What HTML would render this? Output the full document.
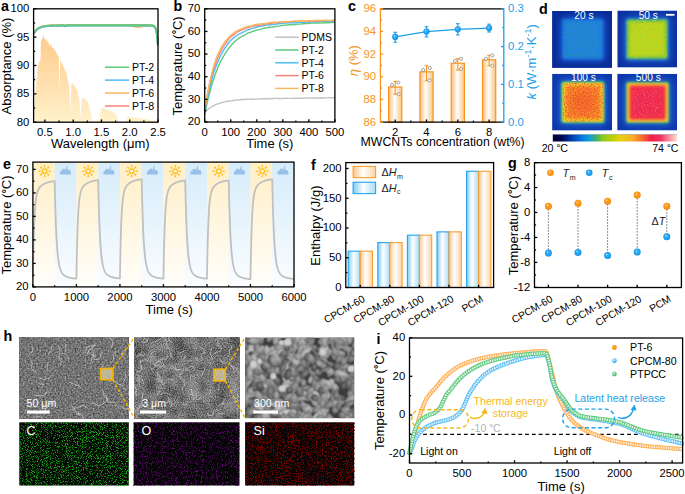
<!DOCTYPE html>
<html><head><meta charset="utf-8"><style>
html,body{margin:0;padding:0;background:#fff;overflow:hidden}
svg{display:block}
text{font-family:"Liberation Sans",sans-serif}
</style></head><body>
<svg width="685" height="494" viewBox="0 0 685 494">
<defs><linearGradient id="solar" x1="0" y1="0" x2="0" y2="1"><stop offset="0" stop-color="#FFCA8A"/><stop offset="0.55" stop-color="#FFDFAE"/><stop offset="1" stop-color="#FFF2CA"/></linearGradient>
<linearGradient id="barO" x1="0" y1="0" x2="1" y2="0"><stop offset="0" stop-color="#FDBB70"/><stop offset="0.45" stop-color="#FFFFFF"/><stop offset="1" stop-color="#FDC47F"/></linearGradient>
<radialGradient id="ballB" cx="0.5" cy="0.5" r="0.5" fx="0.36" fy="0.32"><stop offset="0" stop-color="#E4F6FF"/><stop offset="0.28" stop-color="#36B2F8"/><stop offset="0.8" stop-color="#1C9EEE"/><stop offset="1" stop-color="#128CDC"/></radialGradient>
<radialGradient id="ballO" cx="0.5" cy="0.5" r="0.5" fx="0.36" fy="0.32"><stop offset="0" stop-color="#FFF0DA"/><stop offset="0.28" stop-color="#FFA42C"/><stop offset="0.8" stop-color="#FA9214"/><stop offset="1" stop-color="#EC8200"/></radialGradient>
<linearGradient id="stY" x1="0" y1="0" x2="0" y2="1"><stop offset="0" stop-color="#FFEFC6"/><stop offset="0.5" stop-color="#FFF6E0"/><stop offset="1" stop-color="#FFFEFA"/></linearGradient>
<linearGradient id="stB" x1="0" y1="0" x2="0" y2="1"><stop offset="0" stop-color="#D6ECFA"/><stop offset="0.5" stop-color="#E8F4FC"/><stop offset="1" stop-color="#FAFDFF"/></linearGradient>
<g id="sun"><circle r="2.3" fill="#FFF6D8" stroke="#FFBD1E" stroke-width="1.35"/><line x1="4.5" y1="0" x2="5.4" y2="0" stroke="#FFBD1E" stroke-width="1.6" stroke-linecap="round"/><line x1="3.18" y1="3.18" x2="3.82" y2="3.82" stroke="#FFBD1E" stroke-width="1.6" stroke-linecap="round"/><line x1="0" y1="4.5" x2="0" y2="5.4" stroke="#FFBD1E" stroke-width="1.6" stroke-linecap="round"/><line x1="-3.18" y1="3.18" x2="-3.82" y2="3.82" stroke="#FFBD1E" stroke-width="1.6" stroke-linecap="round"/><line x1="-4.5" y1="0" x2="-5.4" y2="0" stroke="#FFBD1E" stroke-width="1.6" stroke-linecap="round"/><line x1="-3.18" y1="-3.18" x2="-3.82" y2="-3.82" stroke="#FFBD1E" stroke-width="1.6" stroke-linecap="round"/><line x1="-0" y1="-4.5" x2="-0" y2="-5.4" stroke="#FFBD1E" stroke-width="1.6" stroke-linecap="round"/><line x1="3.18" y1="-3.18" x2="3.82" y2="-3.82" stroke="#FFBD1E" stroke-width="1.6" stroke-linecap="round"/></g>
<g id="cloud" fill="#98BFE7"><path d="M-5.4,3.2 L5.0,3.2 C5.8,3.2 6.0,1.2 5.2,0.6 C5.5,-0.6 4.6,-1.4 3.6,-1.3 C3.0,-1.6 2.2,-1.5 1.8,-1.2 L0.4,-1.2 C0.2,-2.2 -0.6,-2.6 -1.6,-2.6 C-2.8,-2.6 -3.4,-1.9 -3.5,-1.0 C-4.6,-0.9 -5.4,0 -5.4,1.2 Z"/><path d="M0.6,-1.0 C0.3,-2.8 1.0,-5.0 2.5,-6.2 C2.0,-4.6 2.0,-3.0 2.5,-1.2 Z"/></g>
<linearGradient id="barB" x1="0" y1="0" x2="1" y2="0"><stop offset="0" stop-color="#7FCBF7"/><stop offset="0.45" stop-color="#FFFFFF"/><stop offset="1" stop-color="#A8DBF9"/></linearGradient>
<linearGradient id="barO2" x1="0" y1="0" x2="1" y2="0"><stop offset="0" stop-color="#FCC58A"/><stop offset="0.45" stop-color="#FFFFFF"/><stop offset="1" stop-color="#FDD2A3"/></linearGradient>
<radialGradient id="ballBL" cx="0.38" cy="0.35" r="0.65"><stop offset="0" stop-color="#E8F6FF"/><stop offset="0.4" stop-color="#7CCBF7"/><stop offset="1" stop-color="#3AA8EC"/></radialGradient>
<radialGradient id="ballG" cx="0.38" cy="0.35" r="0.65"><stop offset="0" stop-color="#E6F8EA"/><stop offset="0.4" stop-color="#7DD394"/><stop offset="1" stop-color="#44B463"/></radialGradient>
<filter id="blH" x="-50%" y="-50%" width="200%" height="200%"><feGaussianBlur stdDeviation="4.2"/></filter>
<filter id="blR" x="-20%" y="-20%" width="140%" height="140%"><feGaussianBlur stdDeviation="1.4"/></filter>
<filter id="blE" x="-10%" y="-10%" width="120%" height="120%"><feGaussianBlur stdDeviation="0.9"/></filter>
<filter id="blI" x="-20%" y="-20%" width="140%" height="140%"><feGaussianBlur stdDeviation="1.8"/></filter>
<filter id="blC" x="-40%" y="-40%" width="180%" height="180%"><feGaussianBlur stdDeviation="5"/></filter>
<filter id="spk20" color-interpolation-filters="sRGB" x="0" y="0" width="100%" height="100%"><feTurbulence type="fractalNoise" baseFrequency="0.9" numOctaves="2" seed="11"/><feColorMatrix type="matrix" values="0 0 0 0 0.12  0 0 0 0 0.62  0 0 0 0 0.62  2.6 0 0 0 -1.3"/><feGaussianBlur stdDeviation="0.45"/></filter>
<filter id="spk50" color-interpolation-filters="sRGB" x="0" y="0" width="100%" height="100%"><feTurbulence type="fractalNoise" baseFrequency="0.9" numOctaves="2" seed="12"/><feColorMatrix type="matrix" values="0 0 0 0 0.9  0 0 0 0 0.86  0 0 0 0 0.05  2.6 0 0 0 -1.35"/><feGaussianBlur stdDeviation="0.45"/></filter>
<filter id="spk100" color-interpolation-filters="sRGB" x="0" y="0" width="100%" height="100%"><feTurbulence type="fractalNoise" baseFrequency="0.9" numOctaves="2" seed="13"/><feColorMatrix type="matrix" values="0 0 0 0 0.93  0 0 0 0 0.25  0 0 0 0 0.14  3.0 0 0 0 -1.4"/><feGaussianBlur stdDeviation="0.45"/></filter>
<filter id="spk500" color-interpolation-filters="sRGB" x="0" y="0" width="100%" height="100%"><feTurbulence type="fractalNoise" baseFrequency="0.9" numOctaves="2" seed="14"/><feColorMatrix type="matrix" values="0 0 0 0 0.99  0 0 0 0 0.62  0 0 0 0 0.72  2.4 0 0 0 -1.4"/><feGaussianBlur stdDeviation="0.45"/></filter>
<filter id="spk100b" color-interpolation-filters="sRGB" x="0" y="0" width="100%" height="100%"><feTurbulence type="fractalNoise" baseFrequency="0.9" numOctaves="2" seed="15"/><feColorMatrix type="matrix" values="0 0 0 0 0.99  0 0 0 0 0.78  0 0 0 0 0.1  3 0 0 0 -1.5"/><feGaussianBlur stdDeviation="0.45"/></filter>
<clipPath id="clip5531"><rect x="552.1" y="10.9" width="59.9" height="57"/></clipPath>
<clipPath id="clip6183"><rect x="617.3" y="10.5" width="59.8" height="57.1"/></clipPath>
<clipPath id="clip5594"><rect x="552.1" y="73.8" width="59.9" height="56.8"/></clipPath>
<clipPath id="clip6245"><rect x="617.2" y="73.8" width="59.9" height="56.7"/></clipPath>
<linearGradient id="cbar" x1="0" y1="0" x2="1" y2="0"><stop offset="0" stop-color="#000038"/><stop offset="0.07" stop-color="#00084C"/><stop offset="0.11" stop-color="#001E82"/><stop offset="0.18" stop-color="#0050C0"/><stop offset="0.245" stop-color="#0480E2"/><stop offset="0.3" stop-color="#12A0D4"/><stop offset="0.35" stop-color="#40B068"/><stop offset="0.4" stop-color="#8CC824"/><stop offset="0.475" stop-color="#B8D004"/><stop offset="0.54" stop-color="#E6D012"/><stop offset="0.64" stop-color="#F8B022"/><stop offset="0.73" stop-color="#F86230"/><stop offset="0.79" stop-color="#F02048"/><stop offset="0.87" stop-color="#F03462"/><stop offset="0.93" stop-color="#F88494"/><stop offset="1.0" stop-color="#FFE2CC"/></linearGradient>
<filter id="sem1" color-interpolation-filters="sRGB" x="0" y="0" width="100%" height="100%"><feTurbulence type="fractalNoise" baseFrequency="0.6" numOctaves="2" seed="4"/><feColorMatrix type="matrix" values="0.6 0 0 0 0.15  0.6 0 0 0 0.15  0.6 0 0 0 0.15  0 0 0 0 1"/></filter>
<filter id="sem2" color-interpolation-filters="sRGB" x="0" y="0" width="100%" height="100%"><feTurbulence type="fractalNoise" baseFrequency="0.85" numOctaves="1" seed="9"/><feColorMatrix type="matrix" values="1 0 0 0 0  1 0 0 0 0  1 0 0 0 0  0 0 0 0 1" result="f"/><feTurbulence type="fractalNoise" baseFrequency="0.07" numOctaves="2" seed="3"/><feColorMatrix type="matrix" values="1 0 0 0 0  1 0 0 0 0  1 0 0 0 0  0 0 0 0 1" result="c"/><feComposite in="f" in2="c" operator="arithmetic" k1="0" k2="0.7" k3="0.42" k4="-0.11"/></filter>
<filter id="sem3" color-interpolation-filters="sRGB" x="0" y="0" width="100%" height="100%"><feTurbulence type="fractalNoise" baseFrequency="0.16" numOctaves="3" seed="21"/><feColorMatrix type="matrix" values="1.7 0 0 0 -0.43  1.7 0 0 0 -0.43  1.7 0 0 0 -0.43  0 0 0 0 1"/></filter>
<filter id="edsC" color-interpolation-filters="sRGB" x="0" y="0" width="100%" height="100%"><feTurbulence type="fractalNoise" baseFrequency="1.2" numOctaves="2" seed="31"/><feColorMatrix type="matrix" values="0 0 0 0 0.09  0 0 0 0 0.68  0 0 0 0 0.09  5.0 0 0 0 -2.5"/><feGaussianBlur stdDeviation="0.4"/></filter>
<filter id="edsO" color-interpolation-filters="sRGB" x="0" y="0" width="100%" height="100%"><feTurbulence type="fractalNoise" baseFrequency="1.2" numOctaves="2" seed="32"/><feColorMatrix type="matrix" values="0 0 0 0 0.4  0 0 0 0 0.04  0 0 0 0 0.47  5.0 0 0 0 -2.65"/><feGaussianBlur stdDeviation="0.4"/></filter>
<filter id="edsS" color-interpolation-filters="sRGB" x="0" y="0" width="100%" height="100%"><feTurbulence type="fractalNoise" baseFrequency="1.2" numOctaves="2" seed="33"/><feColorMatrix type="matrix" values="0 0 0 0 0.54  0 0 0 0 0.02  0 0 0 0 0.02  4.0 0 0 0 -1.9"/><feGaussianBlur stdDeviation="0.4"/></filter>
<radialGradient id="part" cx="0.42" cy="0.38" r="0.62"><stop offset="0" stop-color="#fff" stop-opacity="0.35"/><stop offset="0.6" stop-color="#fff" stop-opacity="0.06"/><stop offset="1" stop-color="#000" stop-opacity="0.35"/></radialGradient>
<filter id="pblur" x="-5%" y="-5%" width="110%" height="110%" filterRes="200"><feConvolveMatrix order="3" kernelMatrix="1 2 1 2 4 2 1 2 1" divisor="16" edgeMode="duplicate"/></filter>
<clipPath id="sc19"><rect x="19.3" y="337.4" width="109.5" height="80.8"/></clipPath>
<clipPath id="sc134"><rect x="134.2" y="337.4" width="105.6" height="80.8"/></clipPath>
<clipPath id="sc245"><rect x="245.1" y="337.4" width="109.2" height="80.8"/></clipPath></defs>
<path d="M33.6,122.2 L33.6,122.2 L33.83,117.66 L34.05,113.13 L34.28,109.35 L34.5,106.32 L34.73,103.3 L34.96,100.28 L35.18,97.25 L35.41,94.23 L35.64,91.2 L35.86,88.18 L36.09,85.62 L36.31,83.06 L36.54,80.5 L36.77,77.94 L36.99,75.38 L37.22,72.82 L37.45,70.26 L37.67,68.12 L37.9,67.26 L38.12,66.4 L38.35,65.54 L38.58,64.68 L38.8,63.82 L39.03,62.96 L39.25,62.1 L39.48,61.53 L39.71,60.96 L39.93,60.4 L40.16,59.83 L40.39,59.26 L40.61,58.7 L40.84,44.18 L41.06,40.3 L41.29,40.62 L41.52,40.91 L41.74,38.65 L41.97,40.04 L42.19,37.76 L42.42,39.66 L42.65,37.15 L42.87,36.15 L43.1,38.3 L43.33,34.72 L43.55,34.69 L43.78,36.35 L44,37.1 L44.23,37.71 L44.46,40.05 L44.68,38.66 L44.91,38.5 L45.14,39.32 L45.36,39.16 L45.59,39.22 L45.81,39.03 L46.04,39.07 L46.27,39.97 L46.49,39.41 L46.72,41.18 L46.94,42.75 L47.17,41.77 L47.4,41.27 L47.62,40.91 L47.85,41.34 L48.08,41.62 L48.3,42.12 L48.53,42.14 L48.75,45 L48.98,43.98 L49.21,46.67 L49.43,47.82 L49.66,45.27 L49.89,45.21 L50.11,43.99 L50.34,43.99 L50.56,44.98 L50.79,44.51 L51.02,44.98 L51.24,44.95 L51.47,46.53 L51.69,48.68 L51.92,46.1 L52.15,48.74 L52.37,46.47 L52.6,47.44 L52.83,47.79 L53.05,47.64 L53.28,47.67 L53.5,48.04 L53.73,48.63 L53.96,48.4 L54.18,49.3 L54.41,49.41 L54.63,50.69 L54.86,49.83 L55.09,50.5 L55.31,50.47 L55.54,50.92 L55.77,51.5 L55.99,52.84 L56.22,52.04 L56.44,52.93 L56.67,53.2 L56.9,53.04 L57.12,53.44 L57.35,55.82 L57.58,54.51 L57.8,54.72 L58.03,56.2 L58.25,56.78 L58.48,56.48 L58.71,56.34 L58.93,61.38 L59.16,73.17 L59.38,88.61 L59.61,86.8 L59.84,72.06 L60.06,65.42 L60.29,59.63 L60.52,60.36 L60.74,61.03 L60.97,60.97 L61.19,63.45 L61.42,63.11 L61.65,62.07 L61.87,63.17 L62.1,63.31 L62.33,65.54 L62.55,64.84 L62.78,65.04 L63,65.88 L63.23,66.24 L63.46,66.83 L63.68,67.39 L63.91,67.46 L64.13,67.39 L64.36,68.45 L64.59,68.68 L64.81,71.64 L65.04,70.15 L65.27,72.19 L65.49,70.06 L65.72,70.49 L65.94,71.35 L66.17,71.98 L66.4,73 L66.62,74.45 L66.85,74.66 L67.07,75.36 L67.3,77.69 L67.53,79.6 L67.75,79.01 L67.98,80.51 L68.21,81.16 L68.43,82.68 L68.66,83.48 L68.88,84.65 L69.11,86.34 L69.34,86.85 L69.56,91.21 L69.79,96.68 L70.02,106.9 L70.24,111.09 L70.47,111.39 L70.69,104.1 L70.92,99.13 L71.15,88.91 L71.37,83.05 L71.6,83.4 L71.82,83.72 L72.05,83.94 L72.28,83.08 L72.5,83.07 L72.73,85.09 L72.96,83.1 L73.18,83.41 L73.41,87.02 L73.63,84.63 L73.86,85.17 L74.09,85.12 L74.31,85.34 L74.54,85.08 L74.77,85.1 L74.99,85.67 L75.22,88.16 L75.44,89.83 L75.67,87.45 L75.9,87.39 L76.12,87.68 L76.35,88.06 L76.57,89.97 L76.8,88.81 L77.03,90.73 L77.25,91.56 L77.48,90.71 L77.71,92.14 L77.93,91.84 L78.16,93.49 L78.38,98.26 L78.61,97.34 L78.84,95.73 L79.06,97.45 L79.29,101.31 L79.51,103.01 L79.74,106.27 L79.97,109.14 L80.19,113.11 L80.42,117.79 L80.65,114.31 L80.87,114.24 L81.1,108.61 L81.32,105.63 L81.55,102.35 L81.78,99.31 L82,98.86 L82.23,98.73 L82.46,98.57 L82.68,98.01 L82.91,99.39 L83.13,99.06 L83.36,97.82 L83.59,97.82 L83.81,97.92 L84.04,98.07 L84.26,99.91 L84.49,98.7 L84.72,98.51 L84.94,98.6 L85.17,98.6 L85.4,98.89 L85.62,99.33 L85.85,100.01 L86.07,99.65 L86.3,101.67 L86.53,100.24 L86.75,99.94 L86.98,99.98 L87.21,100.15 L87.43,101.76 L87.66,101.95 L87.88,101.76 L88.11,104.14 L88.34,102.6 L88.56,104.06 L88.79,106.02 L89.01,107.51 L89.24,106.21 L89.47,108.56 L89.69,107.9 L89.92,109.06 L90.15,109.55 L90.37,110.86 L90.6,111.4 L90.82,113.03 L91.05,117.62 L91.28,115.45 L91.5,116.59 L91.73,118.06 L91.95,119.25 L92.18,120.16 L92.41,121.07 L92.63,121.97 L92.86,122.2 L93.09,122.2 L93.31,122.2 L93.54,122.2 L93.76,122.2 L93.99,122.2 L94.22,122.2 L94.44,122.2 L94.67,122.2 L94.9,122.2 L95.12,122.2 L95.35,122.2 L95.57,122.2 L95.8,122.2 L96.03,122.2 L96.25,122.2 L96.48,122.03 L96.7,121.69 L96.93,121.35 L97.16,121.01 L97.38,120.67 L97.61,120.39 L97.84,120.16 L98.06,119.93 L98.29,119.71 L98.51,119.48 L98.74,119.59 L98.97,120.05 L99.19,120.5 L99.42,120.95 L99.65,119.48 L99.87,117.36 L100.1,115.24 L100.32,113.13 L100.55,111.99 L100.78,110.86 L101,109.73 L101.23,108.59 L101.45,107.46 L101.68,107.55 L101.91,107.64 L102.13,107.73 L102.36,107.82 L102.59,107.91 L102.81,108 L103.04,108.09 L103.26,108.18 L103.49,108.27 L103.72,108.37 L103.94,108.46 L104.17,108.55 L104.39,108.64 L104.62,108.73 L104.85,108.82 L105.07,108.91 L105.3,109 L105.53,109.09 L105.75,109.18 L105.98,109.27 L106.2,109.36 L106.43,109.45 L106.66,109.54 L106.88,109.64 L107.11,109.73 L107.34,109.82 L107.56,109.91 L107.79,110 L108.01,110.09 L108.24,110.18 L108.47,110.27 L108.69,110.36 L108.92,110.45 L109.14,110.54 L109.37,110.63 L109.6,110.72 L109.82,110.81 L110.05,110.91 L110.28,111 L110.5,111.09 L110.73,111.18 L110.95,111.27 L111.18,111.36 L111.41,111.45 L111.63,111.54 L111.86,111.63 L112.09,111.72 L112.31,111.81 L112.54,111.9 L112.76,111.99 L112.99,112.15 L113.22,112.3 L113.44,112.45 L113.67,112.6 L113.89,112.75 L114.12,112.9 L114.35,113.05 L114.57,113.2 L114.8,113.35 L115.03,113.51 L115.25,113.66 L115.48,113.81 L115.7,113.96 L115.93,114.11 L116.16,114.26 L116.38,114.99 L116.61,115.71 L116.83,116.44 L117.06,117.17 L117.29,117.89 L117.51,118.62 L117.74,119.48 L117.97,120.39 L118.19,121.29 L118.42,122.2 L118.64,122.2 L118.87,122.2 L119.1,122.2 L119.32,122.2 L119.55,122.2 L119.78,122.2 L120,122.2 L120.23,122.2 L120.45,122.2 L120.68,122.2 L120.91,122.2 L121.13,122.2 L121.36,122.2 L121.58,122.2 L121.81,122.2 L122.04,122.2 L122.26,122.2 L122.49,122.2 L122.72,122.2 L122.94,122.2 L123.17,122.2 L123.39,122.2 L123.62,122.2 L123.85,122.2 L124.07,122.2 L124.3,122.2 L124.53,122.2 L124.75,122.2 L124.98,122.2 L125.2,122.2 L125.43,122.2 L125.66,122.2 L125.88,121.86 L126.11,121.18 L126.33,120.5 L126.56,119.82 L126.79,119.14 L127.01,118.6 L127.24,118.2 L127.47,117.81 L127.69,117.41 L127.92,117.01 L128.14,116.82 L128.37,116.83 L128.6,116.85 L128.82,116.86 L129.05,116.88 L129.27,116.89 L129.5,116.91 L129.73,116.92 L129.95,116.93 L130.18,116.95 L130.41,116.96 L130.63,116.98 L130.86,116.99 L131.08,117 L131.31,117.02 L131.54,117.03 L131.76,117.05 L131.99,117.06 L132.22,117.08 L132.44,117.09 L132.67,117.11 L132.89,117.15 L133.12,117.18 L133.35,117.22 L133.57,117.25 L133.8,117.28 L134.02,117.32 L134.25,117.35 L134.48,117.39 L134.7,117.42 L134.93,117.45 L135.16,117.49 L135.38,117.52 L135.61,117.56 L135.83,117.59 L136.06,117.62 L136.29,117.66 L136.51,117.69 L136.74,117.73 L136.97,117.76 L137.19,117.79 L137.42,117.83 L137.64,117.86 L137.87,117.9 L138.1,117.93 L138.32,117.96 L138.55,118 L138.77,118.03 L139,118.07 L139.23,118.1 L139.45,118.13 L139.68,118.17 L139.91,118.2 L140.13,118.24 L140.36,118.27 L140.58,118.3 L140.81,118.34 L141.04,118.37 L141.26,118.41 L141.49,118.44 L141.71,118.47 L141.94,118.51 L142.17,118.54 L142.39,118.58 L142.62,118.61 L142.85,118.64 L143.07,118.68 L143.3,118.71 L143.52,118.75 L143.75,118.78 L143.98,118.82 L144.2,118.85 L144.43,118.88 L144.66,118.92 L144.88,118.95 L145.11,118.99 L145.33,119.02 L145.56,119.05 L145.79,119.09 L146.01,119.12 L146.24,119.16 L146.46,119.19 L146.69,119.22 L146.92,119.26 L147.14,119.29 L147.37,119.33 L147.6,119.36 L147.82,119.39 L148.05,119.43 L148.27,119.46 L148.5,119.5 L148.73,119.53 L148.95,119.56 L149.18,119.6 L149.41,119.63 L149.63,119.67 L149.86,119.72 L150.08,119.77 L150.31,119.82 L150.54,119.87 L150.76,119.92 L150.99,119.96 L151.21,120.01 L151.44,120.06 L151.67,120.11 L151.89,120.16 L152.12,120.21 L152.35,120.26 L152.57,120.3 L152.8,120.35 L153.02,120.4 L153.25,120.45 L153.48,120.5 L153.7,120.61 L153.93,120.73 L154.15,120.84 L154.38,120.95 L154.61,121.07 L154.83,121.18 L155.06,121.29 L155.29,121.41 L155.51,121.52 L155.74,121.63 L155.96,121.69 L156.19,121.75 L156.42,121.8 L156.64,121.86 L156.87,121.92 L157.1,121.97 L157.32,122.03 L157.55,122.09 L157.77,122.14 L158,122.2 L158,122.2 Z" fill="url(#solar)"/>
<polyline points="33.6,34.31 34.17,33.25 34.73,32.32 35.3,31.51 35.86,30.79 36.43,30.16 36.99,29.6 37.56,29.11 38.12,28.68 38.69,28.29 39.25,27.95 39.82,27.65 40.39,27.39 40.95,27.15 41.52,26.94 42.08,26.76 42.65,26.59 43.21,26.45 43.78,26.32 44.34,26.2 44.91,26.1 45.47,26.01 46.04,25.92 46.61,25.85 47.17,25.79 47.74,25.73 48.3,25.68 48.87,25.63 49.43,25.59 50,25.55 50.56,25.52 51.13,25.49 51.69,25.46 52.26,25.44 52.83,25.42 53.39,25.4 53.96,25.38 54.52,25.37 55.09,25.36 55.65,25.34 56.22,25.33 56.78,25.32 57.35,25.32 57.91,25.31 58.48,25.3 59.05,25.29 59.61,25.29 60.18,25.28 60.74,25.28 61.31,25.28 61.87,25.27 62.44,25.27 63,25.27 63.57,25.26 64.13,25.27 64.7,25.42 65.27,25.91 65.83,25.62 66.4,25.28 66.96,25.25 67.53,25.25 68.09,25.25 68.66,25.25 69.22,25.25 69.79,25.25 70.35,25.25 70.92,25.25 71.49,25.25 72.05,25.25 72.62,25.25 73.18,25.25 73.75,25.25 74.31,25.25 74.88,25.25 75.44,25.25 76.01,25.24 76.57,25.24 77.14,25.24 77.71,25.24 78.27,25.24 78.84,25.24 79.4,25.24 79.97,25.24 80.53,25.24 81.1,25.24 81.66,25.24 82.23,25.24 82.79,25.24 83.36,25.24 83.93,25.24 84.49,25.24 85.06,25.24 85.62,25.24 86.19,25.24 86.75,25.24 87.32,25.24 87.88,25.24 88.45,25.24 89.01,25.24 89.58,25.24 90.15,25.24 90.71,25.24 91.28,25.24 91.84,25.24 92.41,25.24 92.97,25.24 93.54,25.24 94.1,25.24 94.67,25.24 95.23,25.24 95.8,25.24 96.37,25.24 96.93,25.24 97.5,25.24 98.06,25.24 98.63,25.24 99.19,25.24 99.76,25.24 100.32,25.24 100.89,25.24 101.45,25.24 102.02,25.24 102.59,25.24 103.15,25.24 103.72,25.24 104.28,25.24 104.85,25.24 105.41,25.24 105.98,25.24 106.54,25.24 107.11,25.24 107.67,25.24 108.24,25.24 108.81,25.24 109.37,25.24 109.94,25.24 110.5,25.24 111.07,25.24 111.63,25.24 112.2,25.24 112.76,25.24 113.33,25.24 113.89,25.24 114.46,25.24 115.03,25.24 115.59,25.24 116.16,25.24 116.72,25.24 117.29,25.24 117.85,25.24 118.42,25.24 118.98,25.24 119.55,25.24 120.11,25.24 120.68,25.24 121.25,25.24 121.81,25.24 122.38,25.24 122.94,25.24 123.51,25.24 124.07,25.24 124.64,25.24 125.2,25.24 125.77,25.24 126.33,25.24 126.9,25.24 127.47,25.24 128.03,25.24 128.6,25.24 129.16,25.24 129.73,25.24 130.29,25.24 130.86,25.24 131.42,25.24 131.99,25.24 132.55,25.24 133.12,25.24 133.69,25.24 134.25,25.24 134.82,25.24 135.38,25.24 135.95,25.24 136.51,25.24 137.08,25.24 137.64,25.24 138.21,25.24 138.77,25.24 139.34,25.24 139.91,25.24 140.47,25.24 141.04,25.24 141.6,25.24 142.17,25.24 142.73,25.24 143.3,25.24 143.86,25.24 144.43,25.24 144.99,25.24 145.56,25.24 146.13,25.24 146.69,25.25 147.26,25.25 147.82,25.25 148.39,25.25 148.95,25.26 149.52,25.27 150.08,25.28 150.65,25.3 151.21,25.34 151.78,25.39 152.35,25.48 152.91,25.61 153.14,25.69 153.36,25.78 153.59,25.88 153.82,26.01 154.04,26.16 154.27,26.34 154.49,26.56 154.72,26.83 154.95,27.14 155.17,27.52 155.4,27.98 155.63,28.52 155.85,29.17 156.08,29.96 156.3,30.9 156.53,32.03 156.76,33.38 156.98,35 157.21,36.95 157.43,39.28 157.66,42.08 157.89,45.43" fill="none" stroke="#F7867A" stroke-width="1.8" stroke-linejoin="round"/>
<polyline points="33.6,32.9 34.17,32.09 34.73,31.37 35.3,30.73 35.86,30.15 36.43,29.63 36.99,29.17 37.56,28.76 38.12,28.39 38.69,28.06 39.25,27.76 39.82,27.5 40.39,27.26 40.95,27.05 41.52,26.86 42.08,26.69 42.65,26.54 43.21,26.4 43.78,26.28 44.34,26.17 44.91,26.07 45.47,25.99 46.04,25.91 46.61,25.84 47.17,25.77 47.74,25.72 48.3,25.67 48.87,25.62 49.43,25.58 50,25.55 50.56,25.52 51.13,25.49 51.69,25.46 52.26,25.44 52.83,25.42 53.39,25.4 53.96,25.38 54.52,25.37 55.09,25.36 55.65,25.34 56.22,25.33 56.78,25.32 57.35,25.31 57.91,25.31 58.48,25.3 59.05,25.29 59.61,25.29 60.18,25.28 60.74,25.28 61.31,25.28 61.87,25.27 62.44,25.27 63,25.27 63.57,25.26 64.13,25.27 64.7,25.42 65.27,25.91 65.83,25.62 66.4,25.28 66.96,25.25 67.53,25.25 68.09,25.25 68.66,25.25 69.22,25.25 69.79,25.25 70.35,25.25 70.92,25.25 71.49,25.25 72.05,25.25 72.62,25.25 73.18,25.25 73.75,25.25 74.31,25.25 74.88,25.25 75.44,25.25 76.01,25.24 76.57,25.24 77.14,25.24 77.71,25.24 78.27,25.24 78.84,25.24 79.4,25.24 79.97,25.24 80.53,25.24 81.1,25.24 81.66,25.24 82.23,25.24 82.79,25.24 83.36,25.24 83.93,25.24 84.49,25.24 85.06,25.24 85.62,25.24 86.19,25.24 86.75,25.24 87.32,25.24 87.88,25.24 88.45,25.24 89.01,25.24 89.58,25.24 90.15,25.24 90.71,25.24 91.28,25.24 91.84,25.24 92.41,25.24 92.97,25.24 93.54,25.24 94.1,25.24 94.67,25.24 95.23,25.24 95.8,25.24 96.37,25.24 96.93,25.24 97.5,25.24 98.06,25.24 98.63,25.24 99.19,25.24 99.76,25.24 100.32,25.24 100.89,25.24 101.45,25.24 102.02,25.24 102.59,25.24 103.15,25.24 103.72,25.24 104.28,25.24 104.85,25.24 105.41,25.24 105.98,25.24 106.54,25.24 107.11,25.24 107.67,25.24 108.24,25.24 108.81,25.24 109.37,25.24 109.94,25.24 110.5,25.24 111.07,25.24 111.63,25.24 112.2,25.24 112.76,25.24 113.33,25.24 113.89,25.24 114.46,25.24 115.03,25.24 115.59,25.24 116.16,25.24 116.72,25.24 117.29,25.24 117.85,25.24 118.42,25.24 118.98,25.24 119.55,25.24 120.11,25.24 120.68,25.25 121.25,25.25 121.81,25.25 122.38,25.25 122.94,25.25 123.51,25.26 124.07,25.27 124.64,25.27 125.2,25.29 125.77,25.3 126.33,25.32 126.9,25.35 127.47,25.38 128.03,25.42 128.6,25.47 129.16,25.53 129.73,25.6 130.29,25.68 130.86,25.77 131.42,25.87 131.99,25.98 132.55,26.09 133.12,26.21 133.69,26.33 134.25,26.45 134.82,26.57 135.38,26.67 135.95,26.77 136.51,26.84 137.08,26.9 137.64,26.93 138.21,26.94 138.77,26.93 139.34,26.9 139.91,26.84 140.47,26.77 141.04,26.67 141.6,26.57 142.17,26.45 142.73,26.33 143.3,26.21 143.86,26.09 144.43,25.98 144.99,25.87 145.56,25.77 146.13,25.68 146.69,25.6 147.26,25.53 147.82,25.48 148.39,25.43 148.95,25.4 149.52,25.37 150.08,25.36 150.65,25.36 151.21,25.38 151.78,25.42 152.35,25.5 152.91,25.63 153.14,25.7 153.36,25.79 153.59,25.89 153.82,26.02 154.04,26.17 154.27,26.35 154.49,26.57 154.72,26.83 154.95,27.15 155.17,27.52 155.4,27.98 155.63,28.52 155.85,29.18 156.08,29.96 156.3,30.9 156.53,32.03 156.76,33.38 156.98,35 157.21,36.95 157.43,39.28 157.66,42.08 157.89,45.43" fill="none" stroke="#F6B95C" stroke-width="1.8" stroke-linejoin="round"/>
<polyline points="33.6,33.35 34.17,32.55 34.73,31.83 35.3,31.18 35.86,30.6 36.43,30.09 36.99,29.63 37.56,29.21 38.12,28.84 38.69,28.51 39.25,28.22 39.82,27.95 40.39,27.71 40.95,27.5 41.52,27.31 42.08,27.14 42.65,26.99 43.21,26.85 43.78,26.73 44.34,26.62 44.91,26.53 45.47,26.44 46.04,26.36 46.61,26.29 47.17,26.23 47.74,26.17 48.3,26.12 48.87,26.08 49.43,26.04 50,26 50.56,25.97 51.13,25.94 51.69,25.92 52.26,25.89 52.83,25.87 53.39,25.85 53.96,25.84 54.52,25.82 55.09,25.81 55.65,25.8 56.22,25.79 56.78,25.78 57.35,25.77 57.91,25.76 58.48,25.75 59.05,25.75 59.61,25.74 60.18,25.74 60.74,25.73 61.31,25.73 61.87,25.73 62.44,25.72 63,25.72 63.57,25.72 64.13,25.72 64.7,25.87 65.27,26.37 65.83,26.07 66.4,25.74 66.96,25.71 67.53,25.71 68.09,25.71 68.66,25.7 69.22,25.7 69.79,25.7 70.35,25.7 70.92,25.7 71.49,25.7 72.05,25.7 72.62,25.7 73.18,25.7 73.75,25.7 74.31,25.7 74.88,25.7 75.44,25.7 76.01,25.7 76.57,25.7 77.14,25.7 77.71,25.7 78.27,25.7 78.84,25.7 79.4,25.7 79.97,25.7 80.53,25.7 81.1,25.7 81.66,25.7 82.23,25.7 82.79,25.7 83.36,25.7 83.93,25.7 84.49,25.7 85.06,25.7 85.62,25.7 86.19,25.7 86.75,25.7 87.32,25.7 87.88,25.7 88.45,25.7 89.01,25.7 89.58,25.7 90.15,25.7 90.71,25.7 91.28,25.7 91.84,25.7 92.41,25.7 92.97,25.7 93.54,25.7 94.1,25.7 94.67,25.7 95.23,25.7 95.8,25.7 96.37,25.7 96.93,25.7 97.5,25.7 98.06,25.7 98.63,25.7 99.19,25.7 99.76,25.7 100.32,25.7 100.89,25.7 101.45,25.7 102.02,25.7 102.59,25.7 103.15,25.7 103.72,25.7 104.28,25.7 104.85,25.7 105.41,25.7 105.98,25.7 106.54,25.7 107.11,25.7 107.67,25.7 108.24,25.7 108.81,25.7 109.37,25.7 109.94,25.7 110.5,25.7 111.07,25.7 111.63,25.7 112.2,25.7 112.76,25.7 113.33,25.7 113.89,25.7 114.46,25.7 115.03,25.7 115.59,25.7 116.16,25.7 116.72,25.7 117.29,25.7 117.85,25.7 118.42,25.7 118.98,25.7 119.55,25.7 120.11,25.7 120.68,25.7 121.25,25.7 121.81,25.7 122.38,25.7 122.94,25.7 123.51,25.7 124.07,25.7 124.64,25.7 125.2,25.7 125.77,25.7 126.33,25.7 126.9,25.7 127.47,25.7 128.03,25.7 128.6,25.7 129.16,25.7 129.73,25.7 130.29,25.7 130.86,25.7 131.42,25.7 131.99,25.7 132.55,25.7 133.12,25.7 133.69,25.7 134.25,25.7 134.82,25.7 135.38,25.7 135.95,25.7 136.51,25.7 137.08,25.7 137.64,25.7 138.21,25.7 138.77,25.7 139.34,25.7 139.91,25.7 140.47,25.7 141.04,25.7 141.6,25.7 142.17,25.7 142.73,25.7 143.3,25.7 143.86,25.7 144.43,25.7 144.99,25.7 145.56,25.7 146.13,25.7 146.69,25.7 147.26,25.7 147.82,25.7 148.39,25.71 148.95,25.71 149.52,25.72 150.08,25.73 150.65,25.76 151.21,25.79 151.78,25.85 152.35,25.93 152.91,26.07 153.14,26.14 153.36,26.23 153.59,26.33 153.82,26.46 154.04,26.61 154.27,26.8 154.49,27.02 154.72,27.28 154.95,27.6 155.17,27.97 155.4,28.43 155.63,28.97 155.85,29.63 156.08,30.41 156.3,31.35 156.53,32.48 156.76,33.83 156.98,35.45 157.21,37.4 157.43,39.73 157.66,42.53 157.89,45.89" fill="none" stroke="#4FBCF5" stroke-width="1.8" stroke-linejoin="round"/>
<polyline points="33.6,32.9 34.17,32.09 34.73,31.37 35.3,30.73 35.86,30.15 36.43,29.63 36.99,29.17 37.56,28.76 38.12,28.39 38.69,28.06 39.25,27.76 39.82,27.5 40.39,27.26 40.95,27.05 41.52,26.86 42.08,26.69 42.65,26.54 43.21,26.4 43.78,26.28 44.34,26.17 44.91,26.07 45.47,25.99 46.04,25.91 46.61,25.84 47.17,25.77 47.74,25.72 48.3,25.67 48.87,25.62 49.43,25.58 50,25.55 50.56,25.52 51.13,25.49 51.69,25.46 52.26,25.44 52.83,25.42 53.39,25.4 53.96,25.38 54.52,25.37 55.09,25.36 55.65,25.34 56.22,25.33 56.78,25.32 57.35,25.31 57.91,25.31 58.48,25.3 59.05,25.29 59.61,25.29 60.18,25.28 60.74,25.28 61.31,25.28 61.87,25.27 62.44,25.27 63,25.27 63.57,25.26 64.13,25.27 64.7,25.42 65.27,25.91 65.83,25.62 66.4,25.28 66.96,25.25 67.53,25.25 68.09,25.25 68.66,25.25 69.22,25.25 69.79,25.25 70.35,25.25 70.92,25.25 71.49,25.25 72.05,25.25 72.62,25.25 73.18,25.25 73.75,25.25 74.31,25.25 74.88,25.25 75.44,25.25 76.01,25.24 76.57,25.24 77.14,25.24 77.71,25.24 78.27,25.24 78.84,25.24 79.4,25.24 79.97,25.24 80.53,25.24 81.1,25.24 81.66,25.24 82.23,25.24 82.79,25.24 83.36,25.24 83.93,25.24 84.49,25.24 85.06,25.24 85.62,25.24 86.19,25.24 86.75,25.24 87.32,25.24 87.88,25.24 88.45,25.24 89.01,25.24 89.58,25.24 90.15,25.24 90.71,25.24 91.28,25.24 91.84,25.24 92.41,25.24 92.97,25.24 93.54,25.24 94.1,25.24 94.67,25.24 95.23,25.24 95.8,25.24 96.37,25.24 96.93,25.24 97.5,25.24 98.06,25.24 98.63,25.24 99.19,25.24 99.76,25.24 100.32,25.24 100.89,25.24 101.45,25.24 102.02,25.24 102.59,25.24 103.15,25.24 103.72,25.24 104.28,25.24 104.85,25.24 105.41,25.24 105.98,25.24 106.54,25.24 107.11,25.24 107.67,25.24 108.24,25.24 108.81,25.24 109.37,25.24 109.94,25.24 110.5,25.24 111.07,25.24 111.63,25.24 112.2,25.24 112.76,25.24 113.33,25.24 113.89,25.24 114.46,25.24 115.03,25.24 115.59,25.24 116.16,25.24 116.72,25.24 117.29,25.24 117.85,25.24 118.42,25.24 118.98,25.24 119.55,25.24 120.11,25.24 120.68,25.24 121.25,25.24 121.81,25.24 122.38,25.24 122.94,25.24 123.51,25.24 124.07,25.24 124.64,25.24 125.2,25.24 125.77,25.24 126.33,25.24 126.9,25.24 127.47,25.24 128.03,25.24 128.6,25.24 129.16,25.24 129.73,25.24 130.29,25.24 130.86,25.24 131.42,25.24 131.99,25.24 132.55,25.24 133.12,25.24 133.69,25.24 134.25,25.24 134.82,25.24 135.38,25.24 135.95,25.24 136.51,25.24 137.08,25.24 137.64,25.24 138.21,25.24 138.77,25.24 139.34,25.24 139.91,25.24 140.47,25.24 141.04,25.24 141.6,25.24 142.17,25.24 142.73,25.24 143.3,25.24 143.86,25.24 144.43,25.24 144.99,25.24 145.56,25.24 146.13,25.24 146.69,25.25 147.26,25.25 147.82,25.25 148.39,25.25 148.95,25.26 149.52,25.27 150.08,25.28 150.65,25.3 151.21,25.34 151.78,25.39 152.35,25.48 152.91,25.61 153.14,25.69 153.36,25.78 153.59,25.88 153.82,26.01 154.04,26.16 154.27,26.34 154.49,26.56 154.72,26.83 154.95,27.14 155.17,27.52 155.4,27.98 155.63,28.52 155.85,29.17 156.08,29.96 156.3,30.9 156.53,32.03 156.76,33.38 156.98,35 157.21,36.95 157.43,39.28 157.66,42.08 157.89,45.43" fill="none" stroke="#5DC97C" stroke-width="1.8" stroke-linejoin="round"/>
<rect x="33.6" y="8.8" width="124.4" height="113.4" fill="none" stroke="#000" stroke-width="1.3"/>
<line x1="33.6" y1="122.2" x2="36.4" y2="122.2" stroke="#000" stroke-width="1.3"/>
<line x1="33.6" y1="93.85" x2="36.4" y2="93.85" stroke="#000" stroke-width="1.3"/>
<line x1="33.6" y1="65.5" x2="36.4" y2="65.5" stroke="#000" stroke-width="1.3"/>
<line x1="33.6" y1="37.15" x2="36.4" y2="37.15" stroke="#000" stroke-width="1.3"/>
<line x1="33.6" y1="8.8" x2="36.4" y2="8.8" stroke="#000" stroke-width="1.3"/>
<line x1="33.6" y1="108.03" x2="35.2" y2="108.03" stroke="#000" stroke-width="1.3"/>
<line x1="33.6" y1="79.68" x2="35.2" y2="79.68" stroke="#000" stroke-width="1.3"/>
<line x1="33.6" y1="51.33" x2="35.2" y2="51.33" stroke="#000" stroke-width="1.3"/>
<line x1="33.6" y1="22.98" x2="35.2" y2="22.98" stroke="#000" stroke-width="1.3"/>
<text x="29.3" y="125.6" font-size="11.3" text-anchor="end">80</text>
<text x="29.3" y="97.25" font-size="11.3" text-anchor="end">85</text>
<text x="29.3" y="68.9" font-size="11.3" text-anchor="end">90</text>
<text x="29.3" y="40.55" font-size="11.3" text-anchor="end">95</text>
<text x="29.3" y="12.2" font-size="11.3" text-anchor="end">100</text>
<line x1="44.91" y1="122.2" x2="44.91" y2="119.4" stroke="#000" stroke-width="1.3"/>
<line x1="73.18" y1="122.2" x2="73.18" y2="119.4" stroke="#000" stroke-width="1.3"/>
<line x1="101.45" y1="122.2" x2="101.45" y2="119.4" stroke="#000" stroke-width="1.3"/>
<line x1="129.73" y1="122.2" x2="129.73" y2="119.4" stroke="#000" stroke-width="1.3"/>
<line x1="158" y1="122.2" x2="158" y2="119.4" stroke="#000" stroke-width="1.3"/>
<line x1="59.05" y1="122.2" x2="59.05" y2="120.6" stroke="#000" stroke-width="1.3"/>
<line x1="87.32" y1="122.2" x2="87.32" y2="120.6" stroke="#000" stroke-width="1.3"/>
<line x1="115.59" y1="122.2" x2="115.59" y2="120.6" stroke="#000" stroke-width="1.3"/>
<line x1="143.86" y1="122.2" x2="143.86" y2="120.6" stroke="#000" stroke-width="1.3"/>
<text x="44.91" y="135.9" font-size="11.3" text-anchor="middle">0.5</text>
<text x="73.18" y="135.9" font-size="11.3" text-anchor="middle">1.0</text>
<text x="101.45" y="135.9" font-size="11.3" text-anchor="middle">1.5</text>
<text x="129.73" y="135.9" font-size="11.3" text-anchor="middle">2.0</text>
<text x="158" y="135.9" font-size="11.3" text-anchor="middle">2.5</text>
<text x="100.3" y="147.8" font-size="13" text-anchor="middle">Wavelength (μm)</text>
<text x="11.3" y="66" font-size="13" text-anchor="middle" transform="rotate(-90 11.3 66)">Absorptance (%)</text>
<text x="1" y="11.1" font-size="14.3" font-weight="bold">a</text>
<line x1="104.9" y1="67.2" x2="129.2" y2="67.2" stroke="#5DC97C" stroke-width="1.5"/>
<text x="132" y="70.9" font-size="10.5">PT-2</text>
<line x1="104.9" y1="80.13" x2="129.2" y2="80.13" stroke="#4FBCF5" stroke-width="1.5"/>
<text x="132" y="83.83" font-size="10.5">PT-4</text>
<line x1="104.9" y1="93.06" x2="129.2" y2="93.06" stroke="#F6B95C" stroke-width="1.5"/>
<text x="132" y="96.76" font-size="10.5">PT-6</text>
<line x1="104.9" y1="105.99" x2="129.2" y2="105.99" stroke="#F7867A" stroke-width="1.5"/>
<text x="132" y="109.69" font-size="10.5">PT-8</text>
<polyline points="204.7,112.04 205.74,111.07 206.78,110.16 207.82,109.17 208.87,108.72 209.91,107.92 210.95,107.26 211.99,106.49 213.03,106 214.07,105.55 215.12,104.95 216.16,104.38 217.2,104.24 218.24,103.61 219.28,103.45 220.32,102.85 221.37,102.79 222.41,102.43 223.45,102.21 224.49,101.83 225.53,101.65 226.57,101.49 227.62,101.22 228.66,101.01 229.7,101.04 230.74,100.87 231.78,100.73 232.82,100.54 233.86,100.47 234.91,100.04 235.95,100.13 236.99,100.03 238.03,100.07 239.07,100.01 240.11,99.8 241.16,99.52 242.2,99.54 243.24,99.55 244.28,99.44 245.32,99.44 246.36,99.19 247.41,99.27 248.45,99.09 249.49,99.09 250.53,99.2 251.57,99.23 252.61,99.01 253.66,99.14 254.7,99.2 255.74,99.11 256.78,99.07 257.82,98.87 258.86,98.87 259.9,98.88 260.95,98.66 261.99,98.87 263.03,98.66 264.07,98.73 265.11,98.74 266.15,98.74 267.2,98.54 268.24,98.74 269.28,98.82 270.32,98.68 271.36,98.49 272.4,98.73 273.45,98.56 274.49,98.39 275.53,98.39 276.57,98.44 277.61,98.22 278.65,98.48 279.7,98.5 280.74,98.67 281.78,98.4 282.82,98.32 283.86,98.45 284.9,98.42 285.94,98.32 286.99,98.31 288.03,98.39 289.07,98.41 290.11,98.37 291.15,98.6 292.19,98.35 293.24,98.16 294.28,98.13 295.32,98.5 296.36,98.27 297.4,98.27 298.44,98.31 299.49,98.11 300.53,98.28 301.57,98.18 302.61,98.17 303.65,98.29 304.69,98.14 305.74,98.16 306.78,98.06 307.82,98.16 308.86,98.01 309.9,98.08 310.94,98.08 311.98,98.06 313.03,98.26 314.07,97.84 315.11,97.84 316.15,98.06 317.19,98.23 318.23,98.01 319.28,97.86 320.32,98.28 321.36,97.68 322.4,98.02 323.44,97.97 324.48,97.98 325.53,97.85 326.57,97.83 327.61,97.85 328.65,97.81 329.69,97.92 330.73,97.75 331.78,97.85 332.82,97.81 333.86,97.65 334.9,97.74" fill="none" stroke="#C2C2C2" stroke-width="1.4" stroke-linejoin="round"/>
<polyline points="204.7,114.76 205.48,110.84 206.26,107.09 207.04,103.52 207.82,100.11 208.61,96.85 209.39,93.74 210.17,90.87 210.95,88.07 211.73,85.16 212.51,82.53 213.29,80.25 214.07,77.82 214.86,75.62 215.64,73.52 216.42,71.2 217.2,69.17 217.98,67.23 218.76,65.38 219.54,63.75 220.32,62.06 221.11,60.55 221.89,59.39 222.67,57.94 223.45,56.38 224.23,55.12 225.01,53.73 225.79,52.6 226.57,51.41 227.35,50.29 228.14,49.18 228.92,48.09 229.7,47.24 230.48,46.29 231.26,45.19 232.04,44.27 232.82,43.53 233.6,42.76 234.39,42.02 235.17,41.27 235.95,40.59 236.73,39.92 237.51,39.31 238.29,38.78 239.07,38.1 239.85,37.46 240.64,37.13 241.42,36.77 242.2,36.24 242.98,35.91 243.76,35.48 244.54,35.07 245.32,34.62 246.1,34.28 246.88,33.6 247.67,33.18 248.45,32.78 249.23,32.64 250.01,32.5 250.79,32.17 251.57,31.77 252.35,31.49 253.13,31.11 253.92,31.13 254.7,30.75 255.48,30.37 256.26,30.33 257.04,30.06 257.82,29.82 258.6,29.66 259.38,29.67 260.17,29.57 260.95,29.29 261.73,28.94 262.51,28.73 263.29,28.35 264.07,28.28 264.85,27.93 265.63,28.03 266.41,27.86 267.2,27.64 267.98,27.42 268.76,27.17 269.54,27.18 270.32,27.3 271.1,27.16 271.88,27.17 272.66,26.99 273.45,26.95 274.23,26.82 275.01,26.67 275.79,26.5 276.57,26.44 277.35,26.16 278.13,26.12 278.91,26.03 279.7,25.85 280.48,25.76 281.26,25.5 282.04,25.45 282.82,25.43 283.6,25.22 284.38,25.11 285.16,25.15 285.94,25.14 286.73,25.04 287.51,24.82 288.29,24.68 289.07,24.64 289.85,24.89 290.63,24.74 291.41,24.82 292.19,24.92 292.98,24.89 293.76,24.77 294.54,24.66 295.32,24.28 296.1,24.27 296.88,24.32 297.66,24.13 298.44,24.07 299.23,24.09 300.01,24.15 300.79,24.09 301.57,23.87 302.35,23.76 303.13,23.78 303.91,23.65 304.69,23.61 305.47,23.75 306.26,23.63 307.04,23.53 307.82,23.32 308.6,23.34 309.38,23.47 310.16,23.36 310.94,23.06 311.72,23.17 312.51,22.98 313.29,23 314.07,22.94 314.85,22.96 315.63,23.07 316.41,22.94 317.19,22.99 317.97,22.96 318.76,22.89 319.54,23.04 320.32,22.94 321.1,22.87 321.88,22.89 322.66,22.94 323.44,22.88 324.22,22.8 325,22.8 325.79,22.76 326.57,22.74 327.35,22.92 328.13,22.73 328.91,22.58 329.69,22.71 330.47,22.43 331.25,22.46 332.04,22.51 332.82,22.45 333.6,22.29 334.38,22.39" fill="none" stroke="#5DC97C" stroke-width="1.4" stroke-linejoin="round"/>
<polyline points="204.7,113.4 205.48,108.87 206.26,104.59 207.04,100.53 207.82,96.68 208.61,93.03 209.39,89.58 210.17,86.13 210.95,83.22 211.73,80.04 212.51,77.07 213.29,74.28 214.07,71.82 214.86,69.41 215.64,67.13 216.42,65.26 217.2,63.3 217.98,61.38 218.76,59.68 219.54,57.93 220.32,56.23 221.11,54.71 221.89,53.39 222.67,51.78 223.45,50.34 224.23,49.07 225.01,47.82 225.79,46.88 226.57,45.76 227.35,44.72 228.14,43.5 228.92,42.5 229.7,41.66 230.48,40.67 231.26,39.84 232.04,39.19 232.82,38.54 233.6,37.6 234.39,37.07 235.17,36.54 235.95,35.99 236.73,35.54 237.51,35 238.29,34.47 239.07,33.97 239.85,33.75 240.64,33.44 241.42,33.16 242.2,32.58 242.98,32.12 243.76,31.98 244.54,31.5 245.32,30.98 246.1,30.65 246.88,30.3 247.67,29.84 248.45,29.8 249.23,29.47 250.01,29.08 250.79,28.62 251.57,28.4 252.35,28.39 253.13,28.11 253.92,28.03 254.7,27.83 255.48,27.5 256.26,27.42 257.04,27.05 257.82,26.79 258.6,26.59 259.38,26.43 260.17,26.36 260.95,26.18 261.73,26.02 262.51,25.97 263.29,25.85 264.07,25.47 264.85,25.39 265.63,25.19 266.41,25.1 267.2,24.96 267.98,24.85 268.76,24.94 269.54,24.83 270.32,24.8 271.1,24.66 271.88,24.69 272.66,24.49 273.45,24.48 274.23,24.53 275.01,24.31 275.79,24.34 276.57,24.06 277.35,23.82 278.13,23.8 278.91,23.59 279.7,23.68 280.48,23.48 281.26,23.4 282.04,23.28 282.82,23.25 283.6,23.15 284.38,23.01 285.16,23.09 285.94,23.11 286.73,22.96 287.51,22.8 288.29,22.79 289.07,22.75 289.85,22.53 290.63,22.74 291.41,22.99 292.19,22.82 292.98,22.69 293.76,22.56 294.54,22.73 295.32,22.64 296.1,22.61 296.88,22.58 297.66,22.47 298.44,22.32 299.23,22.01 300.01,22.26 300.79,22.36 301.57,22.48 302.35,22.25 303.13,22.3 303.91,22.22 304.69,22.13 305.47,22.37 306.26,22.18 307.04,22.04 307.82,22.06 308.6,22.08 309.38,22.08 310.16,21.98 310.94,21.92 311.72,21.8 312.51,21.92 313.29,21.97 314.07,21.92 314.85,21.85 315.63,21.89 316.41,21.69 317.19,21.63 317.97,21.52 318.76,21.46 319.54,21.27 320.32,21.33 321.1,21.36 321.88,21.27 322.66,21.22 323.44,21.4 324.22,21.44 325,21.37 325.79,21.32 326.57,21.36 327.35,21.45 328.13,21.44 328.91,21.32 329.69,21.21 330.47,21.24 331.25,21.33 332.04,21.34 332.82,21.51 333.6,21.34 334.38,21.2" fill="none" stroke="#4FBCF5" stroke-width="1.4" stroke-linejoin="round"/>
<polyline points="204.7,110.68 205.48,105.81 206.26,101.23 207.04,96.91 207.82,92.84 208.61,89 209.39,85.39 210.17,81.82 210.95,78.74 211.73,75.62 212.51,72.87 213.29,70.18 214.07,67.63 214.86,65.4 215.64,63.17 216.42,60.98 217.2,58.99 217.98,57.15 218.76,55.42 219.54,53.76 220.32,52.13 221.11,50.62 221.89,49.03 222.67,47.63 223.45,46.39 224.23,45.39 225.01,44.21 225.79,43.04 226.57,42.03 227.35,40.86 228.14,39.78 228.92,38.84 229.7,38.1 230.48,37.13 231.26,36.39 232.04,35.96 232.82,35.18 233.6,34.77 234.39,34.35 235.17,33.68 235.95,32.99 236.73,32.51 237.51,31.95 238.29,31.42 239.07,31.22 239.85,30.8 240.64,30.36 241.42,30.13 242.2,29.7 242.98,29.43 243.76,29.08 244.54,28.78 245.32,28.32 246.1,28.05 246.88,27.84 247.67,27.79 248.45,27.62 249.23,27.16 250.01,26.91 250.79,26.61 251.57,26.34 252.35,26.35 253.13,26.23 253.92,26.1 254.7,25.81 255.48,25.77 256.26,25.67 257.04,25.57 257.82,25.51 258.6,25.36 259.38,25.19 260.17,25.13 260.95,25.06 261.73,24.88 262.51,24.54 263.29,24.4 264.07,24.42 264.85,24.24 265.63,24.02 266.41,23.89 267.2,23.78 267.98,23.75 268.76,23.65 269.54,23.71 270.32,23.57 271.1,23.33 271.88,23.24 272.66,23.03 273.45,22.91 274.23,22.87 275.01,22.98 275.79,22.81 276.57,22.74 277.35,22.91 278.13,22.66 278.91,22.48 279.7,22.3 280.48,22.13 281.26,22.16 282.04,22.15 282.82,22.23 283.6,22.09 284.38,22.11 285.16,21.87 285.94,21.97 286.73,21.87 287.51,21.72 288.29,21.71 289.07,21.76 289.85,21.89 290.63,21.73 291.41,21.61 292.19,21.43 292.98,21.51 293.76,21.33 294.54,21.3 295.32,21.24 296.1,21.23 296.88,21.32 297.66,21.36 298.44,21.25 299.23,21.3 300.01,21.29 300.79,21.29 301.57,21.24 302.35,21.1 303.13,21.21 303.91,21.17 304.69,21.23 305.47,21.23 306.26,21.28 307.04,21.43 307.82,21.43 308.6,21.54 309.38,21.3 310.16,21.42 310.94,21.42 311.72,21.34 312.51,21.33 313.29,21.13 314.07,21.12 314.85,21.27 315.63,21.1 316.41,21.11 317.19,20.75 317.97,20.87 318.76,20.93 319.54,20.91 320.32,21.03 321.1,20.92 321.88,20.74 322.66,20.56 323.44,20.53 324.22,20.58 325,20.45 325.79,20.35 326.57,20.42 327.35,20.52 328.13,20.64 328.91,20.62 329.69,20.63 330.47,20.55 331.25,20.44 332.04,20.6 332.82,20.55 333.6,20.51 334.38,20.57" fill="none" stroke="#F7867A" stroke-width="1.4" stroke-linejoin="round"/>
<polyline points="204.7,111.59 205.48,106.18 206.26,101.12 207.04,96.38 207.82,91.94 208.61,87.78 209.39,83.89 210.17,80.13 210.95,76.86 211.73,73.72 212.51,70.66 213.29,67.68 214.07,65.12 214.86,62.64 215.64,60.24 216.42,58.11 217.2,56.04 217.98,54.1 218.76,52.46 219.54,50.93 220.32,49.29 221.11,47.88 221.89,46.44 222.67,45.08 223.45,43.9 224.23,42.82 225.01,41.77 225.79,40.55 226.57,39.8 227.35,38.74 228.14,37.85 228.92,37.09 229.7,36.25 230.48,35.52 231.26,34.92 232.04,34.26 232.82,33.61 233.6,32.97 234.39,32.4 235.17,31.89 235.95,31.65 236.73,31.22 237.51,30.68 238.29,30.17 239.07,29.86 239.85,29.54 240.64,29.27 241.42,29.04 242.2,28.61 242.98,28.17 243.76,27.86 244.54,27.52 245.32,27.09 246.1,26.98 246.88,26.73 247.67,26.51 248.45,26.18 249.23,26.14 250.01,26.1 250.79,25.83 251.57,25.7 252.35,25.47 253.13,25.22 253.92,25 254.7,24.74 255.48,24.59 256.26,24.46 257.04,24.52 257.82,24.27 258.6,24.3 259.38,24.18 260.17,23.9 260.95,23.98 261.73,23.77 262.51,23.75 263.29,23.65 264.07,23.72 264.85,23.81 265.63,23.6 266.41,23.24 267.2,23.06 267.98,22.97 268.76,22.88 269.54,22.63 270.32,22.41 271.1,22.46 271.88,22.54 272.66,22.28 273.45,22.3 274.23,22.2 275.01,22.04 275.79,22.12 276.57,22.15 277.35,22.27 278.13,22.08 278.91,22.06 279.7,21.92 280.48,22.04 281.26,21.91 282.04,21.97 282.82,21.94 283.6,22.03 284.38,21.98 285.16,21.83 285.94,21.81 286.73,21.78 287.51,21.67 288.29,21.66 289.07,21.55 289.85,21.5 290.63,21.37 291.41,21.4 292.19,21.35 292.98,21.3 293.76,21.11 294.54,21.06 295.32,21.18 296.1,21.29 296.88,21.26 297.66,21.26 298.44,21.31 299.23,21.31 300.01,21.17 300.79,21.32 301.57,21.22 302.35,21.19 303.13,20.97 303.91,21.13 304.69,21.03 305.47,21.01 306.26,20.96 307.04,20.87 307.82,20.63 308.6,20.59 309.38,20.54 310.16,20.71 310.94,20.62 311.72,20.76 312.51,20.75 313.29,20.68 314.07,20.5 314.85,20.4 315.63,20.39 316.41,20.31 317.19,20.36 317.97,20.37 318.76,20.39 319.54,20.31 320.32,20.35 321.1,20.47 321.88,20.58 322.66,20.29 323.44,20.53 324.22,20.51 325,20.5 325.79,20.5 326.57,20.58 327.35,20.48 328.13,20.43 328.91,20.52 329.69,20.52 330.47,20.62 331.25,20.52 332.04,20.26 332.82,20.08 333.6,19.99 334.38,20.02" fill="none" stroke="#F6B95C" stroke-width="1.4" stroke-linejoin="round"/>
<rect x="204.7" y="8.8" width="130.2" height="113.2" fill="none" stroke="#000" stroke-width="1.3"/>
<line x1="204.7" y1="122" x2="207.5" y2="122" stroke="#000" stroke-width="1.3"/>
<line x1="204.7" y1="99.36" x2="207.5" y2="99.36" stroke="#000" stroke-width="1.3"/>
<line x1="204.7" y1="76.72" x2="207.5" y2="76.72" stroke="#000" stroke-width="1.3"/>
<line x1="204.7" y1="54.08" x2="207.5" y2="54.08" stroke="#000" stroke-width="1.3"/>
<line x1="204.7" y1="31.44" x2="207.5" y2="31.44" stroke="#000" stroke-width="1.3"/>
<line x1="204.7" y1="8.8" x2="207.5" y2="8.8" stroke="#000" stroke-width="1.3"/>
<line x1="204.7" y1="110.68" x2="206.3" y2="110.68" stroke="#000" stroke-width="1.3"/>
<line x1="204.7" y1="88.04" x2="206.3" y2="88.04" stroke="#000" stroke-width="1.3"/>
<line x1="204.7" y1="65.4" x2="206.3" y2="65.4" stroke="#000" stroke-width="1.3"/>
<line x1="204.7" y1="42.76" x2="206.3" y2="42.76" stroke="#000" stroke-width="1.3"/>
<line x1="204.7" y1="20.12" x2="206.3" y2="20.12" stroke="#000" stroke-width="1.3"/>
<text x="200.4" y="125.4" font-size="11.3" text-anchor="end">20</text>
<text x="200.4" y="102.76" font-size="11.3" text-anchor="end">30</text>
<text x="200.4" y="80.12" font-size="11.3" text-anchor="end">40</text>
<text x="200.4" y="57.48" font-size="11.3" text-anchor="end">50</text>
<text x="200.4" y="34.84" font-size="11.3" text-anchor="end">60</text>
<text x="200.4" y="12.2" font-size="11.3" text-anchor="end">70</text>
<line x1="204.7" y1="122" x2="204.7" y2="119.2" stroke="#000" stroke-width="1.3"/>
<line x1="230.74" y1="122" x2="230.74" y2="119.2" stroke="#000" stroke-width="1.3"/>
<line x1="256.78" y1="122" x2="256.78" y2="119.2" stroke="#000" stroke-width="1.3"/>
<line x1="282.82" y1="122" x2="282.82" y2="119.2" stroke="#000" stroke-width="1.3"/>
<line x1="308.86" y1="122" x2="308.86" y2="119.2" stroke="#000" stroke-width="1.3"/>
<line x1="334.9" y1="122" x2="334.9" y2="119.2" stroke="#000" stroke-width="1.3"/>
<line x1="217.72" y1="122" x2="217.72" y2="120.4" stroke="#000" stroke-width="1.3"/>
<line x1="243.76" y1="122" x2="243.76" y2="120.4" stroke="#000" stroke-width="1.3"/>
<line x1="269.8" y1="122" x2="269.8" y2="120.4" stroke="#000" stroke-width="1.3"/>
<line x1="295.84" y1="122" x2="295.84" y2="120.4" stroke="#000" stroke-width="1.3"/>
<line x1="321.88" y1="122" x2="321.88" y2="120.4" stroke="#000" stroke-width="1.3"/>
<text x="204.7" y="135.9" font-size="11.3" text-anchor="middle">0</text>
<text x="230.74" y="135.9" font-size="11.3" text-anchor="middle">100</text>
<text x="256.78" y="135.9" font-size="11.3" text-anchor="middle">200</text>
<text x="282.82" y="135.9" font-size="11.3" text-anchor="middle">300</text>
<text x="308.86" y="135.9" font-size="11.3" text-anchor="middle">400</text>
<text x="334.9" y="135.9" font-size="11.3" text-anchor="middle">500</text>
<text x="269.8" y="147.9" font-size="13" text-anchor="middle">Time (s)</text>
<text x="181.8" y="65.9" font-size="13" text-anchor="middle" transform="rotate(-90 181.8 65.9)">Temperature (<tspan font-size="12.0" dy="-0.71" stroke="#000" stroke-width="0.16">°</tspan><tspan dx="-0.26" dy="0.71">C</tspan>)</text>
<text x="173.5" y="10.9" font-size="14.3" font-weight="bold">b</text>
<line x1="275.2" y1="37.2" x2="298.6" y2="37.2" stroke="#C2C2C2" stroke-width="1.5"/>
<text x="301.6" y="41" font-size="10.5">PDMS</text>
<line x1="275.2" y1="50" x2="298.6" y2="50" stroke="#5DC97C" stroke-width="1.5"/>
<text x="301.6" y="53.8" font-size="10.5">PT-2</text>
<line x1="275.2" y1="62.8" x2="298.6" y2="62.8" stroke="#4FBCF5" stroke-width="1.5"/>
<text x="301.6" y="66.6" font-size="10.5">PT-4</text>
<line x1="275.2" y1="75.6" x2="298.6" y2="75.6" stroke="#F7867A" stroke-width="1.5"/>
<text x="301.6" y="79.4" font-size="10.5">PT-6</text>
<line x1="275.2" y1="88.4" x2="298.6" y2="88.4" stroke="#F6B95C" stroke-width="1.5"/>
<text x="301.6" y="92.2" font-size="10.5">PT-8</text>
<rect x="388.6" y="87.05" width="13.2" height="35.15" fill="url(#barO)" stroke="#F7941D" stroke-width="1.2"/>
<line x1="395.2" y1="94.08" x2="395.2" y2="81.38" stroke="#F7941D" stroke-width="1.1"/>
<line x1="393.4" y1="94.08" x2="397" y2="94.08" stroke="#F7941D" stroke-width="1.1"/>
<line x1="393.4" y1="81.38" x2="397" y2="81.38" stroke="#F7941D" stroke-width="1.1"/>
<circle cx="392" cy="84.9" r="1.55" fill="#fff" stroke="#8A8A8A" stroke-width="0.8"/>
<circle cx="398.4" cy="82.6" r="1.55" fill="#fff" stroke="#8A8A8A" stroke-width="0.8"/>
<circle cx="398.7" cy="94.3" r="1.55" fill="#fff" stroke="#8A8A8A" stroke-width="0.8"/>
<rect x="419.9" y="71.85" width="13.2" height="50.35" fill="url(#barO)" stroke="#F7941D" stroke-width="1.2"/>
<line x1="426.5" y1="80.81" x2="426.5" y2="65.73" stroke="#F7941D" stroke-width="1.1"/>
<line x1="424.7" y1="80.81" x2="428.3" y2="80.81" stroke="#F7941D" stroke-width="1.1"/>
<line x1="424.7" y1="65.73" x2="428.3" y2="65.73" stroke="#F7941D" stroke-width="1.1"/>
<circle cx="423.2" cy="70" r="1.55" fill="#fff" stroke="#8A8A8A" stroke-width="0.8"/>
<circle cx="429.8" cy="68" r="1.55" fill="#fff" stroke="#8A8A8A" stroke-width="0.8"/>
<circle cx="429.5" cy="80.3" r="1.55" fill="#fff" stroke="#8A8A8A" stroke-width="0.8"/>
<rect x="451.2" y="63.23" width="13.2" height="58.97" fill="url(#barO)" stroke="#F7941D" stroke-width="1.2"/>
<line x1="457.8" y1="70.04" x2="457.8" y2="58.7" stroke="#F7941D" stroke-width="1.1"/>
<line x1="456" y1="70.04" x2="459.6" y2="70.04" stroke="#F7941D" stroke-width="1.1"/>
<line x1="456" y1="58.7" x2="459.6" y2="58.7" stroke="#F7941D" stroke-width="1.1"/>
<circle cx="454.9" cy="60.9" r="1.55" fill="#fff" stroke="#8A8A8A" stroke-width="0.8"/>
<circle cx="461" cy="58.8" r="1.55" fill="#fff" stroke="#8A8A8A" stroke-width="0.8"/>
<circle cx="461" cy="69" r="1.55" fill="#fff" stroke="#8A8A8A" stroke-width="0.8"/>
<rect x="482.5" y="59.83" width="13.2" height="62.37" fill="url(#barO)" stroke="#F7941D" stroke-width="1.2"/>
<line x1="489.1" y1="65.73" x2="489.1" y2="55.29" stroke="#F7941D" stroke-width="1.1"/>
<line x1="487.3" y1="65.73" x2="490.9" y2="65.73" stroke="#F7941D" stroke-width="1.1"/>
<line x1="487.3" y1="55.29" x2="490.9" y2="55.29" stroke="#F7941D" stroke-width="1.1"/>
<circle cx="486" cy="58.8" r="1.55" fill="#fff" stroke="#8A8A8A" stroke-width="0.8"/>
<circle cx="492.4" cy="55.3" r="1.55" fill="#fff" stroke="#8A8A8A" stroke-width="0.8"/>
<circle cx="492.4" cy="65.7" r="1.55" fill="#fff" stroke="#8A8A8A" stroke-width="0.8"/>
<polyline points="395.2,36.9 426.5,31.6 457.8,29.3 489.1,28.1" fill="none" stroke="#1C9FE8" stroke-width="1.2" stroke-linejoin="round"/>
<line x1="395.2" y1="32.3" x2="395.2" y2="42.2" stroke="#1C9FE8" stroke-width="1.1"/>
<line x1="393.4" y1="32.3" x2="397" y2="32.3" stroke="#1C9FE8" stroke-width="1.1"/>
<line x1="393.4" y1="42.2" x2="397" y2="42.2" stroke="#1C9FE8" stroke-width="1.1"/>
<circle cx="395.2" cy="36.9" r="3.1" fill="url(#ballB)"/>
<line x1="426.5" y1="26.7" x2="426.5" y2="36.9" stroke="#1C9FE8" stroke-width="1.1"/>
<line x1="424.7" y1="26.7" x2="428.3" y2="26.7" stroke="#1C9FE8" stroke-width="1.1"/>
<line x1="424.7" y1="36.9" x2="428.3" y2="36.9" stroke="#1C9FE8" stroke-width="1.1"/>
<circle cx="426.5" cy="31.6" r="3.1" fill="url(#ballB)"/>
<line x1="457.8" y1="23.7" x2="457.8" y2="35" stroke="#1C9FE8" stroke-width="1.1"/>
<line x1="456" y1="23.7" x2="459.6" y2="23.7" stroke="#1C9FE8" stroke-width="1.1"/>
<line x1="456" y1="35" x2="459.6" y2="35" stroke="#1C9FE8" stroke-width="1.1"/>
<circle cx="457.8" cy="29.3" r="3.1" fill="url(#ballB)"/>
<line x1="489.1" y1="24.2" x2="489.1" y2="32" stroke="#1C9FE8" stroke-width="1.1"/>
<line x1="487.3" y1="24.2" x2="490.9" y2="24.2" stroke="#1C9FE8" stroke-width="1.1"/>
<line x1="487.3" y1="32" x2="490.9" y2="32" stroke="#1C9FE8" stroke-width="1.1"/>
<circle cx="489.1" cy="28.1" r="3.1" fill="url(#ballB)"/>
<line x1="380.4" y1="8.8" x2="503.8" y2="8.8" stroke="#000" stroke-width="1.3"/>
<line x1="380.4" y1="122.2" x2="503.8" y2="122.2" stroke="#000" stroke-width="1.3"/>
<line x1="380.4" y1="8.15" x2="380.4" y2="122.85" stroke="#F7941D" stroke-width="1.3"/>
<line x1="503.8" y1="8.15" x2="503.8" y2="122.85" stroke="#1C9FE8" stroke-width="1.3"/>
<line x1="380.4" y1="122.2" x2="383.2" y2="122.2" stroke="#F7941D" stroke-width="1.3"/>
<line x1="380.4" y1="99.52" x2="383.2" y2="99.52" stroke="#F7941D" stroke-width="1.3"/>
<line x1="380.4" y1="76.84" x2="383.2" y2="76.84" stroke="#F7941D" stroke-width="1.3"/>
<line x1="380.4" y1="54.16" x2="383.2" y2="54.16" stroke="#F7941D" stroke-width="1.3"/>
<line x1="380.4" y1="31.48" x2="383.2" y2="31.48" stroke="#F7941D" stroke-width="1.3"/>
<line x1="380.4" y1="8.8" x2="383.2" y2="8.8" stroke="#F7941D" stroke-width="1.3"/>
<line x1="380.4" y1="110.86" x2="382" y2="110.86" stroke="#F7941D" stroke-width="1.3"/>
<line x1="380.4" y1="88.18" x2="382" y2="88.18" stroke="#F7941D" stroke-width="1.3"/>
<line x1="380.4" y1="65.5" x2="382" y2="65.5" stroke="#F7941D" stroke-width="1.3"/>
<line x1="380.4" y1="42.82" x2="382" y2="42.82" stroke="#F7941D" stroke-width="1.3"/>
<line x1="380.4" y1="20.14" x2="382" y2="20.14" stroke="#F7941D" stroke-width="1.3"/>
<text x="376.1" y="125.6" font-size="11.3" text-anchor="end" fill="#F7941D">86</text>
<text x="376.1" y="102.92" font-size="11.3" text-anchor="end" fill="#F7941D">88</text>
<text x="376.1" y="80.24" font-size="11.3" text-anchor="end" fill="#F7941D">90</text>
<text x="376.1" y="57.56" font-size="11.3" text-anchor="end" fill="#F7941D">92</text>
<text x="376.1" y="34.88" font-size="11.3" text-anchor="end" fill="#F7941D">94</text>
<text x="376.1" y="12.2" font-size="11.3" text-anchor="end" fill="#F7941D">96</text>
<line x1="501" y1="122.2" x2="503.8" y2="122.2" stroke="#1C9FE8" stroke-width="1.3"/>
<line x1="501" y1="84.4" x2="503.8" y2="84.4" stroke="#1C9FE8" stroke-width="1.3"/>
<line x1="501" y1="46.6" x2="503.8" y2="46.6" stroke="#1C9FE8" stroke-width="1.3"/>
<line x1="501" y1="8.8" x2="503.8" y2="8.8" stroke="#1C9FE8" stroke-width="1.3"/>
<line x1="502.2" y1="103.3" x2="503.8" y2="103.3" stroke="#1C9FE8" stroke-width="1.3"/>
<line x1="502.2" y1="65.5" x2="503.8" y2="65.5" stroke="#1C9FE8" stroke-width="1.3"/>
<line x1="502.2" y1="27.7" x2="503.8" y2="27.7" stroke="#1C9FE8" stroke-width="1.3"/>
<text x="508.1" y="125.6" font-size="11.3" fill="#1C9FE8">0.0</text>
<text x="508.1" y="87.8" font-size="11.3" fill="#1C9FE8">0.1</text>
<text x="508.1" y="50" font-size="11.3" fill="#1C9FE8">0.2</text>
<text x="508.1" y="12.2" font-size="11.3" fill="#1C9FE8">0.3</text>
<line x1="395.2" y1="122.2" x2="395.2" y2="119.4" stroke="#000" stroke-width="1.3"/>
<line x1="426.5" y1="122.2" x2="426.5" y2="119.4" stroke="#000" stroke-width="1.3"/>
<line x1="457.8" y1="122.2" x2="457.8" y2="119.4" stroke="#000" stroke-width="1.3"/>
<line x1="489.1" y1="122.2" x2="489.1" y2="119.4" stroke="#000" stroke-width="1.3"/>
<line x1="410.85" y1="122.2" x2="410.85" y2="120.6" stroke="#000" stroke-width="1.3"/>
<line x1="442.15" y1="122.2" x2="442.15" y2="120.6" stroke="#000" stroke-width="1.3"/>
<line x1="473.45" y1="122.2" x2="473.45" y2="120.6" stroke="#000" stroke-width="1.3"/>
<text x="395.2" y="135.9" font-size="11.3" text-anchor="middle">2</text>
<text x="426.5" y="135.9" font-size="11.3" text-anchor="middle">4</text>
<text x="457.8" y="135.9" font-size="11.3" text-anchor="middle">6</text>
<text x="489.1" y="135.9" font-size="11.3" text-anchor="middle">8</text>
<text x="442.6" y="146.3" font-size="12.3" text-anchor="middle">MWCNTs concentration (wt%)</text>
<text x="357.8" y="60.6" font-size="13" text-anchor="middle" fill="#F7941D" transform="rotate(-90 357.8 60.6)"><tspan font-style="italic">η</tspan> (%)</text>
<text x="535.6" y="61.8" font-size="13" text-anchor="middle" fill="#1C9FE8" transform="rotate(-90 535.6 61.8)"><tspan font-style="italic">k</tspan> (W·m<tspan font-size="9" dy="-4.6">-1</tspan><tspan dy="4.6">·K</tspan><tspan font-size="9" dy="-4.6">-1</tspan><tspan dy="4.6">)</tspan></text>
<text x="347.9" y="11.1" font-size="14.3" font-weight="bold">c</text>
<rect x="32.9" y="162.1" width="22.06" height="124.8" fill="url(#stY)"/>
<rect x="54.66" y="162.1" width="22.06" height="124.8" fill="url(#stB)"/>
<rect x="76.42" y="162.1" width="22.06" height="124.8" fill="url(#stY)"/>
<rect x="98.18" y="162.1" width="22.06" height="124.8" fill="url(#stB)"/>
<rect x="119.93" y="162.1" width="22.06" height="124.8" fill="url(#stY)"/>
<rect x="141.69" y="162.1" width="22.06" height="124.8" fill="url(#stB)"/>
<rect x="163.45" y="162.1" width="22.06" height="124.8" fill="url(#stY)"/>
<rect x="185.21" y="162.1" width="22.06" height="124.8" fill="url(#stB)"/>
<rect x="206.97" y="162.1" width="22.06" height="124.8" fill="url(#stY)"/>
<rect x="228.72" y="162.1" width="22.06" height="124.8" fill="url(#stB)"/>
<rect x="250.48" y="162.1" width="22.06" height="124.8" fill="url(#stY)"/>
<rect x="272.24" y="162.1" width="22.06" height="124.8" fill="url(#stB)"/>
<use href="#sun" x="44.65" y="171.2"/>
<use href="#cloud" x="65.32" y="171.4"/>
<use href="#sun" x="88.17" y="171.2"/>
<use href="#cloud" x="108.84" y="171.4"/>
<use href="#sun" x="131.68" y="171.2"/>
<use href="#cloud" x="152.35" y="171.4"/>
<use href="#sun" x="175.2" y="171.2"/>
<use href="#cloud" x="195.87" y="171.4"/>
<use href="#sun" x="218.72" y="171.2"/>
<use href="#cloud" x="239.39" y="171.4"/>
<use href="#sun" x="262.23" y="171.2"/>
<use href="#cloud" x="282.9" y="171.4"/>
<polyline points="32.9,277.5 32.94,274.78 32.99,272.15 33.03,269.6 33.07,267.13 33.12,264.74 33.16,262.42 33.2,260.18 33.25,258.01 33.29,255.9 33.34,253.87 33.38,251.89 33.42,249.98 33.47,248.13 33.51,246.34 33.55,244.6 33.6,242.92 33.64,241.29 33.68,239.71 33.73,238.18 33.77,236.7 33.99,229.94 34.21,224.17 34.42,219.23 34.64,214.99 34.86,211.35 35.08,208.21 35.29,205.51 35.51,203.17 35.73,201.15 35.95,199.39 36.16,197.86 36.38,196.52 36.6,195.34 36.82,194.31 37.03,193.39 37.25,192.58 37.47,191.86 37.69,191.21 37.9,190.62 38.12,190.1 38.34,189.62 38.56,189.18 38.77,188.79 38.99,188.42 39.21,188.08 39.43,187.76 39.65,187.47 39.86,187.2 40.08,186.94 40.3,186.7 40.52,186.47 40.73,186.25 40.95,186.05 41.17,185.85 41.39,185.67 41.6,185.49 41.82,185.32 42.04,185.16 42.26,185 42.47,184.85 42.69,184.71 42.91,184.57 43.13,184.44 43.34,184.31 43.56,184.19 43.78,184.07 44,183.95 44.21,183.84 44.43,183.73 44.65,183.63 44.87,183.52 45.08,183.43 45.3,183.33 45.52,183.24 45.74,183.15 45.95,183.07 46.17,182.98 46.39,182.9 46.61,182.83 46.83,182.75 47.04,182.68 47.26,182.61 47.48,182.54 47.7,182.47 47.91,182.41 48.13,182.34 48.35,182.28 48.57,182.22 48.78,182.17 49,182.11 49.22,182.06 49.44,182.01 49.65,181.96 49.87,181.91 50.09,181.86 50.31,181.82 50.52,181.77 50.74,181.73 50.96,181.69 51.18,181.65 51.39,181.61 51.61,181.57 51.83,181.53 52.05,181.5 52.26,181.47 52.48,181.43 52.7,181.4 52.92,181.37 53.14,181.34 53.35,181.31 53.57,181.28 53.79,181.25 54.01,181.23 54.22,181.2 54.44,181.17 54.66,181.15 54.7,183.21 54.75,185.22 54.79,187.19 54.83,189.11 54.88,190.99 54.92,192.82 54.96,194.62 55.01,196.37 55.05,198.08 55.09,199.76 55.14,201.39 55.18,202.99 55.22,204.56 55.27,206.09 55.31,207.58 55.35,209.04 55.4,210.47 55.44,211.86 55.49,213.23 55.53,214.56 55.75,220.79 55.96,226.36 56.18,231.33 56.4,235.78 56.62,239.76 56.83,243.32 57.05,246.51 57.27,249.37 57.49,251.93 57.7,254.24 57.92,256.3 58.14,258.17 58.36,259.84 58.57,261.35 58.79,262.71 59.01,263.94 59.23,265.06 59.45,266.06 59.66,266.98 59.88,267.81 60.1,268.56 60.32,269.25 60.53,269.87 60.75,270.44 60.97,270.97 61.19,271.45 61.4,271.89 61.62,272.29 61.84,272.67 62.06,273.01 62.27,273.33 62.49,273.62 62.71,273.9 62.93,274.15 63.14,274.39 63.36,274.61 63.58,274.82 63.8,275.01 64.01,275.19 64.23,275.36 64.45,275.53 64.67,275.68 64.88,275.82 65.1,275.96 65.32,276.08 65.54,276.21 65.76,276.32 65.97,276.43 66.19,276.54 66.41,276.63 66.63,276.73 66.84,276.82 67.06,276.91 67.28,276.99 67.5,277.07 67.71,277.14 67.93,277.22 68.15,277.29 68.37,277.35 68.58,277.42 68.8,277.48 69.02,277.54 69.24,277.6 69.45,277.65 69.67,277.7 69.89,277.75 70.11,277.8 70.32,277.85 70.54,277.9 70.76,277.94 70.98,277.98 71.19,278.02 71.41,278.06 71.63,278.1 71.85,278.14 72.06,278.17 72.28,278.21 72.5,278.24 72.72,278.27 72.94,278.3 73.15,278.33 73.37,278.36 73.59,278.39 73.81,278.42 74.02,278.44 74.24,278.47 74.46,278.49 74.68,278.51 74.89,278.54 75.11,278.56 75.33,278.58 75.55,278.6 75.76,278.62 75.98,278.64 76.2,278.66 76.42,278.67 76.42,278.67 76.46,275.9 76.5,273.2 76.55,270.6 76.59,268.07 76.63,265.63 76.68,263.26 76.72,260.97 76.76,258.75 76.81,256.6 76.85,254.52 76.9,252.51 76.94,250.55 76.98,248.66 77.03,246.83 77.07,245.05 77.11,243.33 77.16,241.67 77.2,240.05 77.24,238.49 77.29,236.98 77.5,230.08 77.72,224.18 77.94,219.12 78.16,214.79 78.37,211.07 78.59,207.87 78.81,205.11 79.03,202.72 79.25,200.65 79.46,198.85 79.68,197.29 79.9,195.92 80.12,194.71 80.33,193.66 80.55,192.72 80.77,191.89 80.99,191.15 81.2,190.49 81.42,189.89 81.64,189.35 81.86,188.87 82.07,188.42 82.29,188.01 82.51,187.64 82.73,187.29 82.94,186.97 83.16,186.67 83.38,186.39 83.6,186.13 83.81,185.88 84.03,185.65 84.25,185.43 84.47,185.22 84.68,185.02 84.9,184.83 85.12,184.65 85.34,184.47 85.56,184.31 85.77,184.15 85.99,184 86.21,183.85 86.43,183.71 86.64,183.57 86.86,183.44 87.08,183.31 87.3,183.19 87.51,183.07 87.73,182.96 87.95,182.85 88.17,182.74 88.38,182.64 88.6,182.54 88.82,182.44 89.04,182.35 89.25,182.26 89.47,182.17 89.69,182.08 89.91,182 90.12,181.92 90.34,181.84 90.56,181.77 90.78,181.7 90.99,181.63 91.21,181.56 91.43,181.49 91.65,181.43 91.87,181.37 92.08,181.31 92.3,181.25 92.52,181.19 92.74,181.14 92.95,181.09 93.17,181.04 93.39,180.99 93.61,180.94 93.82,180.89 94.04,180.85 94.26,180.8 94.48,180.76 94.69,180.72 94.91,180.68 95.13,180.64 95.35,180.6 95.56,180.57 95.78,180.53 96,180.5 96.22,180.46 96.43,180.43 96.65,180.4 96.87,180.37 97.09,180.34 97.3,180.31 97.52,180.29 97.74,180.26 97.96,180.23 98.18,180.21 98.22,182.28 98.26,184.31 98.31,186.29 98.35,188.23 98.39,190.12 98.44,191.97 98.48,193.77 98.52,195.54 98.57,197.26 98.61,198.95 98.65,200.6 98.7,202.21 98.74,203.79 98.78,205.33 98.83,206.83 98.87,208.3 98.91,209.74 98.96,211.15 99,212.52 99.05,213.86 99.26,220.14 99.48,225.75 99.7,230.76 99.92,235.23 100.13,239.24 100.35,242.83 100.57,246.04 100.79,248.92 101,251.5 101.22,253.82 101.44,255.91 101.66,257.78 101.87,259.47 102.09,260.99 102.31,262.36 102.53,263.6 102.74,264.72 102.96,265.74 103.18,266.66 103.4,267.49 103.61,268.25 103.83,268.94 104.05,269.57 104.27,270.15 104.48,270.68 104.7,271.16 104.92,271.6 105.14,272.01 105.36,272.39 105.57,272.73 105.79,273.05 106.01,273.35 106.23,273.63 106.44,273.88 106.66,274.12 106.88,274.35 107.1,274.56 107.31,274.75 107.53,274.93 107.75,275.11 107.97,275.27 108.18,275.42 108.4,275.56 108.62,275.7 108.84,275.83 109.05,275.95 109.27,276.07 109.49,276.18 109.71,276.28 109.92,276.38 110.14,276.48 110.36,276.57 110.58,276.66 110.79,276.74 111.01,276.82 111.23,276.9 111.45,276.97 111.67,277.04 111.88,277.11 112.1,277.17 112.32,277.24 112.54,277.3 112.75,277.35 112.97,277.41 113.19,277.46 113.41,277.51 113.62,277.56 113.84,277.61 114.06,277.66 114.28,277.7 114.49,277.74 114.71,277.78 114.93,277.82 115.15,277.86 115.36,277.9 115.58,277.93 115.8,277.97 116.02,278 116.23,278.03 116.45,278.06 116.67,278.09 116.89,278.12 117.1,278.15 117.32,278.18 117.54,278.2 117.76,278.23 117.98,278.25 118.19,278.28 118.41,278.3 118.63,278.32 118.85,278.34 119.06,278.36 119.28,278.38 119.5,278.4 119.72,278.42 119.93,278.44 119.93,278.44 119.98,275.64 120.02,272.93 120.06,270.31 120.11,267.76 120.15,265.3 120.19,262.92 120.24,260.61 120.28,258.38 120.32,256.21 120.37,254.11 120.41,252.08 120.46,250.12 120.5,248.21 120.54,246.37 120.59,244.58 120.63,242.85 120.67,241.17 120.72,239.54 120.76,237.97 120.8,236.44 121.02,229.49 121.24,223.55 121.46,218.46 121.67,214.1 121.89,210.35 122.11,207.13 122.33,204.34 122.54,201.94 122.76,199.86 122.98,198.05 123.2,196.47 123.41,195.09 123.63,193.88 123.85,192.81 124.07,191.87 124.28,191.03 124.5,190.29 124.72,189.62 124.94,189.02 125.16,188.48 125.37,187.99 125.59,187.54 125.81,187.13 126.03,186.75 126.24,186.4 126.46,186.08 126.68,185.78 126.9,185.49 127.11,185.23 127.33,184.98 127.55,184.75 127.77,184.52 127.98,184.31 128.2,184.11 128.42,183.92 128.64,183.74 128.85,183.56 129.07,183.4 129.29,183.24 129.51,183.08 129.72,182.93 129.94,182.79 130.16,182.65 130.38,182.52 130.59,182.39 130.81,182.27 131.03,182.15 131.25,182.04 131.47,181.93 131.68,181.82 131.9,181.71 132.12,181.61 132.34,181.52 132.55,181.42 132.77,181.33 132.99,181.24 133.21,181.16 133.42,181.07 133.64,180.99 133.86,180.92 134.08,180.84 134.29,180.77 134.51,180.7 134.73,180.63 134.95,180.56 135.16,180.5 135.38,180.44 135.6,180.38 135.82,180.32 136.03,180.26 136.25,180.21 136.47,180.15 136.69,180.1 136.9,180.05 137.12,180 137.34,179.96 137.56,179.91 137.78,179.87 137.99,179.82 138.21,179.78 138.43,179.74 138.65,179.7 138.86,179.67 139.08,179.63 139.3,179.59 139.52,179.56 139.73,179.53 139.95,179.49 140.17,179.46 140.39,179.43 140.6,179.4 140.82,179.38 141.04,179.35 141.26,179.32 141.47,179.3 141.69,179.27 141.74,181.37 141.78,183.42 141.82,185.42 141.87,187.38 141.91,189.3 141.95,191.17 142,192.99 142.04,194.78 142.08,196.53 142.13,198.24 142.17,199.9 142.21,201.53 142.26,203.13 142.3,204.69 142.34,206.21 142.39,207.7 142.43,209.15 142.47,210.58 142.52,211.97 142.56,213.32 142.78,219.68 143,225.35 143.21,230.42 143.43,234.95 143.65,239.01 143.87,242.64 144.09,245.89 144.3,248.8 144.52,251.42 144.74,253.76 144.96,255.87 145.17,257.77 145.39,259.48 145.61,261.02 145.83,262.41 146.04,263.66 146.26,264.79 146.48,265.82 146.7,266.75 146.91,267.6 147.13,268.36 147.35,269.06 147.57,269.7 147.78,270.28 148,270.82 148.22,271.31 148.44,271.76 148.65,272.17 148.87,272.55 149.09,272.9 149.31,273.23 149.52,273.53 149.74,273.81 149.96,274.06 150.18,274.31 150.4,274.53 150.61,274.74 150.83,274.94 151.05,275.13 151.27,275.3 151.48,275.46 151.7,275.62 151.92,275.77 152.14,275.9 152.35,276.03 152.57,276.16 152.79,276.28 153.01,276.39 153.22,276.49 153.44,276.6 153.66,276.69 153.88,276.78 154.09,276.87 154.31,276.96 154.53,277.04 154.75,277.11 154.96,277.19 155.18,277.26 155.4,277.33 155.62,277.39 155.83,277.46 156.05,277.52 156.27,277.57 156.49,277.63 156.7,277.68 156.92,277.74 157.14,277.79 157.36,277.83 157.58,277.88 157.79,277.93 158.01,277.97 158.23,278.01 158.45,278.05 158.66,278.09 158.88,278.13 159.1,278.16 159.32,278.2 159.53,278.23 159.75,278.26 159.97,278.29 160.19,278.33 160.4,278.35 160.62,278.38 160.84,278.41 161.06,278.44 161.27,278.46 161.49,278.49 161.71,278.51 161.93,278.53 162.14,278.56 162.36,278.58 162.58,278.6 162.8,278.62 163.01,278.64 163.23,278.66 163.45,278.67 163.45,278.67 163.49,275.9 163.54,273.22 163.58,270.62 163.62,268.1 163.67,265.66 163.71,263.3 163.75,261.02 163.8,258.8 163.84,256.66 163.89,254.58 163.93,252.57 163.97,250.62 164.02,248.73 164.06,246.9 164.1,245.13 164.15,243.42 164.19,241.76 164.23,240.15 164.28,238.59 164.32,237.07 164.54,230.19 164.76,224.31 164.97,219.27 165.19,214.94 165.41,211.23 165.63,208.04 165.84,205.28 166.06,202.9 166.28,200.84 166.5,199.04 166.71,197.48 166.93,196.11 167.15,194.91 167.37,193.86 167.58,192.93 167.8,192.1 168.02,191.36 168.24,190.7 168.45,190.1 168.67,189.57 168.89,189.08 169.11,188.64 169.32,188.23 169.54,187.85 169.76,187.51 169.98,187.19 170.2,186.89 170.41,186.61 170.63,186.35 170.85,186.1 171.07,185.87 171.28,185.65 171.5,185.44 171.72,185.24 171.94,185.05 172.15,184.87 172.37,184.7 172.59,184.53 172.81,184.37 173.02,184.22 173.24,184.07 173.46,183.93 173.68,183.8 173.89,183.67 174.11,183.54 174.33,183.42 174.55,183.3 174.76,183.19 174.98,183.08 175.2,182.97 175.42,182.87 175.63,182.77 175.85,182.67 176.07,182.58 176.29,182.49 176.51,182.4 176.72,182.31 176.94,182.23 177.16,182.15 177.38,182.08 177.59,182 177.81,181.93 178.03,181.86 178.25,181.79 178.46,181.73 178.68,181.66 178.9,181.6 179.12,181.54 179.33,181.48 179.55,181.43 179.77,181.37 179.99,181.32 180.2,181.27 180.42,181.22 180.64,181.17 180.86,181.13 181.07,181.08 181.29,181.04 181.51,180.99 181.73,180.95 181.94,180.91 182.16,180.87 182.38,180.84 182.6,180.8 182.81,180.77 183.03,180.73 183.25,180.7 183.47,180.67 183.69,180.64 183.9,180.61 184.12,180.58 184.34,180.55 184.56,180.52 184.77,180.5 184.99,180.47 185.21,180.44 185.25,182.52 185.3,184.54 185.34,186.53 185.38,188.46 185.43,190.35 185.47,192.2 185.51,194.01 185.56,195.77 185.6,197.5 185.64,199.19 185.69,200.83 185.73,202.45 185.77,204.02 185.82,205.56 185.86,207.07 185.9,208.54 185.95,209.97 185.99,211.38 186.04,212.75 186.08,214.1 186.3,220.37 186.51,225.98 186.73,230.99 186.95,235.47 187.17,239.48 187.38,243.06 187.6,246.28 187.82,249.16 188.04,251.74 188.25,254.06 188.47,256.14 188.69,258.02 188.91,259.71 189.12,261.23 189.34,262.6 189.56,263.84 189.78,264.96 190,265.97 190.21,266.89 190.43,267.73 190.65,268.49 190.87,269.18 191.08,269.81 191.3,270.38 191.52,270.91 191.74,271.39 191.95,271.84 192.17,272.25 192.39,272.62 192.61,272.97 192.82,273.29 193.04,273.59 193.26,273.86 193.48,274.12 193.69,274.36 193.91,274.58 194.13,274.79 194.35,274.99 194.56,275.17 194.78,275.34 195,275.5 195.22,275.66 195.43,275.8 195.65,275.94 195.87,276.07 196.09,276.19 196.31,276.3 196.52,276.41 196.74,276.52 196.96,276.62 197.18,276.72 197.39,276.81 197.61,276.89 197.83,276.98 198.05,277.06 198.26,277.13 198.48,277.21 198.7,277.28 198.92,277.34 199.13,277.41 199.35,277.47 199.57,277.53 199.79,277.59 200,277.64 200.22,277.7 200.44,277.75 200.66,277.8 200.87,277.84 201.09,277.89 201.31,277.93 201.53,277.98 201.74,278.02 201.96,278.06 202.18,278.1 202.4,278.13 202.62,278.17 202.83,278.2 203.05,278.24 203.27,278.27 203.49,278.3 203.7,278.33 203.92,278.36 204.14,278.39 204.36,278.41 204.57,278.44 204.79,278.46 205.01,278.49 205.23,278.51 205.44,278.54 205.66,278.56 205.88,278.58 206.1,278.6 206.31,278.62 206.53,278.64 206.75,278.66 206.97,278.67 206.97,278.67 207.01,275.9 207.05,273.22 207.1,270.62 207.14,268.1 207.18,265.66 207.23,263.3 207.27,261.02 207.31,258.8 207.36,256.66 207.4,254.58 207.45,252.57 207.49,250.62 207.53,248.73 207.58,246.9 207.62,245.13 207.66,243.42 207.71,241.76 207.75,240.15 207.79,238.59 207.84,237.07 208.05,230.19 208.27,224.31 208.49,219.27 208.71,214.94 208.92,211.23 209.14,208.04 209.36,205.28 209.58,202.9 209.8,200.84 210.01,199.04 210.23,197.48 210.45,196.11 210.67,194.91 210.88,193.86 211.1,192.93 211.32,192.1 211.54,191.36 211.75,190.7 211.97,190.1 212.19,189.57 212.41,189.08 212.62,188.64 212.84,188.23 213.06,187.85 213.28,187.51 213.49,187.19 213.71,186.89 213.93,186.61 214.15,186.35 214.36,186.1 214.58,185.87 214.8,185.65 215.02,185.44 215.23,185.24 215.45,185.05 215.67,184.87 215.89,184.7 216.11,184.53 216.32,184.37 216.54,184.22 216.76,184.07 216.98,183.93 217.19,183.8 217.41,183.67 217.63,183.54 217.85,183.42 218.06,183.3 218.28,183.19 218.5,183.08 218.72,182.97 218.93,182.87 219.15,182.77 219.37,182.67 219.59,182.58 219.8,182.49 220.02,182.4 220.24,182.31 220.46,182.23 220.67,182.15 220.89,182.08 221.11,182 221.33,181.93 221.54,181.86 221.76,181.79 221.98,181.73 222.2,181.66 222.42,181.6 222.63,181.54 222.85,181.48 223.07,181.43 223.29,181.37 223.5,181.32 223.72,181.27 223.94,181.22 224.16,181.17 224.37,181.13 224.59,181.08 224.81,181.04 225.03,180.99 225.24,180.95 225.46,180.91 225.68,180.87 225.9,180.84 226.11,180.8 226.33,180.77 226.55,180.73 226.77,180.7 226.98,180.67 227.2,180.64 227.42,180.61 227.64,180.58 227.85,180.55 228.07,180.52 228.29,180.5 228.51,180.47 228.72,180.44 228.77,182.53 228.81,184.56 228.86,186.55 228.9,188.5 228.94,190.4 228.99,192.26 229.03,194.07 229.07,195.85 229.12,197.58 229.16,199.28 229.2,200.93 229.25,202.55 229.29,204.13 229.33,205.68 229.38,207.19 229.42,208.67 229.46,210.12 229.51,211.53 229.55,212.91 229.6,214.26 229.81,220.57 230.03,226.2 230.25,231.23 230.47,235.73 230.68,239.76 230.9,243.36 231.12,246.59 231.34,249.49 231.55,252.08 231.77,254.41 231.99,256.51 232.21,258.39 232.42,260.08 232.64,261.61 232.86,262.99 233.08,264.24 233.29,265.36 233.51,266.38 233.73,267.31 233.95,268.14 234.16,268.91 234.38,269.6 234.6,270.24 234.82,270.81 235.03,271.34 235.25,271.83 235.47,272.27 235.69,272.68 235.91,273.06 236.12,273.41 236.34,273.73 236.56,274.03 236.78,274.31 236.99,274.57 237.21,274.81 237.43,275.03 237.65,275.24 237.86,275.44 238.08,275.62 238.3,275.79 238.52,275.96 238.73,276.11 238.95,276.26 239.17,276.39 239.39,276.52 239.6,276.65 239.82,276.76 240.04,276.87 240.26,276.98 240.47,277.08 240.69,277.18 240.91,277.27 241.13,277.35 241.34,277.44 241.56,277.52 241.78,277.6 242,277.67 242.22,277.74 242.43,277.81 242.65,277.87 242.87,277.93 243.09,277.99 243.3,278.05 243.52,278.11 243.74,278.16 243.96,278.21 244.17,278.26 244.39,278.31 244.61,278.36 244.83,278.4 245.04,278.44 245.26,278.48 245.48,278.52 245.7,278.56 245.91,278.6 246.13,278.64 246.35,278.67 246.57,278.7 246.78,278.74 247,278.77 247.22,278.8 247.44,278.83 247.65,278.85 247.87,278.88 248.09,278.91 248.31,278.93 248.53,278.96 248.74,278.98 248.96,279 249.18,279.03 249.4,279.05 249.61,279.07 249.83,279.09 250.05,279.11 250.27,279.13 250.48,279.14 250.48,279.14 250.53,276.33 250.57,273.6 250.61,270.95 250.66,268.39 250.7,265.91 250.74,263.51 250.79,261.19 250.83,258.94 250.87,256.76 250.92,254.65 250.96,252.6 251.01,250.62 251.05,248.7 251.09,246.84 251.14,245.04 251.18,243.3 251.22,241.61 251.27,239.97 251.31,238.38 251.35,236.85 251.57,229.85 251.79,223.87 252.01,218.74 252.22,214.35 252.44,210.57 252.66,207.32 252.88,204.52 253.09,202.1 253.31,200 253.53,198.18 253.75,196.59 253.96,195.2 254.18,193.98 254.4,192.91 254.62,191.96 254.84,191.12 255.05,190.37 255.27,189.7 255.49,189.09 255.71,188.55 255.92,188.05 256.14,187.6 256.36,187.18 256.58,186.8 256.79,186.45 257.01,186.13 257.23,185.82 257.45,185.54 257.66,185.27 257.88,185.02 258.1,184.79 258.32,184.56 258.53,184.35 258.75,184.15 258.97,183.95 259.19,183.77 259.4,183.59 259.62,183.43 259.84,183.26 260.06,183.11 260.27,182.96 260.49,182.82 260.71,182.68 260.93,182.54 261.14,182.42 261.36,182.29 261.58,182.17 261.8,182.06 262.02,181.94 262.23,181.84 262.45,181.73 262.67,181.63 262.89,181.53 263.1,181.44 263.32,181.35 263.54,181.26 263.76,181.17 263.97,181.09 264.19,181.01 264.41,180.93 264.63,180.85 264.84,180.78 265.06,180.71 265.28,180.64 265.5,180.57 265.71,180.51 265.93,180.44 266.15,180.38 266.37,180.33 266.58,180.27 266.8,180.21 267.02,180.16 267.24,180.11 267.45,180.06 267.67,180.01 267.89,179.96 268.11,179.92 268.33,179.87 268.54,179.83 268.76,179.79 268.98,179.75 269.2,179.71 269.41,179.67 269.63,179.63 269.85,179.6 270.07,179.56 270.28,179.53 270.5,179.5 270.72,179.46 270.94,179.43 271.15,179.4 271.37,179.38 271.59,179.35 271.81,179.32 272.02,179.3 272.24,179.27 272.29,181.37 272.33,183.43 272.37,185.44 272.42,187.4 272.46,189.32 272.5,191.19 272.55,193.03 272.59,194.82 272.63,196.57 272.68,198.28 272.72,199.95 272.76,201.59 272.81,203.18 272.85,204.75 272.89,206.27 272.94,207.76 272.98,209.22 273.02,210.65 273.07,212.04 273.11,213.41 273.33,219.77 273.55,225.46 273.76,230.54 273.98,235.08 274.2,239.15 274.42,242.79 274.64,246.05 274.85,248.97 275.07,251.59 275.29,253.94 275.51,256.05 275.72,257.96 275.94,259.67 276.16,261.21 276.38,262.6 276.59,263.86 276.81,265 277.03,266.02 277.25,266.96 277.46,267.8 277.68,268.57 277.9,269.28 278.12,269.92 278.33,270.5 278.55,271.03 278.77,271.52 278.99,271.97 279.2,272.39 279.42,272.77 279.64,273.12 279.86,273.45 280.07,273.75 280.29,274.03 280.51,274.29 280.73,274.53 280.95,274.76 281.16,274.97 281.38,275.17 281.6,275.35 281.82,275.53 282.03,275.69 282.25,275.85 282.47,275.99 282.69,276.13 282.9,276.26 283.12,276.39 283.34,276.51 283.56,276.62 283.77,276.72 283.99,276.83 284.21,276.92 284.43,277.01 284.64,277.1 284.86,277.19 285.08,277.27 285.3,277.35 285.51,277.42 285.73,277.49 285.95,277.56 286.17,277.63 286.38,277.69 286.6,277.75 286.82,277.81 287.04,277.86 287.25,277.92 287.47,277.97 287.69,278.02 287.91,278.07 288.13,278.11 288.34,278.16 288.56,278.2 288.78,278.24 289,278.28 289.21,278.32 289.43,278.36 289.65,278.4 289.87,278.43 290.08,278.46 290.3,278.5 290.52,278.53 290.74,278.56 290.95,278.59 291.17,278.62 291.39,278.64 291.61,278.67 291.82,278.7 292.04,278.72 292.26,278.75 292.48,278.77 292.69,278.79 292.91,278.81 293.13,278.83 293.35,278.85 293.56,278.87 293.78,278.89 294,278.91" fill="none" stroke="#C0C0C0" stroke-width="1.8" stroke-linejoin="round"/>
<rect x="32.9" y="162.1" width="261.1" height="124.8" fill="none" stroke="#000" stroke-width="1.3"/>
<line x1="32.9" y1="286.9" x2="35.7" y2="286.9" stroke="#000" stroke-width="1.3"/>
<line x1="32.9" y1="263.4" x2="35.7" y2="263.4" stroke="#000" stroke-width="1.3"/>
<line x1="32.9" y1="239.9" x2="35.7" y2="239.9" stroke="#000" stroke-width="1.3"/>
<line x1="32.9" y1="216.4" x2="35.7" y2="216.4" stroke="#000" stroke-width="1.3"/>
<line x1="32.9" y1="192.9" x2="35.7" y2="192.9" stroke="#000" stroke-width="1.3"/>
<line x1="32.9" y1="169.4" x2="35.7" y2="169.4" stroke="#000" stroke-width="1.3"/>
<line x1="32.9" y1="275.15" x2="34.5" y2="275.15" stroke="#000" stroke-width="1.3"/>
<line x1="32.9" y1="251.65" x2="34.5" y2="251.65" stroke="#000" stroke-width="1.3"/>
<line x1="32.9" y1="228.15" x2="34.5" y2="228.15" stroke="#000" stroke-width="1.3"/>
<line x1="32.9" y1="204.65" x2="34.5" y2="204.65" stroke="#000" stroke-width="1.3"/>
<line x1="32.9" y1="181.15" x2="34.5" y2="181.15" stroke="#000" stroke-width="1.3"/>
<text x="28.6" y="290.3" font-size="11.3" text-anchor="end">20</text>
<text x="28.6" y="266.8" font-size="11.3" text-anchor="end">30</text>
<text x="28.6" y="243.3" font-size="11.3" text-anchor="end">40</text>
<text x="28.6" y="219.8" font-size="11.3" text-anchor="end">50</text>
<text x="28.6" y="196.3" font-size="11.3" text-anchor="end">60</text>
<text x="28.6" y="172.8" font-size="11.3" text-anchor="end">70</text>
<line x1="32.9" y1="286.9" x2="32.9" y2="284.1" stroke="#000" stroke-width="1.3"/>
<line x1="76.42" y1="286.9" x2="76.42" y2="284.1" stroke="#000" stroke-width="1.3"/>
<line x1="119.93" y1="286.9" x2="119.93" y2="284.1" stroke="#000" stroke-width="1.3"/>
<line x1="163.45" y1="286.9" x2="163.45" y2="284.1" stroke="#000" stroke-width="1.3"/>
<line x1="206.97" y1="286.9" x2="206.97" y2="284.1" stroke="#000" stroke-width="1.3"/>
<line x1="250.48" y1="286.9" x2="250.48" y2="284.1" stroke="#000" stroke-width="1.3"/>
<line x1="294" y1="286.9" x2="294" y2="284.1" stroke="#000" stroke-width="1.3"/>
<line x1="54.66" y1="286.9" x2="54.66" y2="285.3" stroke="#000" stroke-width="1.3"/>
<line x1="98.18" y1="286.9" x2="98.18" y2="285.3" stroke="#000" stroke-width="1.3"/>
<line x1="141.69" y1="286.9" x2="141.69" y2="285.3" stroke="#000" stroke-width="1.3"/>
<line x1="185.21" y1="286.9" x2="185.21" y2="285.3" stroke="#000" stroke-width="1.3"/>
<line x1="228.72" y1="286.9" x2="228.72" y2="285.3" stroke="#000" stroke-width="1.3"/>
<line x1="272.24" y1="286.9" x2="272.24" y2="285.3" stroke="#000" stroke-width="1.3"/>
<text x="32.9" y="300.9" font-size="11.3" text-anchor="middle">0</text>
<text x="76.42" y="300.9" font-size="11.3" text-anchor="middle">1000</text>
<text x="119.93" y="300.9" font-size="11.3" text-anchor="middle">2000</text>
<text x="163.45" y="300.9" font-size="11.3" text-anchor="middle">3000</text>
<text x="206.97" y="300.9" font-size="11.3" text-anchor="middle">4000</text>
<text x="250.48" y="300.9" font-size="11.3" text-anchor="middle">5000</text>
<text x="294" y="300.9" font-size="11.3" text-anchor="middle">6000</text>
<text x="169.2" y="314.3" font-size="13" text-anchor="middle">Time (s)</text>
<text x="11.3" y="225" font-size="13" text-anchor="middle" transform="rotate(-90 11.3 225)">Temperature (<tspan font-size="12.0" dy="-0.71" stroke="#000" stroke-width="0.16">°</tspan><tspan dx="-0.26" dy="0.71">C</tspan>)</text>
<text x="2.9" y="168.7" font-size="14.3" font-weight="bold">e</text>
<rect x="348.2" y="251.2" width="12.0" height="36.3" fill="url(#barB)" stroke="#22A5F0" stroke-width="1.1"/>
<rect x="360.2" y="251.2" width="12.3" height="36.3" fill="url(#barO2)" stroke="#F7A030" stroke-width="1.1"/>
<rect x="377.8" y="242.58" width="12.0" height="44.92" fill="url(#barB)" stroke="#22A5F0" stroke-width="1.1"/>
<rect x="389.8" y="242.58" width="12.3" height="44.92" fill="url(#barO2)" stroke="#F7A030" stroke-width="1.1"/>
<rect x="407.4" y="235.14" width="12.0" height="52.36" fill="url(#barB)" stroke="#22A5F0" stroke-width="1.1"/>
<rect x="419.4" y="235.14" width="12.3" height="52.36" fill="url(#barO2)" stroke="#F7A030" stroke-width="1.1"/>
<rect x="437" y="231.87" width="12.0" height="55.63" fill="url(#barB)" stroke="#22A5F0" stroke-width="1.1"/>
<rect x="449" y="231.87" width="12.3" height="55.63" fill="url(#barO2)" stroke="#F7A030" stroke-width="1.1"/>
<rect x="466.6" y="171.3" width="12.0" height="116.2" fill="url(#barB)" stroke="#22A5F0" stroke-width="1.1"/>
<rect x="478.6" y="171.3" width="12.3" height="116.2" fill="url(#barO2)" stroke="#F7A030" stroke-width="1.1"/>
<rect x="345.8" y="162.6" width="147.8" height="124.9" fill="none" stroke="#000" stroke-width="1.3"/>
<line x1="345.8" y1="287.5" x2="348.6" y2="287.5" stroke="#000" stroke-width="1.3"/>
<line x1="345.8" y1="257.75" x2="348.6" y2="257.75" stroke="#000" stroke-width="1.3"/>
<line x1="345.8" y1="228" x2="348.6" y2="228" stroke="#000" stroke-width="1.3"/>
<line x1="345.8" y1="198.25" x2="348.6" y2="198.25" stroke="#000" stroke-width="1.3"/>
<line x1="345.8" y1="168.5" x2="348.6" y2="168.5" stroke="#000" stroke-width="1.3"/>
<line x1="345.8" y1="272.62" x2="347.4" y2="272.62" stroke="#000" stroke-width="1.3"/>
<line x1="345.8" y1="242.88" x2="347.4" y2="242.88" stroke="#000" stroke-width="1.3"/>
<line x1="345.8" y1="213.12" x2="347.4" y2="213.12" stroke="#000" stroke-width="1.3"/>
<line x1="345.8" y1="183.38" x2="347.4" y2="183.38" stroke="#000" stroke-width="1.3"/>
<text x="341.5" y="290.9" font-size="11.3" text-anchor="end">0</text>
<text x="341.5" y="261.15" font-size="11.3" text-anchor="end">50</text>
<text x="341.5" y="231.4" font-size="11.3" text-anchor="end">100</text>
<text x="341.5" y="201.65" font-size="11.3" text-anchor="end">150</text>
<text x="341.5" y="171.9" font-size="11.3" text-anchor="end">200</text>
<line x1="360.2" y1="287.5" x2="360.2" y2="284.7" stroke="#000" stroke-width="1.3"/>
<line x1="389.8" y1="287.5" x2="389.8" y2="284.7" stroke="#000" stroke-width="1.3"/>
<line x1="419.4" y1="287.5" x2="419.4" y2="284.7" stroke="#000" stroke-width="1.3"/>
<line x1="449" y1="287.5" x2="449" y2="284.7" stroke="#000" stroke-width="1.3"/>
<line x1="478.6" y1="287.5" x2="478.6" y2="284.7" stroke="#000" stroke-width="1.3"/>
<text x="365.6" y="301" font-size="10.3" text-anchor="end" transform="rotate(-30 365.6 301)">CPCM-60</text>
<text x="395.2" y="301" font-size="10.3" text-anchor="end" transform="rotate(-30 395.2 301)">CPCM-80</text>
<text x="424.8" y="301" font-size="10.3" text-anchor="end" transform="rotate(-30 424.8 301)">CPCM-100</text>
<text x="454.4" y="301" font-size="10.3" text-anchor="end" transform="rotate(-30 454.4 301)">CPCM-120</text>
<text x="484" y="301" font-size="10.3" text-anchor="end" transform="rotate(-30 484 301)">PCM</text>
<rect x="353.1" y="166.4" width="22.5" height="11.2" fill="url(#barO2)" stroke="#F7A030" stroke-width="1.1"/>
<rect x="353.1" y="182.2" width="22.5" height="11.4" fill="url(#barB)" stroke="#22A5F0" stroke-width="1.1"/>
<text x="381.6" y="176" font-size="10.8" fill="#222">Δ<tspan font-style="italic">H</tspan><tspan font-size="7" dy="2.6" dx="0.3">m</tspan></text>
<text x="381.6" y="191.8" font-size="10.8" fill="#222">Δ<tspan font-style="italic">H</tspan><tspan font-size="7" dy="2.6" dx="0.3">c</tspan></text>
<text x="319.8" y="225.55" font-size="13" text-anchor="middle" transform="rotate(-90 319.8 225.55)">Enthalpy (J/g)</text>
<text x="310.9" y="169.6" font-size="14.3" font-weight="bold">f</text>
<line x1="548.4" y1="206.14" x2="548.4" y2="253.06" stroke="#6E6E6E" stroke-width="0.9" stroke-dasharray="1.7 1.3"/>
<line x1="578" y1="203.14" x2="578" y2="252.44" stroke="#6E6E6E" stroke-width="0.9" stroke-dasharray="1.7 1.3"/>
<line x1="607.6" y1="201.14" x2="607.6" y2="255.56" stroke="#6E6E6E" stroke-width="0.9" stroke-dasharray="1.7 1.3"/>
<line x1="637.2" y1="195.03" x2="637.2" y2="252.12" stroke="#6E6E6E" stroke-width="0.9" stroke-dasharray="1.7 1.3"/>
<line x1="666.8" y1="206.14" x2="666.8" y2="236.84" stroke="#6E6E6E" stroke-width="0.9" stroke-dasharray="1.7 1.3"/>
<circle cx="548.4" cy="206.14" r="3.5" fill="url(#ballO)"/>
<circle cx="548.4" cy="253.06" r="3.5" fill="url(#ballB)"/>
<circle cx="578" cy="203.14" r="3.5" fill="url(#ballO)"/>
<circle cx="578" cy="252.44" r="3.5" fill="url(#ballB)"/>
<circle cx="607.6" cy="201.14" r="3.5" fill="url(#ballO)"/>
<circle cx="607.6" cy="255.56" r="3.5" fill="url(#ballB)"/>
<circle cx="637.2" cy="195.03" r="3.5" fill="url(#ballO)"/>
<circle cx="637.2" cy="252.12" r="3.5" fill="url(#ballB)"/>
<circle cx="666.8" cy="206.14" r="3.5" fill="url(#ballO)"/>
<circle cx="666.8" cy="236.84" r="3.5" fill="url(#ballB)"/>
<rect x="534.5" y="162.7" width="146.9" height="124.8" fill="none" stroke="#000" stroke-width="1.3"/>
<line x1="534.5" y1="287.38" x2="537.3" y2="287.38" stroke="#000" stroke-width="1.3"/>
<line x1="534.5" y1="262.42" x2="537.3" y2="262.42" stroke="#000" stroke-width="1.3"/>
<line x1="534.5" y1="237.46" x2="537.3" y2="237.46" stroke="#000" stroke-width="1.3"/>
<line x1="534.5" y1="212.5" x2="537.3" y2="212.5" stroke="#000" stroke-width="1.3"/>
<line x1="534.5" y1="187.54" x2="537.3" y2="187.54" stroke="#000" stroke-width="1.3"/>
<line x1="534.5" y1="162.58" x2="537.3" y2="162.58" stroke="#000" stroke-width="1.3"/>
<line x1="534.5" y1="274.9" x2="536.1" y2="274.9" stroke="#000" stroke-width="1.3"/>
<line x1="534.5" y1="249.94" x2="536.1" y2="249.94" stroke="#000" stroke-width="1.3"/>
<line x1="534.5" y1="224.98" x2="536.1" y2="224.98" stroke="#000" stroke-width="1.3"/>
<line x1="534.5" y1="200.02" x2="536.1" y2="200.02" stroke="#000" stroke-width="1.3"/>
<line x1="534.5" y1="175.06" x2="536.1" y2="175.06" stroke="#000" stroke-width="1.3"/>
<text x="530.2" y="290.78" font-size="11.3" text-anchor="end">-12</text>
<text x="530.2" y="265.82" font-size="11.3" text-anchor="end">-8</text>
<text x="530.2" y="240.86" font-size="11.3" text-anchor="end">-4</text>
<text x="530.2" y="215.9" font-size="11.3" text-anchor="end">0</text>
<text x="530.2" y="190.94" font-size="11.3" text-anchor="end">4</text>
<text x="530.2" y="165.98" font-size="11.3" text-anchor="end">8</text>
<line x1="548.4" y1="287.5" x2="548.4" y2="284.7" stroke="#000" stroke-width="1.3"/>
<line x1="578" y1="287.5" x2="578" y2="284.7" stroke="#000" stroke-width="1.3"/>
<line x1="607.6" y1="287.5" x2="607.6" y2="284.7" stroke="#000" stroke-width="1.3"/>
<line x1="637.2" y1="287.5" x2="637.2" y2="284.7" stroke="#000" stroke-width="1.3"/>
<line x1="666.8" y1="287.5" x2="666.8" y2="284.7" stroke="#000" stroke-width="1.3"/>
<text x="553.4" y="301" font-size="10.3" text-anchor="end" transform="rotate(-30 553.4 301)">CPCM-60</text>
<text x="583" y="301" font-size="10.3" text-anchor="end" transform="rotate(-30 583 301)">CPCM-80</text>
<text x="612.6" y="301" font-size="10.3" text-anchor="end" transform="rotate(-30 612.6 301)">CPCM-100</text>
<text x="642.2" y="301" font-size="10.3" text-anchor="end" transform="rotate(-30 642.2 301)">CPCM-120</text>
<text x="671.8" y="301" font-size="10.3" text-anchor="end" transform="rotate(-30 671.8 301)">PCM</text>
<circle cx="550.5" cy="172.8" r="3.3" fill="url(#ballO)"/>
<circle cx="589.2" cy="172.8" r="3.3" fill="url(#ballB)"/>
<text x="562.6" y="176.6" font-size="10.8" fill="#222"><tspan font-style="italic">T</tspan><tspan font-size="7" dy="3.2" dx="0.6">m</tspan></text>
<text x="601.8" y="176.6" font-size="10.8" fill="#222"><tspan font-style="italic">T</tspan><tspan font-size="7" dy="3.2" dx="0.6">c</tspan></text>
<text x="651.6" y="224.9" font-size="10.8" fill="#222">Δ<tspan font-style="italic">T</tspan></text>
<text x="517.6" y="225.6" font-size="13" text-anchor="middle" transform="rotate(-90 517.6 225.6)">Temperature (<tspan font-size="12.0" dy="-0.71" stroke="#000" stroke-width="0.16">°</tspan><tspan dx="-0.26" dy="0.71">C</tspan>)</text>
<text x="507.9" y="168" font-size="14.3" font-weight="bold">g</text>
<line x1="409.5" y1="434.35" x2="682.6" y2="434.35" stroke="#000" stroke-width="1.1" stroke-dasharray="3.8 3"/>
<g fill="#FFF4E8" stroke="#FFB057" stroke-width="1.05"><circle cx="409.5" cy="452.93" r="1.75"/><circle cx="410.18" cy="450.59" r="1.75"/><circle cx="410.87" cy="448.27" r="1.75"/><circle cx="411.55" cy="445.94" r="1.75"/><circle cx="412.23" cy="443.57" r="1.75"/><circle cx="412.91" cy="441.15" r="1.75"/><circle cx="413.54" cy="438.86" r="1.75"/><circle cx="414.17" cy="436.54" r="1.75"/><circle cx="414.8" cy="434.2" r="1.75"/><circle cx="415.43" cy="431.85" r="1.75"/><circle cx="416.06" cy="429.5" r="1.75"/><circle cx="416.7" cy="427.07" r="1.75"/><circle cx="417.33" cy="424.62" r="1.75"/><circle cx="417.96" cy="422.2" r="1.75"/><circle cx="418.59" cy="419.89" r="1.75"/><circle cx="419.27" cy="417.56" r="1.75"/><circle cx="420" cy="415.21" r="1.75"/><circle cx="420.74" cy="412.97" r="1.75"/><circle cx="421.53" cy="410.68" r="1.75"/><circle cx="422.37" cy="408.36" r="1.75"/><circle cx="423.21" cy="406.16" r="1.75"/><circle cx="424.1" cy="403.91" r="1.75"/><circle cx="425.05" cy="401.68" r="1.75"/><circle cx="426.1" cy="399.52" r="1.75"/><circle cx="427.3" cy="397.48" r="1.75"/><circle cx="428.67" cy="395.5" r="1.75"/><circle cx="430.14" cy="393.65" r="1.75"/><circle cx="431.77" cy="391.86" r="1.75"/><circle cx="433.4" cy="390.16" r="1.75"/><circle cx="434.97" cy="388.41" r="1.75"/><circle cx="436.49" cy="386.61" r="1.75"/><circle cx="438.02" cy="384.74" r="1.75"/><circle cx="439.54" cy="382.87" r="1.75"/><circle cx="441.06" cy="381.05" r="1.75"/><circle cx="442.64" cy="379.26" r="1.75"/><circle cx="444.32" cy="377.52" r="1.75"/><circle cx="446.05" cy="375.92" r="1.75"/><circle cx="447.84" cy="374.33" r="1.75"/><circle cx="449.62" cy="372.79" r="1.75"/><circle cx="451.46" cy="371.29" r="1.75"/><circle cx="453.35" cy="369.84" r="1.75"/><circle cx="455.3" cy="368.47" r="1.75"/><circle cx="457.29" cy="367.2" r="1.75"/><circle cx="459.39" cy="366.04" r="1.75"/><circle cx="461.55" cy="365" r="1.75"/><circle cx="463.7" cy="364.05" r="1.75"/><circle cx="465.91" cy="363.15" r="1.75"/><circle cx="468.11" cy="362.31" r="1.75"/><circle cx="470.37" cy="361.52" r="1.75"/><circle cx="472.63" cy="360.78" r="1.75"/><circle cx="474.89" cy="360.09" r="1.75"/><circle cx="477.14" cy="359.42" r="1.75"/><circle cx="479.46" cy="358.78" r="1.75"/><circle cx="481.77" cy="358.2" r="1.75"/><circle cx="484.08" cy="357.68" r="1.75"/><circle cx="486.39" cy="357.22" r="1.75"/><circle cx="488.7" cy="356.78" r="1.75"/><circle cx="491.06" cy="356.36" r="1.75"/><circle cx="493.43" cy="355.97" r="1.75"/><circle cx="495.79" cy="355.6" r="1.75"/><circle cx="498.15" cy="355.25" r="1.75"/><circle cx="500.52" cy="354.92" r="1.75"/><circle cx="502.88" cy="354.6" r="1.75"/><circle cx="505.24" cy="354.29" r="1.75"/><circle cx="507.61" cy="353.98" r="1.75"/><circle cx="509.97" cy="353.69" r="1.75"/><circle cx="512.33" cy="353.42" r="1.75"/><circle cx="514.7" cy="353.17" r="1.75"/><circle cx="517.06" cy="352.94" r="1.75"/><circle cx="519.42" cy="352.73" r="1.75"/><circle cx="521.79" cy="352.54" r="1.75"/><circle cx="524.15" cy="352.35" r="1.75"/><circle cx="526.51" cy="352.15" r="1.75"/><circle cx="528.88" cy="351.96" r="1.75"/><circle cx="531.24" cy="351.78" r="1.75"/><circle cx="533.6" cy="351.61" r="1.75"/><circle cx="535.97" cy="351.46" r="1.75"/><circle cx="538.33" cy="351.34" r="1.75"/><circle cx="540.69" cy="351.24" r="1.75"/><circle cx="543.06" cy="351.18" r="1.75"/><circle cx="545.42" cy="351.15" r="1.75"/><circle cx="546.94" cy="352.77" r="1.75"/><circle cx="547.63" cy="355.21" r="1.75"/><circle cx="548.2" cy="357.67" r="1.75"/><circle cx="548.78" cy="360.15" r="1.75"/><circle cx="549.41" cy="362.56" r="1.75"/><circle cx="550.04" cy="364.97" r="1.75"/><circle cx="550.62" cy="367.28" r="1.75"/><circle cx="551.2" cy="369.67" r="1.75"/><circle cx="551.77" cy="372.08" r="1.75"/><circle cx="552.35" cy="374.47" r="1.75"/><circle cx="552.93" cy="376.87" r="1.75"/><circle cx="553.51" cy="379.38" r="1.75"/><circle cx="554.03" cy="381.71" r="1.75"/><circle cx="554.56" cy="384.01" r="1.75"/><circle cx="555.14" cy="386.41" r="1.75"/><circle cx="555.77" cy="388.77" r="1.75"/><circle cx="556.5" cy="391.13" r="1.75"/><circle cx="557.29" cy="393.43" r="1.75"/><circle cx="558.13" cy="395.69" r="1.75"/><circle cx="559.02" cy="397.91" r="1.75"/><circle cx="559.97" cy="400.1" r="1.75"/><circle cx="560.97" cy="402.3" r="1.75"/><circle cx="562.02" cy="404.5" r="1.75"/><circle cx="563.12" cy="406.69" r="1.75"/><circle cx="564.27" cy="408.86" r="1.75"/><circle cx="565.48" cy="410.99" r="1.75"/><circle cx="566.74" cy="413.06" r="1.75"/><circle cx="568.06" cy="415.05" r="1.75"/><circle cx="569.42" cy="417.02" r="1.75"/><circle cx="570.84" cy="418.9" r="1.75"/><circle cx="572.36" cy="420.72" r="1.75"/><circle cx="574.04" cy="422.43" r="1.75"/><circle cx="575.83" cy="424.02" r="1.75"/><circle cx="577.72" cy="425.52" r="1.75"/><circle cx="579.66" cy="426.89" r="1.75"/><circle cx="581.66" cy="428.19" r="1.75"/><circle cx="583.71" cy="429.4" r="1.75"/><circle cx="585.81" cy="430.53" r="1.75"/><circle cx="587.96" cy="431.59" r="1.75"/><circle cx="590.11" cy="432.57" r="1.75"/><circle cx="592.32" cy="433.49" r="1.75"/><circle cx="594.53" cy="434.35" r="1.75"/><circle cx="596.73" cy="435.18" r="1.75"/><circle cx="598.94" cy="436.01" r="1.75"/><circle cx="601.14" cy="436.83" r="1.75"/><circle cx="603.4" cy="437.65" r="1.75"/><circle cx="605.66" cy="438.44" r="1.75"/><circle cx="607.92" cy="439.18" r="1.75"/><circle cx="610.18" cy="439.86" r="1.75"/><circle cx="612.49" cy="440.48" r="1.75"/><circle cx="614.8" cy="441.02" r="1.75"/><circle cx="617.11" cy="441.52" r="1.75"/><circle cx="619.42" cy="441.99" r="1.75"/><circle cx="621.73" cy="442.42" r="1.75"/><circle cx="624.09" cy="442.84" r="1.75"/><circle cx="626.46" cy="443.24" r="1.75"/><circle cx="628.82" cy="443.63" r="1.75"/><circle cx="631.18" cy="444.01" r="1.75"/><circle cx="633.55" cy="444.38" r="1.75"/><circle cx="635.91" cy="444.73" r="1.75"/><circle cx="638.27" cy="445.06" r="1.75"/><circle cx="640.64" cy="445.37" r="1.75"/><circle cx="643" cy="445.66" r="1.75"/><circle cx="645.36" cy="445.93" r="1.75"/><circle cx="647.73" cy="446.19" r="1.75"/><circle cx="650.09" cy="446.44" r="1.75"/><circle cx="652.45" cy="446.68" r="1.75"/><circle cx="654.82" cy="446.9" r="1.75"/><circle cx="657.18" cy="447.12" r="1.75"/><circle cx="659.54" cy="447.33" r="1.75"/><circle cx="661.91" cy="447.53" r="1.75"/><circle cx="664.27" cy="447.73" r="1.75"/><circle cx="666.63" cy="447.91" r="1.75"/><circle cx="669" cy="448.09" r="1.75"/><circle cx="671.36" cy="448.26" r="1.75"/><circle cx="673.72" cy="448.43" r="1.75"/><circle cx="676.09" cy="448.59" r="1.75"/><circle cx="678.45" cy="448.76" r="1.75"/><circle cx="680.81" cy="448.93" r="1.75"/></g>
<g fill="#EEF8FF" stroke="#62C0F5" stroke-width="1.05"><circle cx="409.5" cy="452.93" r="1.75"/><circle cx="410.71" cy="450.91" r="1.75"/><circle cx="411.71" cy="448.65" r="1.75"/><circle cx="412.55" cy="446.32" r="1.75"/><circle cx="413.33" cy="444.05" r="1.75"/><circle cx="414.17" cy="441.82" r="1.75"/><circle cx="415.22" cy="439.63" r="1.75"/><circle cx="416.38" cy="437.54" r="1.75"/><circle cx="417.64" cy="435.49" r="1.75"/><circle cx="419.06" cy="433.52" r="1.75"/><circle cx="420.63" cy="431.76" r="1.75"/><circle cx="422.37" cy="430.12" r="1.75"/><circle cx="424.21" cy="428.63" r="1.75"/><circle cx="426.15" cy="427.28" r="1.75"/><circle cx="428.2" cy="426.06" r="1.75"/><circle cx="430.3" cy="424.97" r="1.75"/><circle cx="432.45" cy="424" r="1.75"/><circle cx="434.66" cy="423.13" r="1.75"/><circle cx="436.92" cy="422.37" r="1.75"/><circle cx="439.23" cy="421.75" r="1.75"/><circle cx="441.54" cy="421.22" r="1.75"/><circle cx="443.85" cy="420.72" r="1.75"/><circle cx="446.16" cy="420.18" r="1.75"/><circle cx="448.47" cy="419.53" r="1.75"/><circle cx="450.73" cy="418.72" r="1.75"/><circle cx="452.88" cy="417.75" r="1.75"/><circle cx="454.98" cy="416.57" r="1.75"/><circle cx="456.92" cy="415.24" r="1.75"/><circle cx="458.76" cy="413.71" r="1.75"/><circle cx="460.44" cy="412.06" r="1.75"/><circle cx="461.81" cy="410.08" r="1.75"/><circle cx="462.91" cy="408" r="1.75"/><circle cx="463.96" cy="405.78" r="1.75"/><circle cx="464.96" cy="403.58" r="1.75"/><circle cx="465.96" cy="401.31" r="1.75"/><circle cx="466.8" cy="399.11" r="1.75"/><circle cx="467.69" cy="396.88" r="1.75"/><circle cx="468.74" cy="394.77" r="1.75"/><circle cx="469.95" cy="392.64" r="1.75"/><circle cx="471.21" cy="390.61" r="1.75"/><circle cx="472.52" cy="388.58" r="1.75"/><circle cx="473.84" cy="386.62" r="1.75"/><circle cx="475.2" cy="384.68" r="1.75"/><circle cx="476.67" cy="382.74" r="1.75"/><circle cx="478.2" cy="380.91" r="1.75"/><circle cx="479.77" cy="379.16" r="1.75"/><circle cx="481.45" cy="377.41" r="1.75"/><circle cx="483.18" cy="375.76" r="1.75"/><circle cx="485.02" cy="374.2" r="1.75"/><circle cx="486.91" cy="372.77" r="1.75"/><circle cx="488.91" cy="371.45" r="1.75"/><circle cx="490.96" cy="370.26" r="1.75"/><circle cx="493.06" cy="369.14" r="1.75"/><circle cx="495.21" cy="368.09" r="1.75"/><circle cx="497.36" cy="367.1" r="1.75"/><circle cx="499.57" cy="366.15" r="1.75"/><circle cx="501.78" cy="365.25" r="1.75"/><circle cx="503.98" cy="364.39" r="1.75"/><circle cx="506.24" cy="363.57" r="1.75"/><circle cx="508.5" cy="362.79" r="1.75"/><circle cx="510.76" cy="362.07" r="1.75"/><circle cx="513.02" cy="361.35" r="1.75"/><circle cx="515.27" cy="360.64" r="1.75"/><circle cx="517.53" cy="359.95" r="1.75"/><circle cx="519.79" cy="359.29" r="1.75"/><circle cx="522.1" cy="358.65" r="1.75"/><circle cx="524.41" cy="358.07" r="1.75"/><circle cx="526.72" cy="357.54" r="1.75"/><circle cx="529.03" cy="357.09" r="1.75"/><circle cx="531.4" cy="356.7" r="1.75"/><circle cx="533.76" cy="356.3" r="1.75"/><circle cx="536.12" cy="355.92" r="1.75"/><circle cx="538.49" cy="355.57" r="1.75"/><circle cx="540.85" cy="355.29" r="1.75"/><circle cx="543.21" cy="355.1" r="1.75"/><circle cx="545.58" cy="355.02" r="1.75"/><circle cx="547.1" cy="356.69" r="1.75"/><circle cx="547.84" cy="359" r="1.75"/><circle cx="548.47" cy="361.34" r="1.75"/><circle cx="549.1" cy="363.73" r="1.75"/><circle cx="549.67" cy="366.09" r="1.75"/><circle cx="550.15" cy="368.51" r="1.75"/><circle cx="550.57" cy="370.88" r="1.75"/><circle cx="550.99" cy="373.34" r="1.75"/><circle cx="551.41" cy="375.75" r="1.75"/><circle cx="551.88" cy="378.26" r="1.75"/><circle cx="552.4" cy="380.57" r="1.75"/><circle cx="553.09" cy="382.83" r="1.75"/><circle cx="553.88" cy="385.12" r="1.75"/><circle cx="554.77" cy="387.38" r="1.75"/><circle cx="555.77" cy="389.54" r="1.75"/><circle cx="556.92" cy="391.63" r="1.75"/><circle cx="558.23" cy="393.61" r="1.75"/><circle cx="559.71" cy="395.49" r="1.75"/><circle cx="561.28" cy="397.29" r="1.75"/><circle cx="562.86" cy="399.09" r="1.75"/><circle cx="564.33" cy="400.97" r="1.75"/><circle cx="565.69" cy="402.99" r="1.75"/><circle cx="566.95" cy="405.01" r="1.75"/><circle cx="568.21" cy="407.05" r="1.75"/><circle cx="569.53" cy="409.06" r="1.75"/><circle cx="570.94" cy="410.93" r="1.75"/><circle cx="572.68" cy="412.58" r="1.75"/><circle cx="574.62" cy="414" r="1.75"/><circle cx="576.62" cy="415.27" r="1.75"/><circle cx="578.72" cy="416.37" r="1.75"/><circle cx="580.92" cy="417.22" r="1.75"/><circle cx="583.23" cy="417.8" r="1.75"/><circle cx="585.6" cy="418.23" r="1.75"/><circle cx="587.96" cy="418.57" r="1.75"/><circle cx="590.32" cy="418.86" r="1.75"/><circle cx="592.69" cy="419.13" r="1.75"/><circle cx="595.05" cy="419.42" r="1.75"/><circle cx="597.41" cy="419.77" r="1.75"/><circle cx="599.78" cy="420.14" r="1.75"/><circle cx="602.14" cy="420.52" r="1.75"/><circle cx="604.5" cy="420.9" r="1.75"/><circle cx="606.87" cy="421.3" r="1.75"/><circle cx="609.23" cy="421.71" r="1.75"/><circle cx="611.59" cy="422.14" r="1.75"/><circle cx="613.9" cy="422.57" r="1.75"/><circle cx="616.22" cy="423.02" r="1.75"/><circle cx="618.53" cy="423.53" r="1.75"/><circle cx="620.84" cy="424.14" r="1.75"/><circle cx="623.1" cy="424.88" r="1.75"/><circle cx="625.3" cy="425.73" r="1.75"/><circle cx="627.51" cy="426.68" r="1.75"/><circle cx="629.66" cy="427.67" r="1.75"/><circle cx="631.81" cy="428.69" r="1.75"/><circle cx="633.97" cy="429.71" r="1.75"/><circle cx="636.12" cy="430.71" r="1.75"/><circle cx="638.27" cy="431.66" r="1.75"/><circle cx="640.48" cy="432.55" r="1.75"/><circle cx="642.74" cy="433.35" r="1.75"/><circle cx="645" cy="434.07" r="1.75"/><circle cx="647.25" cy="434.76" r="1.75"/><circle cx="649.51" cy="435.41" r="1.75"/><circle cx="651.82" cy="436.05" r="1.75"/><circle cx="654.13" cy="436.67" r="1.75"/><circle cx="656.45" cy="437.28" r="1.75"/><circle cx="658.76" cy="437.88" r="1.75"/><circle cx="661.07" cy="438.47" r="1.75"/><circle cx="663.38" cy="439.06" r="1.75"/><circle cx="665.69" cy="439.64" r="1.75"/><circle cx="668" cy="440.2" r="1.75"/><circle cx="670.31" cy="440.75" r="1.75"/><circle cx="672.62" cy="441.3" r="1.75"/><circle cx="674.93" cy="441.84" r="1.75"/><circle cx="677.24" cy="442.37" r="1.75"/><circle cx="679.55" cy="442.92" r="1.75"/><circle cx="681.86" cy="443.46" r="1.75"/></g>
<g fill="#F0FAF2" stroke="#62CA7F" stroke-width="1.05"><circle cx="409.5" cy="452.93" r="1.75"/><circle cx="410.03" cy="450.42" r="1.75"/><circle cx="410.5" cy="448.09" r="1.75"/><circle cx="410.97" cy="445.76" r="1.75"/><circle cx="411.5" cy="443.23" r="1.75"/><circle cx="412.02" cy="440.83" r="1.75"/><circle cx="412.6" cy="438.42" r="1.75"/><circle cx="413.23" cy="436.01" r="1.75"/><circle cx="413.86" cy="433.66" r="1.75"/><circle cx="414.54" cy="431.28" r="1.75"/><circle cx="415.28" cy="428.98" r="1.75"/><circle cx="416.17" cy="426.72" r="1.75"/><circle cx="417.27" cy="424.58" r="1.75"/><circle cx="418.53" cy="422.58" r="1.75"/><circle cx="420.06" cy="420.75" r="1.75"/><circle cx="421.84" cy="419.17" r="1.75"/><circle cx="423.79" cy="417.82" r="1.75"/><circle cx="425.83" cy="416.61" r="1.75"/><circle cx="427.99" cy="415.54" r="1.75"/><circle cx="430.14" cy="414.58" r="1.75"/><circle cx="432.35" cy="413.72" r="1.75"/><circle cx="434.55" cy="412.85" r="1.75"/><circle cx="436.55" cy="411.54" r="1.75"/><circle cx="438.23" cy="409.88" r="1.75"/><circle cx="439.75" cy="408.03" r="1.75"/><circle cx="441.01" cy="406" r="1.75"/><circle cx="442.06" cy="403.85" r="1.75"/><circle cx="443.06" cy="401.61" r="1.75"/><circle cx="444.06" cy="399.35" r="1.75"/><circle cx="445.11" cy="397.13" r="1.75"/><circle cx="446.32" cy="395.02" r="1.75"/><circle cx="447.73" cy="393.06" r="1.75"/><circle cx="449.26" cy="391.19" r="1.75"/><circle cx="450.78" cy="389.32" r="1.75"/><circle cx="452.25" cy="387.45" r="1.75"/><circle cx="453.72" cy="385.56" r="1.75"/><circle cx="455.19" cy="383.72" r="1.75"/><circle cx="456.71" cy="381.88" r="1.75"/><circle cx="458.29" cy="380.13" r="1.75"/><circle cx="459.97" cy="378.46" r="1.75"/><circle cx="461.7" cy="376.85" r="1.75"/><circle cx="463.49" cy="375.27" r="1.75"/><circle cx="465.33" cy="373.74" r="1.75"/><circle cx="467.22" cy="372.28" r="1.75"/><circle cx="469.16" cy="370.89" r="1.75"/><circle cx="471.16" cy="369.59" r="1.75"/><circle cx="473.21" cy="368.38" r="1.75"/><circle cx="475.31" cy="367.21" r="1.75"/><circle cx="477.41" cy="366.13" r="1.75"/><circle cx="479.56" cy="365.1" r="1.75"/><circle cx="481.71" cy="364.15" r="1.75"/><circle cx="483.92" cy="363.28" r="1.75"/><circle cx="486.18" cy="362.47" r="1.75"/><circle cx="488.44" cy="361.72" r="1.75"/><circle cx="490.69" cy="361.03" r="1.75"/><circle cx="493.01" cy="360.38" r="1.75"/><circle cx="495.32" cy="359.77" r="1.75"/><circle cx="497.63" cy="359.2" r="1.75"/><circle cx="499.94" cy="358.67" r="1.75"/><circle cx="502.25" cy="358.15" r="1.75"/><circle cx="504.56" cy="357.64" r="1.75"/><circle cx="506.87" cy="357.14" r="1.75"/><circle cx="509.18" cy="356.67" r="1.75"/><circle cx="511.49" cy="356.23" r="1.75"/><circle cx="513.86" cy="355.82" r="1.75"/><circle cx="516.22" cy="355.46" r="1.75"/><circle cx="518.58" cy="355.16" r="1.75"/><circle cx="520.95" cy="354.91" r="1.75"/><circle cx="523.31" cy="354.68" r="1.75"/><circle cx="525.67" cy="354.45" r="1.75"/><circle cx="528.04" cy="354.23" r="1.75"/><circle cx="530.4" cy="354.02" r="1.75"/><circle cx="532.76" cy="353.83" r="1.75"/><circle cx="535.13" cy="353.66" r="1.75"/><circle cx="537.49" cy="353.52" r="1.75"/><circle cx="539.85" cy="353.41" r="1.75"/><circle cx="542.22" cy="353.32" r="1.75"/><circle cx="544.58" cy="353.28" r="1.75"/><circle cx="546.63" cy="353.93" r="1.75"/><circle cx="547.47" cy="356.16" r="1.75"/><circle cx="548.1" cy="358.45" r="1.75"/><circle cx="548.68" cy="360.74" r="1.75"/><circle cx="549.31" cy="363.16" r="1.75"/><circle cx="549.83" cy="365.52" r="1.75"/><circle cx="550.3" cy="368.02" r="1.75"/><circle cx="550.72" cy="370.41" r="1.75"/><circle cx="551.14" cy="372.82" r="1.75"/><circle cx="551.56" cy="375.14" r="1.75"/><circle cx="552.04" cy="377.49" r="1.75"/><circle cx="552.67" cy="379.94" r="1.75"/><circle cx="553.4" cy="382.22" r="1.75"/><circle cx="554.24" cy="384.52" r="1.75"/><circle cx="555.19" cy="386.76" r="1.75"/><circle cx="556.24" cy="388.88" r="1.75"/><circle cx="557.45" cy="390.96" r="1.75"/><circle cx="558.81" cy="392.96" r="1.75"/><circle cx="560.28" cy="394.84" r="1.75"/><circle cx="561.81" cy="396.65" r="1.75"/><circle cx="563.33" cy="398.49" r="1.75"/><circle cx="564.75" cy="400.4" r="1.75"/><circle cx="566.06" cy="402.35" r="1.75"/><circle cx="567.37" cy="404.38" r="1.75"/><circle cx="568.69" cy="406.38" r="1.75"/><circle cx="570.1" cy="408.35" r="1.75"/><circle cx="571.68" cy="410.17" r="1.75"/><circle cx="573.52" cy="411.71" r="1.75"/><circle cx="575.41" cy="413.12" r="1.75"/><circle cx="577.4" cy="414.41" r="1.75"/><circle cx="579.5" cy="415.5" r="1.75"/><circle cx="581.76" cy="416.3" r="1.75"/><circle cx="584.07" cy="416.81" r="1.75"/><circle cx="586.44" cy="417.22" r="1.75"/><circle cx="588.8" cy="417.55" r="1.75"/><circle cx="591.16" cy="417.83" r="1.75"/><circle cx="593.53" cy="418.1" r="1.75"/><circle cx="595.89" cy="418.39" r="1.75"/><circle cx="598.25" cy="418.71" r="1.75"/><circle cx="600.62" cy="419" r="1.75"/><circle cx="602.98" cy="419.27" r="1.75"/><circle cx="605.34" cy="419.55" r="1.75"/><circle cx="607.71" cy="419.85" r="1.75"/><circle cx="610.07" cy="420.18" r="1.75"/><circle cx="612.43" cy="420.56" r="1.75"/><circle cx="614.75" cy="421.01" r="1.75"/><circle cx="617.06" cy="421.56" r="1.75"/><circle cx="619.37" cy="422.18" r="1.75"/><circle cx="621.63" cy="422.84" r="1.75"/><circle cx="623.88" cy="423.61" r="1.75"/><circle cx="626.09" cy="424.43" r="1.75"/><circle cx="628.3" cy="425.31" r="1.75"/><circle cx="630.5" cy="426.22" r="1.75"/><circle cx="632.71" cy="427.13" r="1.75"/><circle cx="634.91" cy="428.02" r="1.75"/><circle cx="637.12" cy="428.85" r="1.75"/><circle cx="639.38" cy="429.63" r="1.75"/><circle cx="641.63" cy="430.31" r="1.75"/><circle cx="643.95" cy="430.9" r="1.75"/><circle cx="646.26" cy="431.44" r="1.75"/><circle cx="648.57" cy="431.94" r="1.75"/><circle cx="650.88" cy="432.41" r="1.75"/><circle cx="653.19" cy="432.85" r="1.75"/><circle cx="655.55" cy="433.28" r="1.75"/><circle cx="657.92" cy="433.7" r="1.75"/><circle cx="660.28" cy="434.12" r="1.75"/><circle cx="662.64" cy="434.53" r="1.75"/><circle cx="665.01" cy="434.93" r="1.75"/><circle cx="667.37" cy="435.31" r="1.75"/><circle cx="669.73" cy="435.68" r="1.75"/><circle cx="672.1" cy="436.05" r="1.75"/><circle cx="674.46" cy="436.4" r="1.75"/><circle cx="676.82" cy="436.76" r="1.75"/><circle cx="679.19" cy="437.11" r="1.75"/><circle cx="681.55" cy="437.48" r="1.75"/></g>
<rect x="411.8" y="409.7" width="56.7" height="18.3" rx="9" ry="9" fill="none" stroke="#F6B81C" stroke-width="1.4" stroke-dasharray="4 2.6"/>
<rect x="562.7" y="409.1" width="51.8" height="18.7" rx="9" ry="9" fill="none" stroke="#1EA2E8" stroke-width="1.4" stroke-dasharray="4 2.6"/>
<path d="M469.8,417.2 C474,419.6 481.5,418.5 484.2,412.8" fill="none" stroke="#F6B81C" stroke-width="1.4"/>
<path d="M481.2,413.2 L485.3,407.8 L487.6,414.0 Z" fill="#F6B81C"/>
<path d="M618.2,417.3 C622.5,419.4 631,418.5 633.3,409.0" fill="none" stroke="#1EA2E8" stroke-width="1.4"/>
<path d="M630.6,410.0 L634.4,404.4 L636.6,410.6 Z" fill="#1EA2E8"/>
<text x="510.7" y="405" font-size="10.6" text-anchor="middle" fill="#F6B81C">Thermal energy</text>
<text x="510.5" y="416.6" font-size="10.6" text-anchor="middle" fill="#F6B81C">storage</text>
<text x="471" y="431.6" font-size="10.6" fill="#B4B4B4">-10 <tspan font-size="9.8" dy="-0.58" stroke="#B4B4B4" stroke-width="0.13">°</tspan><tspan dx="-0.21" dy="0.58">C</tspan></text>
<text x="574.4" y="401.9" font-size="10.6" fill="#1EA2E8">Latent heat release</text>
<text x="420.2" y="455.3" font-size="10.6">Light on</text>
<text x="553.8" y="455.3" font-size="10.6">Light off</text>
<rect x="409.5" y="338" width="273.1" height="125" fill="none" stroke="#000" stroke-width="1.3"/>
<line x1="409.5" y1="453.7" x2="412.3" y2="453.7" stroke="#000" stroke-width="1.3"/>
<line x1="409.5" y1="415" x2="412.3" y2="415" stroke="#000" stroke-width="1.3"/>
<line x1="409.5" y1="376.3" x2="412.3" y2="376.3" stroke="#000" stroke-width="1.3"/>
<line x1="409.5" y1="337.6" x2="412.3" y2="337.6" stroke="#000" stroke-width="1.3"/>
<line x1="409.5" y1="434.35" x2="411.1" y2="434.35" stroke="#000" stroke-width="1.3"/>
<line x1="409.5" y1="395.65" x2="411.1" y2="395.65" stroke="#000" stroke-width="1.3"/>
<line x1="409.5" y1="356.95" x2="411.1" y2="356.95" stroke="#000" stroke-width="1.3"/>
<text x="405.2" y="457.1" font-size="11.3" text-anchor="end">-20</text>
<text x="405.2" y="418.4" font-size="11.3" text-anchor="end">0</text>
<text x="405.2" y="379.7" font-size="11.3" text-anchor="end">20</text>
<text x="405.2" y="341" font-size="11.3" text-anchor="end">40</text>
<line x1="409.5" y1="463" x2="409.5" y2="460.2" stroke="#000" stroke-width="1.3"/>
<line x1="462.02" y1="463" x2="462.02" y2="460.2" stroke="#000" stroke-width="1.3"/>
<line x1="514.54" y1="463" x2="514.54" y2="460.2" stroke="#000" stroke-width="1.3"/>
<line x1="567.06" y1="463" x2="567.06" y2="460.2" stroke="#000" stroke-width="1.3"/>
<line x1="619.58" y1="463" x2="619.58" y2="460.2" stroke="#000" stroke-width="1.3"/>
<line x1="672.1" y1="463" x2="672.1" y2="460.2" stroke="#000" stroke-width="1.3"/>
<line x1="435.76" y1="463" x2="435.76" y2="461.4" stroke="#000" stroke-width="1.3"/>
<line x1="488.28" y1="463" x2="488.28" y2="461.4" stroke="#000" stroke-width="1.3"/>
<line x1="540.8" y1="463" x2="540.8" y2="461.4" stroke="#000" stroke-width="1.3"/>
<line x1="593.32" y1="463" x2="593.32" y2="461.4" stroke="#000" stroke-width="1.3"/>
<line x1="645.84" y1="463" x2="645.84" y2="461.4" stroke="#000" stroke-width="1.3"/>
<text x="409.5" y="476.6" font-size="11.3" text-anchor="middle">0</text>
<text x="462.02" y="476.6" font-size="11.3" text-anchor="middle">500</text>
<text x="514.54" y="476.6" font-size="11.3" text-anchor="middle">1000</text>
<text x="567.06" y="476.6" font-size="11.3" text-anchor="middle">1500</text>
<text x="619.58" y="476.6" font-size="11.3" text-anchor="middle">2000</text>
<text x="672.1" y="476.6" font-size="11.3" text-anchor="middle">2500</text>
<text x="561.2" y="491" font-size="13" text-anchor="middle">Time (s)</text>
<text x="384" y="400.5" font-size="13" text-anchor="middle" transform="rotate(-90 384 400.5)">Temperature (<tspan font-size="12.0" dy="-0.71" stroke="#000" stroke-width="0.16">°</tspan><tspan dx="-0.26" dy="0.71">C</tspan>)</text>
<text x="376.5" y="343.5" font-size="14.3" font-weight="bold">i</text>
<circle cx="614.4" cy="347.5" r="2.4" fill="url(#ballO)"/>
<text x="630.1" y="351.3" font-size="10.6">PT-6</text>
<circle cx="614.4" cy="360.75" r="2.4" fill="url(#ballBL)"/>
<text x="630.1" y="364.55" font-size="10.6">CPCM-80</text>
<circle cx="614.4" cy="374" r="2.4" fill="url(#ballG)"/>
<text x="630.1" y="377.8" font-size="10.6">PTPCC</text>
<g clip-path="url(#clip5531)"><rect x="552.1" y="10.9" width="59.9" height="57" fill="#0A2A94"/><rect x="560.8" y="17.7" width="43.9" height="43.2" fill="#1E5ED8" filter="url(#blH)"/><rect x="562.2" y="19.1" width="41.1" height="40.4" rx="1.5" fill="#1E6CDA" filter="url(#blR)"/><rect x="563.1" y="20" width="39.3" height="38.6" rx="1.5" fill="#1E78DE" filter="url(#blE)"/><rect x="565.4" y="22.3" width="34.7" height="34" fill="#2282DC" filter="url(#blI)"/><rect x="563.8" y="20.7" width="37.9" height="37.2" filter="url(#spk20)"/></g>
<text x="584" y="19" font-size="10.2" text-anchor="middle" fill="#fff">20 s</text>
<g clip-path="url(#clip6183)"><rect x="617.3" y="10.5" width="59.8" height="57.1" fill="#0C309E"/><rect x="624.7" y="17.4" width="44.7" height="43.5" fill="#2066DA" filter="url(#blH)"/><rect x="626.1" y="18.8" width="41.9" height="40.7" rx="1.5" fill="#2A9CCC" filter="url(#blR)"/><rect x="627" y="19.7" width="40.1" height="38.9" rx="1.5" fill="#70C040" filter="url(#blE)"/><rect x="629.3" y="22" width="35.5" height="34.3" fill="#B6D424" filter="url(#blI)"/><rect x="627.7" y="20.4" width="38.7" height="37.5" filter="url(#spk50)"/></g>
<text x="648.3" y="19" font-size="10.2" text-anchor="middle" fill="#fff">50 s</text>
<g clip-path="url(#clip5594)"><rect x="552.1" y="73.8" width="59.9" height="56.8" fill="#0E36AA"/><rect x="560" y="80.1" width="45.8" height="44.3" fill="#246EE0" filter="url(#blH)"/><rect x="561.4" y="81.5" width="43" height="41.5" rx="1.5" fill="#30B888" filter="url(#blR)"/><rect x="562.3" y="82.4" width="41.2" height="39.7" rx="1.5" fill="#F2D82A" filter="url(#blE)"/><rect x="565.6" y="85.7" width="34.6" height="33.1" fill="#F78A2E" filter="url(#blI)"/><rect x="571" y="91.1" width="23.8" height="22.3" fill="#F05030" opacity="0.6" filter="url(#blC)"/><rect x="563" y="83.1" width="39.8" height="38.3" filter="url(#spk100)"/><rect x="563" y="83.1" width="39.8" height="38.3" filter="url(#spk100b)" opacity="0.5"/></g>
<text x="583.5" y="81.4" font-size="10.2" text-anchor="middle" fill="#fff">100 s</text>
<g clip-path="url(#clip6245)"><rect x="617.2" y="73.8" width="59.9" height="56.7" fill="#0E36AA"/><rect x="624.7" y="80.6" width="45.7" height="43.8" fill="#246EE0" filter="url(#blH)"/><rect x="626.1" y="82" width="42.9" height="41" rx="1.5" fill="#40BC70" filter="url(#blR)"/><rect x="627" y="82.9" width="41.1" height="39.2" rx="1.5" fill="#F8C82C" filter="url(#blE)"/><rect x="629.6" y="85.5" width="35.9" height="34" fill="#F02E4C" filter="url(#blI)"/><rect x="635.7" y="91.6" width="23.7" height="21.8" fill="#EE2A52" opacity="0.6" filter="url(#blC)"/><rect x="633.7" y="89.6" width="27.7" height="25.8" filter="url(#spk500)"/></g>
<text x="648.3" y="81.4" font-size="10.2" text-anchor="middle" fill="#fff">500 s</text>
<rect x="665.9" y="13.9" width="8.6" height="1.8" fill="#fff"/>
<rect x="552.8" y="134.3" width="124.2" height="7.2" fill="url(#cbar)"/>
<line x1="552.8" y1="134.5" x2="677" y2="134.5" stroke="#9A9AA8" stroke-width="0.5"/>
<text x="541.7" y="152" font-size="10.6">20 <tspan font-size="9.8" dy="-0.58" stroke="#000" stroke-width="0.13">°</tspan><tspan dx="-0.21" dy="0.58">C</tspan></text>
<text x="678.3" y="152" font-size="10.6" text-anchor="end">74 <tspan font-size="9.8" dy="-0.58" stroke="#000" stroke-width="0.13">°</tspan><tspan dx="-0.21" dy="0.58">C</tspan></text>
<text x="538.9" y="14.4" font-size="14.3" font-weight="bold">d</text>
<rect x="19.3" y="337.4" width="109.5" height="80.8" fill="#777" filter="url(#sem1)"/>
<g clip-path="url(#sc19)" fill="none" stroke="#E4E4E4" stroke-linecap="round" stroke-opacity="0.7" stroke-width="0.8"><path d="M63.54,353.57 L65.63,354.43 L68,357.12 L68.72,359.27"/><path d="M87.62,353.52 L89.36,349.52 L93.35,347.26 L94.92,344.25"/><path d="M38.9,383.21 L41.78,384.63 L43.8,384.63"/><path d="M41.61,417.36 L39.1,416.71 L36.98,416.33 L32.87,418.92 L28.67,419.48 L24.04,420.66"/><path d="M38.75,378.06 L42.13,378.58 L43.71,380.17"/><path d="M65.88,344.35 L65.55,346.73 L65.79,351.43"/><path d="M125.93,389.15 L123.66,388.46 L122.33,385.3 L118.29,384.11 L115.04,381.24 L110.22,381.12"/><path d="M32.92,346.99 L32.4,351.74 L30.14,353.64 L28.08,355.39"/><path d="M47.51,406.72 L46.19,408.27 L43.24,408.87"/><path d="M60.58,364.61 L61.26,361.57 L58.66,357.73 L59.7,353.7 L59.86,350.37 L58.58,346.62"/><path d="M90.84,362.5 L91.8,358.18 L93.28,355.86 L93.95,351.66 L91.86,349.08"/><path d="M124.84,358.1 L121.86,356.08 L121.54,353.33 L123.49,350.76 L126.64,348.57"/><path d="M50.21,392.2 L47.2,392.07 L45.5,393.14 L43.59,395.31 L38.97,396 L34.68,395.19"/><path d="M47.88,371.07 L47.12,366.55 L47.41,364.56 L47.8,361.98"/><path d="M76.47,414.15 L80.86,413.65 L82.9,415.56 L83.27,418.79"/><path d="M80.66,387.98 L79.7,386.16 L76.9,385.31 L72.51,383.16 L69.53,382.28"/><path d="M80.32,414.02 L78.02,414.16 L75.52,412.19 L74.63,409.54 L71.77,405.89"/><path d="M118.04,407.53 L115.66,403.29 L113.15,402.17 L109.43,402.31 L107.12,400.18 L106.28,395.44"/><path d="M71.77,409.55 L76.38,407.78 L81.15,406.29 L83.42,405.7 L85.51,406.43 L87.11,407.65"/><path d="M93.83,359.65 L96.32,359.41 L98.45,359.58 L100.45,357.31 L101.23,353.11"/><path d="M36.66,372.88 L34.68,371.25 L32.44,369.53 L31.19,367.7 L32.21,363.5 L30.98,360.7"/><path d="M124.42,380.62 L126.19,376.52 L125.54,374.35"/><path d="M102.43,389.65 L103.67,393.74 L103.89,396.76 L106.38,398.48"/><path d="M87.74,352.59 L91.33,354.2 L95.61,356.34"/><path d="M44.6,411.48 L46.26,407.62 L48.94,403.79 L51.37,403.28"/><path d="M116.79,350.85 L115.19,352.27 L113.46,354.6 L113.67,359.43 L110.76,362.76"/><path d="M51.68,347.39 L51.2,349.83 L48.78,353.67"/><path d="M92.01,402.48 L95.49,404.09 L99.01,406.14 L103.17,404.2 L105.27,401.78 L108.43,398.3"/><path d="M44.25,379.75 L46.59,378.25 L48.85,378.52 L51.96,374.82"/><path d="M111.02,348.05 L112.83,343.77 L111.84,339.6 L107.98,336.75 L104.93,337.67"/><path d="M127.9,373.46 L129.69,375.04 L129.72,377.32 L129.75,380.01"/><path d="M82.03,354.24 L85.67,351.24 L86.44,347.9 L88.59,346.59 L91.06,346.15 L95.42,345.52"/><path d="M119.72,406.13 L123.22,408.19 L126.54,409.51 L128.98,408.24"/><path d="M103.3,364.4 L101.7,367.3 L101.06,372.03"/></g>
<rect x="134.2" y="337.4" width="105.6" height="80.8" fill="#777" filter="url(#sem2)"/>
<g clip-path="url(#sc134)" fill="none" stroke="#E4E4E4" stroke-linecap="round" stroke-opacity="0.7" stroke-width="0.8"><path d="M204.22,352.36 L204.13,350.06 L202.91,348.43 L200.89,347.92 L199.04,346.55"/><path d="M155.12,341.91 L156.8,340.18 L158.86,339.91 L160.67,339.12 L162.49,337.7"/><path d="M216.55,339.14 L217.87,340.48 L217.61,342.94 L217.68,345.42"/><path d="M142.75,405.6 L141.93,402.91 L142.6,400.13 L142,397.63 L142.71,395.86 L142.32,392.99"/><path d="M157.4,363.75 L158.58,365.19 L160.13,366.7 L162.7,366.19 L163.75,364.4"/><path d="M212.1,360.21 L211.94,357.32 L210.73,354.58 L210.26,352.33 L211.11,350.9 L211.41,348.26"/><path d="M141.39,412.16 L139.44,413.54 L137.9,413.88 L137.07,415.36 L136.36,417.37 L134.89,419.25"/><path d="M136.07,347.21 L133.97,349.34 L134.39,351.44 L133.18,352.94"/><path d="M222.68,403.57 L222.75,401.92 L224.49,399.94 L225.27,398.5"/><path d="M162.6,379.93 L161.35,382.2 L162.33,384.39 L164.45,385.02"/><path d="M147.76,360.89 L146.17,359.9 L144.4,359.78 L142.73,360.43 L140.19,361.35"/><path d="M158.48,366.09 L155.87,365.53 L153.99,364.82 L152.74,363.14"/><path d="M217.99,338.25 L219.45,337.91 L220.88,338.7 L222.67,338.68 L224.09,337.45 L225.35,335.01"/><path d="M205.65,352.75 L202.96,353.35 L201.33,354.51 L201.25,356.98 L202.29,359.05"/><path d="M171.1,365.53 L172.94,366.96 L173.92,368.52 L176.38,369.64 L178.29,370.61"/><path d="M184.49,350.62 L182.06,351.95 L180.67,352.59 L178.7,353.03"/><path d="M147.75,341.1 L146.63,339.74 L144.11,338.24 L142.54,336.18 L140.35,334.97"/><path d="M170.44,353.45 L171.14,355.55 L172.18,357.62 L173.73,359.44"/><path d="M222.14,367.89 L222.03,369.91 L223.88,371.63 L223.84,373.68"/><path d="M167.3,356.54 L166.92,358.42 L165.5,359.35 L162.79,358.83 L160.31,359.43"/><path d="M216.91,406.66 L218.72,405.56 L220.44,404.75 L222.19,403.63 L224.19,403.84"/><path d="M228.84,355.86 L229.1,354.02 L229.34,352.48 L229.5,349.79 L231.35,348.35 L231.76,345.92"/><path d="M238.95,400.08 L236.76,401.74 L233.92,402.31"/><path d="M181.83,389.37 L182.34,387.96 L184.07,386.28 L184.35,383.84 L183.52,382.37 L184.07,379.72"/><path d="M182.53,404.81 L184.88,404.17 L187.22,404.42"/><path d="M223.8,413.21 L221.97,414.07 L219.58,413.23 L217.93,414.35"/><path d="M221.16,380.73 L220.08,382.29 L218.78,384.09 L219.32,386.59 L218.89,388.43 L217.94,390.44"/><path d="M193,399.64 L195.68,398.68 L198.04,399.69 L199.99,398.48 L200.82,396.8"/><path d="M175.74,369.81 L177.23,369.56 L179.43,369.41 L181.47,370.29 L183.92,370.39"/><path d="M168.81,348.8 L167.23,347.02 L166.93,344.84 L166.57,342.17 L165.91,340.29 L164.97,338.55"/><path d="M237.41,394.29 L238.26,396.19 L236.97,398.41 L235.14,398.64"/><path d="M142.72,342.21 L145.3,342.51 L147.18,341.8 L147.57,340.07 L148.38,337.75 L149.62,335.62"/><path d="M167.89,396.93 L168.97,398.69 L168.57,401.59 L166.6,402.55"/><path d="M182.21,379.31 L180.33,377.79 L179.6,375.68 L181.21,373.32 L182.02,371.85"/><path d="M185.93,368.18 L188.52,368.07 L190.4,366.17 L192.72,366.35 L194.33,368.75"/><path d="M238.85,337.43 L240.68,337.54 L241.94,338.4 L242.79,339.75"/><path d="M138.79,353.62 L140.9,355.18 L142.8,355.19 L144.76,354.6"/><path d="M230.77,364.68 L231.96,366.74 L234.74,367.09 L236.44,369.19 L238.52,370.9 L239.43,373.5"/><path d="M170.12,394.57 L168.07,393.72 L166.02,392.91 L163.63,393.17 L160.95,394.46"/><path d="M137.18,371.72 L140.06,371.47 L141.04,369.66 L141.48,367.7 L141.01,365.78"/><path d="M212.74,414.11 L213.84,411.6 L215.71,409.58 L217.32,409.74 L218.78,410.42 L220.44,409.71"/><path d="M170.53,407.05 L171.4,405.59 L171.48,403.25 L170.02,401.25"/><path d="M226.08,362.8 L224.39,363.33 L222.26,362.29 L221.71,360.86 L220.25,360.36 L219.66,358.23"/><path d="M140.51,360.64 L140.08,363.5 L141.33,364.9 L140.96,367.61 L142.45,369.41"/><path d="M134.31,385.21 L135.26,386.63 L136.3,389.41 L135.94,391.2 L135.83,393.46 L136.94,396.18"/><path d="M226.93,373.46 L227.21,376.02 L225.45,378.39 L223.75,379.03 L221.26,379.68"/><path d="M152.65,417.33 L153.86,418.42 L155.45,418.05 L156.21,416.62 L158.53,414.92 L161.25,414.81"/><path d="M216.49,351.47 L215.06,353.14 L213.73,354.62"/><path d="M142.25,351.47 L140.9,353.52 L139.65,354.46 L137.4,355.82 L136.35,357.75"/><path d="M162.7,382.13 L160.88,380.87 L158.28,381.27"/><path d="M155.51,351.24 L152.7,352.07 L150.76,353.91"/><path d="M156.26,379.22 L158.41,379.02 L160.82,379.32"/><path d="M212.78,415.92 L210.23,415.3 L208.24,414.97 L207.28,412.97"/><path d="M160.08,378.76 L159.74,375.92 L157.74,374.59 L157.25,372.35"/><path d="M189.48,371.27 L187.97,370.32 L185.23,369.5"/><path d="M139.72,385.91 L138.98,383.08 L138.99,380.85 L139.3,378.68 L138.28,376.89"/><path d="M159.81,391.38 L158.48,393.16 L156.92,394.73"/><path d="M202.63,374.52 L202.98,372.11 L204.35,370.28 L204.92,367.57"/><path d="M135.71,413.08 L135.95,411.39 L137.66,409.21 L139.44,407.74 L140.16,405.1"/><path d="M218.05,345.72 L220.23,346.32 L221.42,348.7 L220.67,351.2 L218.36,351.9 L215.77,352.94"/><path d="M197.2,357.14 L196.05,358.36 L195.92,360.22"/><path d="M164.24,382.87 L165.75,381.61 L167.24,379.61 L170.03,378.9 L171.76,379.23 L173.27,379.81"/><path d="M153.64,372.71 L151.91,370.46 L151.85,368.83 L150.29,367.59"/><path d="M185.76,356.15 L184.5,357.53 L183.93,359.24"/><path d="M193.35,396.51 L192.19,394.67 L192.06,392.97 L191.79,391.11 L190.98,389.2"/><path d="M142.16,379 L143.11,381.65 L143.8,384.06"/><path d="M233.04,373.09 L234.15,371.69 L233.75,369.43 L233.09,367.85 L231.4,366.65 L230.69,364.12"/><path d="M171.91,342.54 L170.59,341.32 L168.72,339.15 L168.8,337.45 L170.5,335.91 L170.96,333.91"/><path d="M160.24,361.3 L157.73,361.23 L155.35,363.06 L155.17,366.04 L154.82,367.56 L152.56,368.88"/><path d="M187.1,360.83 L188.81,361.13 L191.18,360.52"/></g>
<g clip-path="url(#sc245)"><rect x="245.1" y="337.4" width="109.2" height="80.8" fill="#3C3C3C"/><g filter="url(#pblur)"><g transform="translate(279.95,351.17) rotate(104)"><ellipse rx="4.32" ry="3.07" fill="#797979"/><ellipse rx="4.32" ry="3.07" fill="url(#part)"/></g><g transform="translate(310.98,341.98) rotate(129)"><ellipse rx="5.2" ry="2.7" fill="#727272"/><ellipse rx="5.2" ry="2.7" fill="url(#part)"/></g><g transform="translate(296.84,344.58) rotate(128)"><ellipse rx="5.1" ry="3.03" fill="#d2d2d2"/><ellipse rx="5.1" ry="3.03" fill="url(#part)"/></g><g transform="translate(353.81,339.47) rotate(147)"><ellipse rx="5.2" ry="2.95" fill="#3c3c3c"/><ellipse rx="5.2" ry="2.95" fill="url(#part)"/></g><g transform="translate(271.36,414.01) rotate(46)"><ellipse rx="3.86" ry="2.6" fill="#5a5a5a"/><ellipse rx="3.86" ry="2.6" fill="url(#part)"/></g><g transform="translate(286.14,383.56) rotate(90)"><ellipse rx="6.31" ry="2.53" fill="#a6a6a6"/><ellipse rx="6.31" ry="2.53" fill="url(#part)"/></g><g transform="translate(315.51,397.02) rotate(116)"><ellipse rx="3.58" ry="2.92" fill="#7d7d7d"/><ellipse rx="3.58" ry="2.92" fill="url(#part)"/></g><g transform="translate(333.58,345.92) rotate(78)"><ellipse rx="5.14" ry="2.88" fill="#7d7d7d"/><ellipse rx="5.14" ry="2.88" fill="url(#part)"/></g><g transform="translate(339.37,402.19) rotate(157)"><ellipse rx="5.84" ry="3.58" fill="#7b7b7b"/><ellipse rx="5.84" ry="3.58" fill="url(#part)"/></g><g transform="translate(308.65,348.64) rotate(146)"><ellipse rx="6.47" ry="3.47" fill="#6e6e6e"/><ellipse rx="6.47" ry="3.47" fill="url(#part)"/></g><g transform="translate(304.95,369.2) rotate(160)"><ellipse rx="4.51" ry="3.71" fill="#818181"/><ellipse rx="4.51" ry="3.71" fill="url(#part)"/></g><g transform="translate(317.73,359.26) rotate(79)"><ellipse rx="5.21" ry="3.26" fill="#838383"/><ellipse rx="5.21" ry="3.26" fill="url(#part)"/></g><g transform="translate(254.27,378.21) rotate(28)"><ellipse rx="6.47" ry="3.05" fill="#adadad"/><ellipse rx="6.47" ry="3.05" fill="url(#part)"/></g><g transform="translate(321.23,362.68) rotate(77)"><ellipse rx="5.13" ry="3.64" fill="#b4b4b4"/><ellipse rx="5.13" ry="3.64" fill="url(#part)"/></g><g transform="translate(266.66,406.7) rotate(34)"><ellipse rx="5.4" ry="3.09" fill="#626262"/><ellipse rx="5.4" ry="3.09" fill="url(#part)"/></g><g transform="translate(273.13,421.15) rotate(108)"><ellipse rx="5.05" ry="3.28" fill="#5c5c5c"/><ellipse rx="5.05" ry="3.28" fill="url(#part)"/></g><g transform="translate(260.71,337.85) rotate(81)"><ellipse rx="6.38" ry="2.88" fill="#828282"/><ellipse rx="6.38" ry="2.88" fill="url(#part)"/></g><g transform="translate(327.96,367.7) rotate(109)"><ellipse rx="4.92" ry="2.68" fill="#a1a1a1"/><ellipse rx="4.92" ry="2.68" fill="url(#part)"/></g><g transform="translate(277.65,402.83) rotate(106)"><ellipse rx="6.35" ry="2.4" fill="#6d6d6d"/><ellipse rx="6.35" ry="2.4" fill="url(#part)"/></g><g transform="translate(269.76,360.82) rotate(9)"><ellipse rx="3.71" ry="2.58" fill="#8d8d8d"/><ellipse rx="3.71" ry="2.58" fill="url(#part)"/></g><g transform="translate(279.73,414.73) rotate(33)"><ellipse rx="4.55" ry="3.58" fill="#686868"/><ellipse rx="4.55" ry="3.58" fill="url(#part)"/></g><g transform="translate(266.26,385.12) rotate(5)"><ellipse rx="5.87" ry="2.4" fill="#3c3c3c"/><ellipse rx="5.87" ry="2.4" fill="url(#part)"/></g><g transform="translate(291.75,356.86) rotate(140)"><ellipse rx="4.66" ry="3.15" fill="#7a7a7a"/><ellipse rx="4.66" ry="3.15" fill="url(#part)"/></g><g transform="translate(273.65,392.32) rotate(171)"><ellipse rx="6.42" ry="2.55" fill="#b3b3b3"/><ellipse rx="6.42" ry="2.55" fill="url(#part)"/></g><g transform="translate(242.3,341.52) rotate(165)"><ellipse rx="5.47" ry="3.25" fill="#707070"/><ellipse rx="5.47" ry="3.25" fill="url(#part)"/></g><g transform="translate(304.36,418.36) rotate(45)"><ellipse rx="6.19" ry="3.4" fill="#696969"/><ellipse rx="6.19" ry="3.4" fill="url(#part)"/></g><g transform="translate(292.97,384.83) rotate(81)"><ellipse rx="3.83" ry="2.96" fill="#535353"/><ellipse rx="3.83" ry="2.96" fill="url(#part)"/></g><g transform="translate(272.15,376.99) rotate(94)"><ellipse rx="6.62" ry="3.24" fill="#9c9c9c"/><ellipse rx="6.62" ry="3.24" fill="url(#part)"/></g><g transform="translate(326.33,395.03) rotate(104)"><ellipse rx="5.27" ry="2.92" fill="#959595"/><ellipse rx="5.27" ry="2.92" fill="url(#part)"/></g><g transform="translate(318.56,357.35) rotate(55)"><ellipse rx="5.17" ry="2.82" fill="#6b6b6b"/><ellipse rx="5.17" ry="2.82" fill="url(#part)"/></g><g transform="translate(265.5,349.52) rotate(172)"><ellipse rx="3.73" ry="2.47" fill="#707070"/><ellipse rx="3.73" ry="2.47" fill="url(#part)"/></g><g transform="translate(293.79,407.47) rotate(17)"><ellipse rx="3.82" ry="2.65" fill="#686868"/><ellipse rx="3.82" ry="2.65" fill="url(#part)"/></g><g transform="translate(295.28,374.39) rotate(105)"><ellipse rx="3.58" ry="3.19" fill="#696969"/><ellipse rx="3.58" ry="3.19" fill="url(#part)"/></g><g transform="translate(246.07,339.48) rotate(55)"><ellipse rx="5.07" ry="2.72" fill="#545454"/><ellipse rx="5.07" ry="2.72" fill="url(#part)"/></g><g transform="translate(321.1,395.38) rotate(22)"><ellipse rx="4.53" ry="3.55" fill="#878787"/><ellipse rx="4.53" ry="3.55" fill="url(#part)"/></g><g transform="translate(344.58,382.51) rotate(100)"><ellipse rx="5.63" ry="2.41" fill="#868686"/><ellipse rx="5.63" ry="2.41" fill="url(#part)"/></g><g transform="translate(341.3,378.48) rotate(53)"><ellipse rx="5.82" ry="2.88" fill="#919191"/><ellipse rx="5.82" ry="2.88" fill="url(#part)"/></g><g transform="translate(245.07,363.81) rotate(66)"><ellipse rx="3.79" ry="2.67" fill="#4c4c4c"/><ellipse rx="3.79" ry="2.67" fill="url(#part)"/></g><g transform="translate(275.95,413.63) rotate(58)"><ellipse rx="6.42" ry="3.28" fill="#4b4b4b"/><ellipse rx="6.42" ry="3.28" fill="url(#part)"/></g><g transform="translate(252.06,369.41) rotate(90)"><ellipse rx="3.72" ry="3.26" fill="#a3a3a3"/><ellipse rx="3.72" ry="3.26" fill="url(#part)"/></g><g transform="translate(306.41,343.49) rotate(169)"><ellipse rx="4.61" ry="2.66" fill="#6f6f6f"/><ellipse rx="4.61" ry="2.66" fill="url(#part)"/></g><g transform="translate(263.44,375.43) rotate(167)"><ellipse rx="4.49" ry="3.25" fill="#7c7c7c"/><ellipse rx="4.49" ry="3.25" fill="url(#part)"/></g><g transform="translate(292.39,385.37) rotate(105)"><ellipse rx="4.29" ry="3.6" fill="#9c9c9c"/><ellipse rx="4.29" ry="3.6" fill="url(#part)"/></g><g transform="translate(347.78,349.09) rotate(21)"><ellipse rx="6.45" ry="3.15" fill="#777777"/><ellipse rx="6.45" ry="3.15" fill="url(#part)"/></g><g transform="translate(310.83,361.24) rotate(1)"><ellipse rx="3.4" ry="2.49" fill="#474747"/><ellipse rx="3.4" ry="2.49" fill="url(#part)"/></g><g transform="translate(310.74,391.53) rotate(79)"><ellipse rx="3.82" ry="3.29" fill="#939393"/><ellipse rx="3.82" ry="3.29" fill="url(#part)"/></g><g transform="translate(256.47,373.66) rotate(142)"><ellipse rx="6.24" ry="3.34" fill="#919191"/><ellipse rx="6.24" ry="3.34" fill="url(#part)"/></g><g transform="translate(357.16,338.62) rotate(12)"><ellipse rx="3.99" ry="2.96" fill="#7a7a7a"/><ellipse rx="3.99" ry="2.96" fill="url(#part)"/></g><g transform="translate(267.29,412.48) rotate(135)"><ellipse rx="5.58" ry="3.33" fill="#848484"/><ellipse rx="5.58" ry="3.33" fill="url(#part)"/></g><g transform="translate(271.54,335.87) rotate(65)"><ellipse rx="4.54" ry="3.34" fill="#6f6f6f"/><ellipse rx="4.54" ry="3.34" fill="url(#part)"/></g><g transform="translate(311.82,421.01) rotate(98)"><ellipse rx="4.92" ry="3.22" fill="#6b6b6b"/><ellipse rx="4.92" ry="3.22" fill="url(#part)"/></g><g transform="translate(287.32,404.28) rotate(161)"><ellipse rx="5.93" ry="3.63" fill="#7d7d7d"/><ellipse rx="5.93" ry="3.63" fill="url(#part)"/></g><g transform="translate(340.04,368.4) rotate(59)"><ellipse rx="6.75" ry="2.89" fill="#858585"/><ellipse rx="6.75" ry="2.89" fill="url(#part)"/></g><g transform="translate(322.22,402.23) rotate(167)"><ellipse rx="3.59" ry="3.51" fill="#8d8d8d"/><ellipse rx="3.59" ry="3.51" fill="url(#part)"/></g><g transform="translate(305.75,344.37) rotate(107)"><ellipse rx="5.2" ry="2.84" fill="#828282"/><ellipse rx="5.2" ry="2.84" fill="url(#part)"/></g><g transform="translate(285.27,359.23) rotate(24)"><ellipse rx="6" ry="2.5" fill="#7a7a7a"/><ellipse rx="6" ry="2.5" fill="url(#part)"/></g><g transform="translate(317.77,395.73) rotate(36)"><ellipse rx="6.62" ry="3.36" fill="#707070"/><ellipse rx="6.62" ry="3.36" fill="url(#part)"/></g><g transform="translate(300.31,335.62) rotate(127)"><ellipse rx="5.3" ry="2.98" fill="#aaaaaa"/><ellipse rx="5.3" ry="2.98" fill="url(#part)"/></g><g transform="translate(245.18,382.88) rotate(71)"><ellipse rx="6.51" ry="3.15" fill="#808080"/><ellipse rx="6.51" ry="3.15" fill="url(#part)"/></g><g transform="translate(292.16,370.21) rotate(63)"><ellipse rx="5.35" ry="2.53" fill="#888888"/><ellipse rx="5.35" ry="2.53" fill="url(#part)"/></g><g transform="translate(338.7,343.86) rotate(43)"><ellipse rx="4.17" ry="3.57" fill="#595959"/><ellipse rx="4.17" ry="3.57" fill="url(#part)"/></g><g transform="translate(348.58,413.07) rotate(94)"><ellipse rx="4.83" ry="3.11" fill="#939393"/><ellipse rx="4.83" ry="3.11" fill="url(#part)"/></g><g transform="translate(277.49,395.38) rotate(6)"><ellipse rx="3.54" ry="3.32" fill="#6f6f6f"/><ellipse rx="3.54" ry="3.32" fill="url(#part)"/></g><g transform="translate(330.55,352.31) rotate(10)"><ellipse rx="4.79" ry="3.04" fill="#919191"/><ellipse rx="4.79" ry="3.04" fill="url(#part)"/></g><g transform="translate(316.85,350.32) rotate(167)"><ellipse rx="3.72" ry="3.75" fill="#636363"/><ellipse rx="3.72" ry="3.75" fill="url(#part)"/></g><g transform="translate(291.84,377.94) rotate(27)"><ellipse rx="6.09" ry="2.73" fill="#7c7c7c"/><ellipse rx="6.09" ry="2.73" fill="url(#part)"/></g><g transform="translate(346.45,409.95) rotate(88)"><ellipse rx="6.09" ry="3.36" fill="#868686"/><ellipse rx="6.09" ry="3.36" fill="url(#part)"/></g><g transform="translate(342.48,342.81) rotate(116)"><ellipse rx="4.22" ry="2.77" fill="#3d3d3d"/><ellipse rx="4.22" ry="2.77" fill="url(#part)"/></g><g transform="translate(244.59,405.68) rotate(44)"><ellipse rx="6.37" ry="2.73" fill="#878787"/><ellipse rx="6.37" ry="2.73" fill="url(#part)"/></g><g transform="translate(265.13,374.74) rotate(97)"><ellipse rx="3.78" ry="3.4" fill="#5b5b5b"/><ellipse rx="3.78" ry="3.4" fill="url(#part)"/></g><g transform="translate(292.82,414.71) rotate(67)"><ellipse rx="6.27" ry="2.69" fill="#6d6d6d"/><ellipse rx="6.27" ry="2.69" fill="url(#part)"/></g><g transform="translate(261.85,362.48) rotate(42)"><ellipse rx="5.93" ry="3.03" fill="#7d7d7d"/><ellipse rx="5.93" ry="3.03" fill="url(#part)"/></g><g transform="translate(321.06,408.83) rotate(50)"><ellipse rx="4.9" ry="2.94" fill="#6a6a6a"/><ellipse rx="4.9" ry="2.94" fill="url(#part)"/></g><g transform="translate(249.68,392.54) rotate(110)"><ellipse rx="3.88" ry="3.38" fill="#767676"/><ellipse rx="3.88" ry="3.38" fill="url(#part)"/></g><g transform="translate(329.42,364.27) rotate(14)"><ellipse rx="6.55" ry="2.48" fill="#636363"/><ellipse rx="6.55" ry="2.48" fill="url(#part)"/></g><g transform="translate(246.87,376.1) rotate(76)"><ellipse rx="6.43" ry="2.98" fill="#777777"/><ellipse rx="6.43" ry="2.98" fill="url(#part)"/></g><g transform="translate(335.3,409.37) rotate(119)"><ellipse rx="4.05" ry="3.38" fill="#777777"/><ellipse rx="4.05" ry="3.38" fill="url(#part)"/></g><g transform="translate(335.34,352.89) rotate(131)"><ellipse rx="4.91" ry="3.02" fill="#858585"/><ellipse rx="4.91" ry="3.02" fill="url(#part)"/></g><g transform="translate(308.31,397.79) rotate(3)"><ellipse rx="6.66" ry="3.31" fill="#979797"/><ellipse rx="6.66" ry="3.31" fill="url(#part)"/></g><g transform="translate(286.87,360.65) rotate(8)"><ellipse rx="6.3" ry="2.92" fill="#777777"/><ellipse rx="6.3" ry="2.92" fill="url(#part)"/></g><g transform="translate(291.56,352.61) rotate(144)"><ellipse rx="4.83" ry="2.42" fill="#9b9b9b"/><ellipse rx="4.83" ry="2.42" fill="url(#part)"/></g><g transform="translate(288.18,346.15) rotate(11)"><ellipse rx="4.08" ry="3.29" fill="#616161"/><ellipse rx="4.08" ry="3.29" fill="url(#part)"/></g><g transform="translate(292.24,412.01) rotate(97)"><ellipse rx="6.75" ry="3.57" fill="#666666"/><ellipse rx="6.75" ry="3.57" fill="url(#part)"/></g><g transform="translate(325.2,347.29) rotate(58)"><ellipse rx="6.53" ry="3.45" fill="#959595"/><ellipse rx="6.53" ry="3.45" fill="url(#part)"/></g><g transform="translate(341.05,355.17) rotate(63)"><ellipse rx="3.78" ry="2.84" fill="#aeaeae"/><ellipse rx="3.78" ry="2.84" fill="url(#part)"/></g><g transform="translate(345.12,421.12) rotate(82)"><ellipse rx="4.31" ry="3.27" fill="#919191"/><ellipse rx="4.31" ry="3.27" fill="url(#part)"/></g><g transform="translate(293.71,387.42) rotate(98)"><ellipse rx="6.02" ry="2.7" fill="#9a9a9a"/><ellipse rx="6.02" ry="2.7" fill="url(#part)"/></g><g transform="translate(351.51,338.7) rotate(45)"><ellipse rx="4.58" ry="2.63" fill="#585858"/><ellipse rx="4.58" ry="2.63" fill="url(#part)"/></g><g transform="translate(297.51,379.26) rotate(116)"><ellipse rx="5.4" ry="3.74" fill="#707070"/><ellipse rx="5.4" ry="3.74" fill="url(#part)"/></g><g transform="translate(343.61,361.74) rotate(128)"><ellipse rx="5.29" ry="2.64" fill="#777777"/><ellipse rx="5.29" ry="2.64" fill="url(#part)"/></g><g transform="translate(267.14,394.18) rotate(47)"><ellipse rx="6.06" ry="3.23" fill="#9c9c9c"/><ellipse rx="6.06" ry="3.23" fill="url(#part)"/></g><g transform="translate(245.68,404.28) rotate(95)"><ellipse rx="6.06" ry="3.52" fill="#3c3c3c"/><ellipse rx="6.06" ry="3.52" fill="url(#part)"/></g><g transform="translate(259.03,365.72) rotate(17)"><ellipse rx="5.74" ry="3.34" fill="#888888"/><ellipse rx="5.74" ry="3.34" fill="url(#part)"/></g><g transform="translate(332.39,336.59) rotate(9)"><ellipse rx="3.69" ry="2.53" fill="#7c7c7c"/><ellipse rx="3.69" ry="2.53" fill="url(#part)"/></g><g transform="translate(254.03,404.18) rotate(40)"><ellipse rx="6.74" ry="3.54" fill="#707070"/><ellipse rx="6.74" ry="3.54" fill="url(#part)"/></g><g transform="translate(344.51,360.06) rotate(127)"><ellipse rx="4.17" ry="2.65" fill="#888888"/><ellipse rx="4.17" ry="2.65" fill="url(#part)"/></g><g transform="translate(315.31,418.34) rotate(119)"><ellipse rx="6.31" ry="3.06" fill="#b0b0b0"/><ellipse rx="6.31" ry="3.06" fill="url(#part)"/></g><g transform="translate(255.99,405.49) rotate(136)"><ellipse rx="5.3" ry="3.65" fill="#838383"/><ellipse rx="5.3" ry="3.65" fill="url(#part)"/></g><g transform="translate(281.88,371.9) rotate(1)"><ellipse rx="5.83" ry="2.66" fill="#868686"/><ellipse rx="5.83" ry="2.66" fill="url(#part)"/></g><g transform="translate(337.18,349.89) rotate(66)"><ellipse rx="5.18" ry="3.33" fill="#767676"/><ellipse rx="5.18" ry="3.33" fill="url(#part)"/></g><g transform="translate(276.65,384.69) rotate(40)"><ellipse rx="5.66" ry="2.41" fill="#626262"/><ellipse rx="5.66" ry="2.41" fill="url(#part)"/></g><g transform="translate(319.93,354.79) rotate(18)"><ellipse rx="6.57" ry="3.24" fill="#595959"/><ellipse rx="6.57" ry="3.24" fill="url(#part)"/></g><g transform="translate(264.57,409.36) rotate(60)"><ellipse rx="5.02" ry="3.11" fill="#626262"/><ellipse rx="5.02" ry="3.11" fill="url(#part)"/></g><g transform="translate(356.09,381.85) rotate(38)"><ellipse rx="5.7" ry="2.76" fill="#7a7a7a"/><ellipse rx="5.7" ry="2.76" fill="url(#part)"/></g><g transform="translate(342.94,356.44) rotate(88)"><ellipse rx="5.47" ry="3" fill="#3c3c3c"/><ellipse rx="5.47" ry="3" fill="url(#part)"/></g><g transform="translate(243.09,345.37) rotate(123)"><ellipse rx="4.18" ry="3.18" fill="#a7a7a7"/><ellipse rx="4.18" ry="3.18" fill="url(#part)"/></g><g transform="translate(300.88,356.5) rotate(172)"><ellipse rx="6.43" ry="3.64" fill="#afafaf"/><ellipse rx="6.43" ry="3.64" fill="url(#part)"/></g><g transform="translate(324.16,416.76) rotate(149)"><ellipse rx="4.06" ry="2.6" fill="#5f5f5f"/><ellipse rx="4.06" ry="2.6" fill="url(#part)"/></g><g transform="translate(351.32,380.93) rotate(124)"><ellipse rx="5.26" ry="3.27" fill="#6b6b6b"/><ellipse rx="5.26" ry="3.27" fill="url(#part)"/></g><g transform="translate(262.04,372.92) rotate(108)"><ellipse rx="3.76" ry="2.49" fill="#7e7e7e"/><ellipse rx="3.76" ry="2.49" fill="url(#part)"/></g><g transform="translate(351.01,369.65) rotate(79)"><ellipse rx="6.1" ry="3.17" fill="#3c3c3c"/><ellipse rx="6.1" ry="3.17" fill="url(#part)"/></g><g transform="translate(255.79,383.47) rotate(136)"><ellipse rx="4.32" ry="3.23" fill="#4a4a4a"/><ellipse rx="4.32" ry="3.23" fill="url(#part)"/></g><g transform="translate(279.73,356.44) rotate(117)"><ellipse rx="4.58" ry="2.43" fill="#7e7e7e"/><ellipse rx="4.58" ry="2.43" fill="url(#part)"/></g><g transform="translate(270.46,384.57) rotate(62)"><ellipse rx="6.41" ry="3.63" fill="#8a8a8a"/><ellipse rx="6.41" ry="3.63" fill="url(#part)"/></g><g transform="translate(278.93,417.5) rotate(22)"><ellipse rx="6.42" ry="2.66" fill="#4c4c4c"/><ellipse rx="6.42" ry="2.66" fill="url(#part)"/></g><g transform="translate(288.85,359.3) rotate(11)"><ellipse rx="3.41" ry="2.86" fill="#969696"/><ellipse rx="3.41" ry="2.86" fill="url(#part)"/></g><g transform="translate(278.33,336.02) rotate(66)"><ellipse rx="4" ry="3.09" fill="#969696"/><ellipse rx="4" ry="3.09" fill="url(#part)"/></g><g transform="translate(263.16,350.2) rotate(33)"><ellipse rx="4.71" ry="3.54" fill="#656565"/><ellipse rx="4.71" ry="3.54" fill="url(#part)"/></g><g transform="translate(349.67,377.33) rotate(47)"><ellipse rx="3.9" ry="3.13" fill="#919191"/><ellipse rx="3.9" ry="3.13" fill="url(#part)"/></g><g transform="translate(342.19,380.58) rotate(78)"><ellipse rx="6.2" ry="3.75" fill="#747474"/><ellipse rx="6.2" ry="3.75" fill="url(#part)"/></g><g transform="translate(350.44,351.77) rotate(102)"><ellipse rx="3.9" ry="3.45" fill="#959595"/><ellipse rx="3.9" ry="3.45" fill="url(#part)"/></g><g transform="translate(269.07,360.27) rotate(130)"><ellipse rx="6.64" ry="3.76" fill="#919191"/><ellipse rx="6.64" ry="3.76" fill="url(#part)"/></g><g transform="translate(261.87,354.63) rotate(84)"><ellipse rx="5.95" ry="3.14" fill="#5c5c5c"/><ellipse rx="5.95" ry="3.14" fill="url(#part)"/></g><g transform="translate(270.75,369.32) rotate(121)"><ellipse rx="3.76" ry="3.68" fill="#bababa"/><ellipse rx="3.76" ry="3.68" fill="url(#part)"/></g><g transform="translate(260.6,402.73) rotate(124)"><ellipse rx="6.63" ry="3.04" fill="#464646"/><ellipse rx="6.63" ry="3.04" fill="url(#part)"/></g><g transform="translate(347.65,337.5) rotate(25)"><ellipse rx="4.11" ry="2.53" fill="#6a6a6a"/><ellipse rx="4.11" ry="2.53" fill="url(#part)"/></g><g transform="translate(255.5,386) rotate(54)"><ellipse rx="3.84" ry="3.72" fill="#727272"/><ellipse rx="3.84" ry="3.72" fill="url(#part)"/></g><g transform="translate(306.36,362.88) rotate(117)"><ellipse rx="6.69" ry="3.31" fill="#737373"/><ellipse rx="6.69" ry="3.31" fill="url(#part)"/></g><g transform="translate(259.26,349.99) rotate(137)"><ellipse rx="6.09" ry="3.19" fill="#9f9f9f"/><ellipse rx="6.09" ry="3.19" fill="url(#part)"/></g><g transform="translate(314.75,402.8) rotate(53)"><ellipse rx="5.72" ry="2.73" fill="#919191"/><ellipse rx="5.72" ry="2.73" fill="url(#part)"/></g><g transform="translate(302.46,414.98) rotate(170)"><ellipse rx="5.28" ry="2.74" fill="#a6a6a6"/><ellipse rx="5.28" ry="2.74" fill="url(#part)"/></g><g transform="translate(329.91,336.92) rotate(150)"><ellipse rx="4.25" ry="3.56" fill="#878787"/><ellipse rx="4.25" ry="3.56" fill="url(#part)"/></g><g transform="translate(337.46,373.69) rotate(80)"><ellipse rx="4.09" ry="3.62" fill="#848484"/><ellipse rx="4.09" ry="3.62" fill="url(#part)"/></g><g transform="translate(254.23,373.03) rotate(49)"><ellipse rx="6.24" ry="3.16" fill="#787878"/><ellipse rx="6.24" ry="3.16" fill="url(#part)"/></g><g transform="translate(298.28,360.98) rotate(46)"><ellipse rx="6.62" ry="2.95" fill="#616161"/><ellipse rx="6.62" ry="2.95" fill="url(#part)"/></g><g transform="translate(341.04,339.66) rotate(73)"><ellipse rx="6.46" ry="2.8" fill="#646464"/><ellipse rx="6.46" ry="2.8" fill="url(#part)"/></g><g transform="translate(338.83,342.18) rotate(98)"><ellipse rx="4.99" ry="3.21" fill="#999999"/><ellipse rx="4.99" ry="3.21" fill="url(#part)"/></g><g transform="translate(304.72,394.51) rotate(125)"><ellipse rx="3.64" ry="3.76" fill="#9d9d9d"/><ellipse rx="3.64" ry="3.76" fill="url(#part)"/></g><g transform="translate(303.35,383.35) rotate(86)"><ellipse rx="4.52" ry="2.9" fill="#7a7a7a"/><ellipse rx="4.52" ry="2.9" fill="url(#part)"/></g><g transform="translate(243.24,405.74) rotate(109)"><ellipse rx="6.19" ry="2.51" fill="#696969"/><ellipse rx="6.19" ry="2.51" fill="url(#part)"/></g><g transform="translate(285.6,366.88) rotate(52)"><ellipse rx="5.8" ry="3.15" fill="#a6a6a6"/><ellipse rx="5.8" ry="3.15" fill="url(#part)"/></g><g transform="translate(265.31,392.34) rotate(33)"><ellipse rx="3.54" ry="2.96" fill="#797979"/><ellipse rx="3.54" ry="2.96" fill="url(#part)"/></g><g transform="translate(250.37,389.29) rotate(136)"><ellipse rx="6.24" ry="2.65" fill="#565656"/><ellipse rx="6.24" ry="2.65" fill="url(#part)"/></g><g transform="translate(251.22,368.93) rotate(42)"><ellipse rx="5.79" ry="2.54" fill="#909090"/><ellipse rx="5.79" ry="2.54" fill="url(#part)"/></g><g transform="translate(325.51,404.93) rotate(69)"><ellipse rx="5.77" ry="3.38" fill="#868686"/><ellipse rx="5.77" ry="3.38" fill="url(#part)"/></g><g transform="translate(282.96,351.73) rotate(65)"><ellipse rx="5.14" ry="2.89" fill="#606060"/><ellipse rx="5.14" ry="2.89" fill="url(#part)"/></g><g transform="translate(324.85,410.36) rotate(177)"><ellipse rx="4.41" ry="2.64" fill="#909090"/><ellipse rx="4.41" ry="2.64" fill="url(#part)"/></g><g transform="translate(257.91,372.18) rotate(135)"><ellipse rx="6.78" ry="3.33" fill="#9d9d9d"/><ellipse rx="6.78" ry="3.33" fill="url(#part)"/></g><g transform="translate(325.8,396.75) rotate(145)"><ellipse rx="5.59" ry="3.63" fill="#949494"/><ellipse rx="5.59" ry="3.63" fill="url(#part)"/></g><g transform="translate(267.85,356.36) rotate(83)"><ellipse rx="3.57" ry="2.56" fill="#808080"/><ellipse rx="3.57" ry="2.56" fill="url(#part)"/></g><g transform="translate(355.93,372.22) rotate(102)"><ellipse rx="3.53" ry="3.6" fill="#5b5b5b"/><ellipse rx="3.53" ry="3.6" fill="url(#part)"/></g><g transform="translate(242.77,340.03) rotate(2)"><ellipse rx="4.65" ry="3.7" fill="#6e6e6e"/><ellipse rx="4.65" ry="3.7" fill="url(#part)"/></g><g transform="translate(288.31,337.87) rotate(42)"><ellipse rx="5.73" ry="2.64" fill="#7c7c7c"/><ellipse rx="5.73" ry="2.64" fill="url(#part)"/></g><g transform="translate(284.12,389.77) rotate(164)"><ellipse rx="3.86" ry="3.75" fill="#7b7b7b"/><ellipse rx="3.86" ry="3.75" fill="url(#part)"/></g><g transform="translate(345.8,370.5) rotate(36)"><ellipse rx="4.47" ry="3.34" fill="#8b8b8b"/><ellipse rx="4.47" ry="3.34" fill="url(#part)"/></g><g transform="translate(262.62,375.62) rotate(10)"><ellipse rx="5.77" ry="3.33" fill="#3c3c3c"/><ellipse rx="5.77" ry="3.33" fill="url(#part)"/></g><g transform="translate(246.79,360.24) rotate(103)"><ellipse rx="3.99" ry="3.75" fill="#919191"/><ellipse rx="3.99" ry="3.75" fill="url(#part)"/></g><g transform="translate(287.62,408.81) rotate(38)"><ellipse rx="5.56" ry="3.18" fill="#777777"/><ellipse rx="5.56" ry="3.18" fill="url(#part)"/></g><g transform="translate(256.19,420.48) rotate(121)"><ellipse rx="4.2" ry="3.37" fill="#515151"/><ellipse rx="4.2" ry="3.37" fill="url(#part)"/></g><g transform="translate(344.52,340.91) rotate(49)"><ellipse rx="5.94" ry="3.25" fill="#8a8a8a"/><ellipse rx="5.94" ry="3.25" fill="url(#part)"/></g><g transform="translate(294.1,400.79) rotate(51)"><ellipse rx="6.72" ry="3.7" fill="#787878"/><ellipse rx="6.72" ry="3.7" fill="url(#part)"/></g><g transform="translate(315.27,379.77) rotate(27)"><ellipse rx="6.01" ry="3.48" fill="#7f7f7f"/><ellipse rx="6.01" ry="3.48" fill="url(#part)"/></g><g transform="translate(294.28,372.7) rotate(33)"><ellipse rx="4.43" ry="3.22" fill="#7a7a7a"/><ellipse rx="4.43" ry="3.22" fill="url(#part)"/></g><g transform="translate(354.8,391.45) rotate(75)"><ellipse rx="5.83" ry="3.47" fill="#707070"/><ellipse rx="5.83" ry="3.47" fill="url(#part)"/></g><g transform="translate(300.24,394.1) rotate(81)"><ellipse rx="6.48" ry="3.63" fill="#666666"/><ellipse rx="6.48" ry="3.63" fill="url(#part)"/></g><g transform="translate(330.36,372.68) rotate(119)"><ellipse rx="4.73" ry="2.7" fill="#7b7b7b"/><ellipse rx="4.73" ry="2.7" fill="url(#part)"/></g><g transform="translate(295.82,345.54) rotate(106)"><ellipse rx="4.23" ry="2.91" fill="#9a9a9a"/><ellipse rx="4.23" ry="2.91" fill="url(#part)"/></g><g transform="translate(304.1,334.48) rotate(48)"><ellipse rx="3.6" ry="3.76" fill="#787878"/><ellipse rx="3.6" ry="3.76" fill="url(#part)"/></g><g transform="translate(305.21,419.75) rotate(168)"><ellipse rx="5.56" ry="2.64" fill="#3c3c3c"/><ellipse rx="5.56" ry="2.64" fill="url(#part)"/></g><g transform="translate(349.08,381) rotate(18)"><ellipse rx="6.33" ry="3.4" fill="#787878"/><ellipse rx="6.33" ry="3.4" fill="url(#part)"/></g><g transform="translate(251.67,360.28) rotate(160)"><ellipse rx="6.26" ry="2.53" fill="#686868"/><ellipse rx="6.26" ry="2.53" fill="url(#part)"/></g><g transform="translate(325.29,364.35) rotate(81)"><ellipse rx="6.04" ry="3.13" fill="#a3a3a3"/><ellipse rx="6.04" ry="3.13" fill="url(#part)"/></g><g transform="translate(339.44,397.52) rotate(12)"><ellipse rx="6.23" ry="2.81" fill="#545454"/><ellipse rx="6.23" ry="2.81" fill="url(#part)"/></g><g transform="translate(302.77,345.41) rotate(167)"><ellipse rx="6.38" ry="3.53" fill="#949494"/><ellipse rx="6.38" ry="3.53" fill="url(#part)"/></g><g transform="translate(307.72,339.95) rotate(69)"><ellipse rx="3.51" ry="3.16" fill="#828282"/><ellipse rx="3.51" ry="3.16" fill="url(#part)"/></g><g transform="translate(312.17,372.23) rotate(56)"><ellipse rx="6.6" ry="3.31" fill="#737373"/><ellipse rx="6.6" ry="3.31" fill="url(#part)"/></g><g transform="translate(356.6,391) rotate(157)"><ellipse rx="6.6" ry="3.79" fill="#989898"/><ellipse rx="6.6" ry="3.79" fill="url(#part)"/></g><g transform="translate(325.8,354.99) rotate(178)"><ellipse rx="3.67" ry="3.66" fill="#7d7d7d"/><ellipse rx="3.67" ry="3.66" fill="url(#part)"/></g><g transform="translate(259.58,336.18) rotate(142)"><ellipse rx="6.24" ry="3.1" fill="#a1a1a1"/><ellipse rx="6.24" ry="3.1" fill="url(#part)"/></g><g transform="translate(272.76,414.6) rotate(31)"><ellipse rx="6.13" ry="3.17" fill="#494949"/><ellipse rx="6.13" ry="3.17" fill="url(#part)"/></g><g transform="translate(338.59,403.61) rotate(92)"><ellipse rx="6.64" ry="3.36" fill="#696969"/><ellipse rx="6.64" ry="3.36" fill="url(#part)"/></g><g transform="translate(292.74,412.6) rotate(132)"><ellipse rx="4.52" ry="3.14" fill="#9d9d9d"/><ellipse rx="4.52" ry="3.14" fill="url(#part)"/></g><g transform="translate(350.01,374.07) rotate(96)"><ellipse rx="3.78" ry="3.78" fill="#9b9b9b"/><ellipse rx="3.78" ry="3.78" fill="url(#part)"/></g><g transform="translate(323.76,393.91) rotate(103)"><ellipse rx="4.77" ry="2.46" fill="#838383"/><ellipse rx="4.77" ry="2.46" fill="url(#part)"/></g><g transform="translate(256.17,356.38) rotate(158)"><ellipse rx="6.39" ry="3.6" fill="#575757"/><ellipse rx="6.39" ry="3.6" fill="url(#part)"/></g><g transform="translate(286.55,380.73) rotate(45)"><ellipse rx="5.55" ry="2.83" fill="#a8a8a8"/><ellipse rx="5.55" ry="2.83" fill="url(#part)"/></g><g transform="translate(334.41,402.52) rotate(178)"><ellipse rx="4.48" ry="2.8" fill="#454545"/><ellipse rx="4.48" ry="2.8" fill="url(#part)"/></g><g transform="translate(285.45,363.31) rotate(139)"><ellipse rx="3.98" ry="3.72" fill="#8c8c8c"/><ellipse rx="3.98" ry="3.72" fill="url(#part)"/></g><g transform="translate(286.45,385.54) rotate(74)"><ellipse rx="3.54" ry="2.94" fill="#5f5f5f"/><ellipse rx="3.54" ry="2.94" fill="url(#part)"/></g><g transform="translate(326.85,385) rotate(22)"><ellipse rx="4.33" ry="3.33" fill="#b2b2b2"/><ellipse rx="4.33" ry="3.33" fill="url(#part)"/></g><g transform="translate(255.65,355.98) rotate(74)"><ellipse rx="6.05" ry="3.22" fill="#7c7c7c"/><ellipse rx="6.05" ry="3.22" fill="url(#part)"/></g><g transform="translate(295.1,366.81) rotate(43)"><ellipse rx="5.12" ry="3.09" fill="#5a5a5a"/><ellipse rx="5.12" ry="3.09" fill="url(#part)"/></g><g transform="translate(323.11,413.63) rotate(150)"><ellipse rx="3.4" ry="3.78" fill="#989898"/><ellipse rx="3.4" ry="3.78" fill="url(#part)"/></g><g transform="translate(262.67,378.48) rotate(151)"><ellipse rx="6.52" ry="2.68" fill="#747474"/><ellipse rx="6.52" ry="2.68" fill="url(#part)"/></g><g transform="translate(330.67,384.03) rotate(104)"><ellipse rx="5.66" ry="3.75" fill="#a6a6a6"/><ellipse rx="5.66" ry="3.75" fill="url(#part)"/></g><g transform="translate(319.27,383.68) rotate(125)"><ellipse rx="6.52" ry="2.68" fill="#494949"/><ellipse rx="6.52" ry="2.68" fill="url(#part)"/></g><g transform="translate(292.54,401.97) rotate(76)"><ellipse rx="4.1" ry="2.74" fill="#bababa"/><ellipse rx="4.1" ry="2.74" fill="url(#part)"/></g><g transform="translate(250.61,393.65) rotate(176)"><ellipse rx="5.54" ry="3" fill="#a4a4a4"/><ellipse rx="5.54" ry="3" fill="url(#part)"/></g><g transform="translate(350.62,386.36) rotate(48)"><ellipse rx="4.68" ry="2.78" fill="#8f8f8f"/><ellipse rx="4.68" ry="2.78" fill="url(#part)"/></g><g transform="translate(324.44,363.82) rotate(34)"><ellipse rx="5.85" ry="3.17" fill="#434343"/><ellipse rx="5.85" ry="3.17" fill="url(#part)"/></g><g transform="translate(274.47,402.57) rotate(111)"><ellipse rx="4.79" ry="3.45" fill="#9c9c9c"/><ellipse rx="4.79" ry="3.45" fill="url(#part)"/></g><g transform="translate(305.18,387.53) rotate(171)"><ellipse rx="5.92" ry="2.68" fill="#686868"/><ellipse rx="5.92" ry="2.68" fill="url(#part)"/></g><g transform="translate(310.98,379.55) rotate(120)"><ellipse rx="4.21" ry="2.8" fill="#9b9b9b"/><ellipse rx="4.21" ry="2.8" fill="url(#part)"/></g><g transform="translate(292.81,420.89) rotate(69)"><ellipse rx="4.65" ry="3.78" fill="#7d7d7d"/><ellipse rx="4.65" ry="3.78" fill="url(#part)"/></g><g transform="translate(262.21,385.06) rotate(120)"><ellipse rx="4.22" ry="2.87" fill="#6b6b6b"/><ellipse rx="4.22" ry="2.87" fill="url(#part)"/></g><g transform="translate(275.44,349.32) rotate(172)"><ellipse rx="3.93" ry="2.55" fill="#535353"/><ellipse rx="3.93" ry="2.55" fill="url(#part)"/></g><g transform="translate(281.49,368.47) rotate(22)"><ellipse rx="3.91" ry="3.6" fill="#6d6d6d"/><ellipse rx="3.91" ry="3.6" fill="url(#part)"/></g><g transform="translate(330.4,417.83) rotate(52)"><ellipse rx="5.56" ry="2.59" fill="#6f6f6f"/><ellipse rx="5.56" ry="2.59" fill="url(#part)"/></g><g transform="translate(350.62,358.06) rotate(46)"><ellipse rx="3.72" ry="3.3" fill="#a3a3a3"/><ellipse rx="3.72" ry="3.3" fill="url(#part)"/></g><g transform="translate(350.72,373.27) rotate(51)"><ellipse rx="6.66" ry="2.82" fill="#696969"/><ellipse rx="6.66" ry="2.82" fill="url(#part)"/></g><g transform="translate(300.86,414.69) rotate(164)"><ellipse rx="6.46" ry="2.79" fill="#8a8a8a"/><ellipse rx="6.46" ry="2.79" fill="url(#part)"/></g><g transform="translate(303.63,335.92) rotate(139)"><ellipse rx="6.2" ry="3.48" fill="#8f8f8f"/><ellipse rx="6.2" ry="3.48" fill="url(#part)"/></g><g transform="translate(332.86,402.91) rotate(149)"><ellipse rx="5.33" ry="3.75" fill="#737373"/><ellipse rx="5.33" ry="3.75" fill="url(#part)"/></g><g transform="translate(251.99,409.32) rotate(112)"><ellipse rx="3.82" ry="2.59" fill="#949494"/><ellipse rx="3.82" ry="2.59" fill="url(#part)"/></g><g transform="translate(315.99,378.39) rotate(30)"><ellipse rx="4.56" ry="2.64" fill="#595959"/><ellipse rx="4.56" ry="2.64" fill="url(#part)"/></g><g transform="translate(291.14,343.59) rotate(106)"><ellipse rx="5.18" ry="3.23" fill="#626262"/><ellipse rx="5.18" ry="3.23" fill="url(#part)"/></g><g transform="translate(344.3,384.79) rotate(129)"><ellipse rx="4.68" ry="3.2" fill="#4e4e4e"/><ellipse rx="4.68" ry="3.2" fill="url(#part)"/></g><g transform="translate(325.13,401.88) rotate(66)"><ellipse rx="3.62" ry="3.3" fill="#9d9d9d"/><ellipse rx="3.62" ry="3.3" fill="url(#part)"/></g><g transform="translate(310.03,338.34) rotate(106)"><ellipse rx="4.82" ry="3.12" fill="#777777"/><ellipse rx="4.82" ry="3.12" fill="url(#part)"/></g><g transform="translate(245.73,398.28) rotate(79)"><ellipse rx="6.21" ry="3.54" fill="#808080"/><ellipse rx="6.21" ry="3.54" fill="url(#part)"/></g><g transform="translate(283.15,409.16) rotate(114)"><ellipse rx="4.8" ry="3.33" fill="#adadad"/><ellipse rx="4.8" ry="3.33" fill="url(#part)"/></g><g transform="translate(338.08,380.15) rotate(27)"><ellipse rx="4.65" ry="2.98" fill="#555555"/><ellipse rx="4.65" ry="2.98" fill="url(#part)"/></g><g transform="translate(337.97,344.15) rotate(169)"><ellipse rx="5.46" ry="2.45" fill="#616161"/><ellipse rx="5.46" ry="2.45" fill="url(#part)"/></g><g transform="translate(323.53,366.72) rotate(44)"><ellipse rx="3.56" ry="2.72" fill="#818181"/><ellipse rx="3.56" ry="2.72" fill="url(#part)"/></g><g transform="translate(245.74,418.55) rotate(157)"><ellipse rx="6.12" ry="3.65" fill="#5b5b5b"/><ellipse rx="6.12" ry="3.65" fill="url(#part)"/></g><g transform="translate(266.81,406.49) rotate(85)"><ellipse rx="4.8" ry="2.77" fill="#858585"/><ellipse rx="4.8" ry="2.77" fill="url(#part)"/></g><g transform="translate(334.39,353.41) rotate(94)"><ellipse rx="6.72" ry="2.97" fill="#7d7d7d"/><ellipse rx="6.72" ry="2.97" fill="url(#part)"/></g><g transform="translate(317.74,371.94) rotate(37)"><ellipse rx="4.58" ry="2.76" fill="#6d6d6d"/><ellipse rx="4.58" ry="2.76" fill="url(#part)"/></g><g transform="translate(317.56,397.38) rotate(74)"><ellipse rx="4.18" ry="3.39" fill="#989898"/><ellipse rx="4.18" ry="3.39" fill="url(#part)"/></g><g transform="translate(246.42,351.78) rotate(136)"><ellipse rx="4.17" ry="2.93" fill="#7f7f7f"/><ellipse rx="4.17" ry="2.93" fill="url(#part)"/></g><g transform="translate(291.61,405.22) rotate(146)"><ellipse rx="6.46" ry="3.63" fill="#5b5b5b"/><ellipse rx="6.46" ry="3.63" fill="url(#part)"/></g><g transform="translate(333.71,338.55) rotate(5)"><ellipse rx="5.93" ry="3.61" fill="#7c7c7c"/><ellipse rx="5.93" ry="3.61" fill="url(#part)"/></g><g transform="translate(257.64,419.56) rotate(59)"><ellipse rx="5.34" ry="3.5" fill="#818181"/><ellipse rx="5.34" ry="3.5" fill="url(#part)"/></g><g transform="translate(286.68,353.02) rotate(152)"><ellipse rx="6.55" ry="3.2" fill="#737373"/><ellipse rx="6.55" ry="3.2" fill="url(#part)"/></g><g transform="translate(248.87,360.33) rotate(25)"><ellipse rx="4.23" ry="2.54" fill="#6a6a6a"/><ellipse rx="4.23" ry="2.54" fill="url(#part)"/></g><g transform="translate(299.86,357.71) rotate(92)"><ellipse rx="3.69" ry="3.34" fill="#8a8a8a"/><ellipse rx="3.69" ry="3.34" fill="url(#part)"/></g><g transform="translate(356.27,344.43) rotate(125)"><ellipse rx="5.95" ry="2.43" fill="#6a6a6a"/><ellipse rx="5.95" ry="2.43" fill="url(#part)"/></g><g transform="translate(256.47,340.91) rotate(14)"><ellipse rx="5.17" ry="3.3" fill="#868686"/><ellipse rx="5.17" ry="3.3" fill="url(#part)"/></g><g transform="translate(307.87,358.29) rotate(106)"><ellipse rx="6.24" ry="2.77" fill="#535353"/><ellipse rx="6.24" ry="2.77" fill="url(#part)"/></g><g transform="translate(306.87,406.19) rotate(9)"><ellipse rx="3.43" ry="2.85" fill="#737373"/><ellipse rx="3.43" ry="2.85" fill="url(#part)"/></g><g transform="translate(246.7,375.63) rotate(140)"><ellipse rx="5.56" ry="2.88" fill="#7d7d7d"/><ellipse rx="5.56" ry="2.88" fill="url(#part)"/></g><g transform="translate(314.01,383.8) rotate(90)"><ellipse rx="5.21" ry="2.79" fill="#6b6b6b"/><ellipse rx="5.21" ry="2.79" fill="url(#part)"/></g><g transform="translate(249.32,373.05) rotate(29)"><ellipse rx="5.47" ry="2.66" fill="#626262"/><ellipse rx="5.47" ry="2.66" fill="url(#part)"/></g><g transform="translate(304.88,365.77) rotate(43)"><ellipse rx="5.31" ry="2.61" fill="#525252"/><ellipse rx="5.31" ry="2.61" fill="url(#part)"/></g><g transform="translate(254.26,371.91) rotate(121)"><ellipse rx="4.81" ry="3.21" fill="#727272"/><ellipse rx="4.81" ry="3.21" fill="url(#part)"/></g><g transform="translate(323.88,396.89) rotate(74)"><ellipse rx="6.65" ry="3.76" fill="#818181"/><ellipse rx="6.65" ry="3.76" fill="url(#part)"/></g><g transform="translate(298.86,413.44) rotate(89)"><ellipse rx="4.08" ry="2.6" fill="#666666"/><ellipse rx="4.08" ry="2.6" fill="url(#part)"/></g><g transform="translate(263.92,357.77) rotate(13)"><ellipse rx="6.45" ry="3.59" fill="#6c6c6c"/><ellipse rx="6.45" ry="3.59" fill="url(#part)"/></g><g transform="translate(288,389.38) rotate(21)"><ellipse rx="5.75" ry="3.19" fill="#656565"/><ellipse rx="5.75" ry="3.19" fill="url(#part)"/></g><g transform="translate(288.07,417.68) rotate(10)"><ellipse rx="5.84" ry="2.64" fill="#717171"/><ellipse rx="5.84" ry="2.64" fill="url(#part)"/></g><g transform="translate(283.97,361.57) rotate(154)"><ellipse rx="5.9" ry="2.78" fill="#3c3c3c"/><ellipse rx="5.9" ry="2.78" fill="url(#part)"/></g><g transform="translate(273.6,367.26) rotate(72)"><ellipse rx="4.52" ry="3.23" fill="#3c3c3c"/><ellipse rx="4.52" ry="3.23" fill="url(#part)"/></g><g transform="translate(357.22,342.48) rotate(134)"><ellipse rx="6.72" ry="2.66" fill="#9d9d9d"/><ellipse rx="6.72" ry="2.66" fill="url(#part)"/></g><g transform="translate(301.79,397.95) rotate(167)"><ellipse rx="6.43" ry="2.75" fill="#868686"/><ellipse rx="6.43" ry="2.75" fill="url(#part)"/></g><g transform="translate(282.59,353.13) rotate(112)"><ellipse rx="6.07" ry="2.76" fill="#5f5f5f"/><ellipse rx="6.07" ry="2.76" fill="url(#part)"/></g><g transform="translate(268.69,356.76) rotate(163)"><ellipse rx="4.45" ry="3.59" fill="#969696"/><ellipse rx="4.45" ry="3.59" fill="url(#part)"/></g><g transform="translate(281.79,413.98) rotate(56)"><ellipse rx="5.06" ry="2.71" fill="#535353"/><ellipse rx="5.06" ry="2.71" fill="url(#part)"/></g><g transform="translate(275.61,341.55) rotate(85)"><ellipse rx="4.98" ry="3" fill="#8e8e8e"/><ellipse rx="4.98" ry="3" fill="url(#part)"/></g><g transform="translate(283.14,372.87) rotate(87)"><ellipse rx="4.84" ry="2.82" fill="#686868"/><ellipse rx="4.84" ry="2.82" fill="url(#part)"/></g><g transform="translate(296.19,406.69) rotate(9)"><ellipse rx="5.15" ry="2.88" fill="#707070"/><ellipse rx="5.15" ry="2.88" fill="url(#part)"/></g><g transform="translate(286.68,388.04) rotate(163)"><ellipse rx="4.65" ry="3.76" fill="#969696"/><ellipse rx="4.65" ry="3.76" fill="url(#part)"/></g><g transform="translate(261.44,336.15) rotate(124)"><ellipse rx="6.59" ry="3.07" fill="#9d9d9d"/><ellipse rx="6.59" ry="3.07" fill="url(#part)"/></g><g transform="translate(255.03,403.16) rotate(93)"><ellipse rx="4.93" ry="3.35" fill="#626262"/><ellipse rx="4.93" ry="3.35" fill="url(#part)"/></g><g transform="translate(345.82,417.74) rotate(110)"><ellipse rx="5.55" ry="3.69" fill="#818181"/><ellipse rx="5.55" ry="3.69" fill="url(#part)"/></g><g transform="translate(255.63,395.19) rotate(47)"><ellipse rx="5.74" ry="2.94" fill="#5a5a5a"/><ellipse rx="5.74" ry="2.94" fill="url(#part)"/></g><g transform="translate(288.76,374.09) rotate(5)"><ellipse rx="6.49" ry="2.93" fill="#737373"/><ellipse rx="6.49" ry="2.93" fill="url(#part)"/></g><g transform="translate(242.82,366.06) rotate(163)"><ellipse rx="4" ry="3.51" fill="#414141"/><ellipse rx="4" ry="3.51" fill="url(#part)"/></g><g transform="translate(306.94,416.71) rotate(160)"><ellipse rx="5.03" ry="3.61" fill="#969696"/><ellipse rx="5.03" ry="3.61" fill="url(#part)"/></g><g transform="translate(255.92,380.2) rotate(115)"><ellipse rx="4.07" ry="3.51" fill="#6e6e6e"/><ellipse rx="4.07" ry="3.51" fill="url(#part)"/></g><g transform="translate(354.13,356.97) rotate(32)"><ellipse rx="6.55" ry="3.52" fill="#a4a4a4"/><ellipse rx="6.55" ry="3.52" fill="url(#part)"/></g><g transform="translate(336.88,347.39) rotate(109)"><ellipse rx="5.67" ry="2.42" fill="#606060"/><ellipse rx="5.67" ry="2.42" fill="url(#part)"/></g><g transform="translate(333.2,397.68) rotate(94)"><ellipse rx="4.43" ry="2.77" fill="#727272"/><ellipse rx="4.43" ry="2.77" fill="url(#part)"/></g><g transform="translate(250.81,347.95) rotate(172)"><ellipse rx="4.72" ry="3.79" fill="#a8a8a8"/><ellipse rx="4.72" ry="3.79" fill="url(#part)"/></g><g transform="translate(318.23,387.79) rotate(97)"><ellipse rx="6.66" ry="3.76" fill="#878787"/><ellipse rx="6.66" ry="3.76" fill="url(#part)"/></g><g transform="translate(318.63,408.09) rotate(163)"><ellipse rx="3.88" ry="3.07" fill="#969696"/><ellipse rx="3.88" ry="3.07" fill="url(#part)"/></g><g transform="translate(279,349.16) rotate(41)"><ellipse rx="4.83" ry="2.93" fill="#7a7a7a"/><ellipse rx="4.83" ry="2.93" fill="url(#part)"/></g><g transform="translate(351.8,412.36) rotate(133)"><ellipse rx="4.11" ry="3.33" fill="#686868"/><ellipse rx="4.11" ry="3.33" fill="url(#part)"/></g><g transform="translate(280.35,404.87) rotate(88)"><ellipse rx="5.77" ry="3.67" fill="#999999"/><ellipse rx="5.77" ry="3.67" fill="url(#part)"/></g><g transform="translate(295.76,361.5) rotate(67)"><ellipse rx="4.37" ry="3.63" fill="#a7a7a7"/><ellipse rx="4.37" ry="3.63" fill="url(#part)"/></g><g transform="translate(348.56,383.7) rotate(81)"><ellipse rx="5.97" ry="3.79" fill="#555555"/><ellipse rx="5.97" ry="3.79" fill="url(#part)"/></g><g transform="translate(297.48,418.65) rotate(136)"><ellipse rx="3.91" ry="3.02" fill="#8a8a8a"/><ellipse rx="3.91" ry="3.02" fill="url(#part)"/></g><g transform="translate(279.58,370.73) rotate(40)"><ellipse rx="3.6" ry="2.43" fill="#767676"/><ellipse rx="3.6" ry="2.43" fill="url(#part)"/></g><g transform="translate(313.88,367.44) rotate(84)"><ellipse rx="4.37" ry="3.24" fill="#434343"/><ellipse rx="4.37" ry="3.24" fill="url(#part)"/></g><g transform="translate(318.82,396.79) rotate(97)"><ellipse rx="6.69" ry="2.43" fill="#7f7f7f"/><ellipse rx="6.69" ry="2.43" fill="url(#part)"/></g><g transform="translate(288.41,397.42) rotate(105)"><ellipse rx="3.87" ry="3.36" fill="#5b5b5b"/><ellipse rx="3.87" ry="3.36" fill="url(#part)"/></g><g transform="translate(320.02,410.59) rotate(93)"><ellipse rx="5.48" ry="2.61" fill="#afafaf"/><ellipse rx="5.48" ry="2.61" fill="url(#part)"/></g><g transform="translate(271.66,403.39) rotate(164)"><ellipse rx="6.14" ry="2.83" fill="#949494"/><ellipse rx="6.14" ry="2.83" fill="url(#part)"/></g><g transform="translate(322.76,409.39) rotate(158)"><ellipse rx="3.44" ry="3.7" fill="#959595"/><ellipse rx="3.44" ry="3.7" fill="url(#part)"/></g><g transform="translate(289.5,395.91) rotate(130)"><ellipse rx="3.49" ry="2.85" fill="#929292"/><ellipse rx="3.49" ry="2.85" fill="url(#part)"/></g><g transform="translate(265.18,385.92) rotate(88)"><ellipse rx="5.77" ry="3.06" fill="#717171"/><ellipse rx="5.77" ry="3.06" fill="url(#part)"/></g><g transform="translate(275.12,412.48) rotate(15)"><ellipse rx="4.61" ry="3.1" fill="#979797"/><ellipse rx="4.61" ry="3.1" fill="url(#part)"/></g><g transform="translate(242.79,387.43) rotate(73)"><ellipse rx="6.12" ry="3.69" fill="#888888"/><ellipse rx="6.12" ry="3.69" fill="url(#part)"/></g><g transform="translate(270.19,350.83) rotate(137)"><ellipse rx="6.79" ry="3.06" fill="#999999"/><ellipse rx="6.79" ry="3.06" fill="url(#part)"/></g><g transform="translate(250.64,370.98) rotate(124)"><ellipse rx="5.85" ry="3.69" fill="#8a8a8a"/><ellipse rx="5.85" ry="3.69" fill="url(#part)"/></g><g transform="translate(343.51,365.83) rotate(102)"><ellipse rx="4.4" ry="3.17" fill="#696969"/><ellipse rx="4.4" ry="3.17" fill="url(#part)"/></g><g transform="translate(296.69,337.64) rotate(114)"><ellipse rx="6.4" ry="3.4" fill="#939393"/><ellipse rx="6.4" ry="3.4" fill="url(#part)"/></g><g transform="translate(256.69,366.1) rotate(97)"><ellipse rx="4.67" ry="3.16" fill="#909090"/><ellipse rx="4.67" ry="3.16" fill="url(#part)"/></g><g transform="translate(264.3,397.2) rotate(122)"><ellipse rx="6.52" ry="3.73" fill="#606060"/><ellipse rx="6.52" ry="3.73" fill="url(#part)"/></g><g transform="translate(259.44,337.9) rotate(116)"><ellipse rx="4.3" ry="3.39" fill="#989898"/><ellipse rx="4.3" ry="3.39" fill="url(#part)"/></g><g transform="translate(277.7,369.25) rotate(136)"><ellipse rx="5.99" ry="3.2" fill="#868686"/><ellipse rx="5.99" ry="3.2" fill="url(#part)"/></g><g transform="translate(304.26,407.29) rotate(66)"><ellipse rx="6.79" ry="3.22" fill="#868686"/><ellipse rx="6.79" ry="3.22" fill="url(#part)"/></g><g transform="translate(322.53,403.97) rotate(86)"><ellipse rx="5.1" ry="3.05" fill="#7b7b7b"/><ellipse rx="5.1" ry="3.05" fill="url(#part)"/></g><g transform="translate(266.59,417.72) rotate(29)"><ellipse rx="6.28" ry="3.31" fill="#696969"/><ellipse rx="6.28" ry="3.31" fill="url(#part)"/></g><g transform="translate(312.84,360.44) rotate(137)"><ellipse rx="3.82" ry="3.29" fill="#505050"/><ellipse rx="3.82" ry="3.29" fill="url(#part)"/></g><g transform="translate(308.81,421.09) rotate(96)"><ellipse rx="6.39" ry="2.95" fill="#7c7c7c"/><ellipse rx="6.39" ry="2.95" fill="url(#part)"/></g><g transform="translate(242.96,357.34) rotate(42)"><ellipse rx="6.31" ry="3.44" fill="#636363"/><ellipse rx="6.31" ry="3.44" fill="url(#part)"/></g><g transform="translate(258.57,367.77) rotate(66)"><ellipse rx="6.24" ry="3.69" fill="#868686"/><ellipse rx="6.24" ry="3.69" fill="url(#part)"/></g><g transform="translate(303.71,343.07) rotate(3)"><ellipse rx="4.32" ry="2.62" fill="#5b5b5b"/><ellipse rx="4.32" ry="2.62" fill="url(#part)"/></g><g transform="translate(291.79,336.19) rotate(66)"><ellipse rx="6.51" ry="3.17" fill="#7b7b7b"/><ellipse rx="6.51" ry="3.17" fill="url(#part)"/></g><g transform="translate(292.57,350.23) rotate(169)"><ellipse rx="3.59" ry="2.61" fill="#8f8f8f"/><ellipse rx="3.59" ry="2.61" fill="url(#part)"/></g><g transform="translate(310.98,410.19) rotate(130)"><ellipse rx="3.68" ry="2.7" fill="#828282"/><ellipse rx="3.68" ry="2.7" fill="url(#part)"/></g><g transform="translate(282.66,352.21) rotate(64)"><ellipse rx="5.11" ry="3.05" fill="#888888"/><ellipse rx="5.11" ry="3.05" fill="url(#part)"/></g><g transform="translate(303.16,354.93) rotate(106)"><ellipse rx="5.79" ry="3.65" fill="#616161"/><ellipse rx="5.79" ry="3.65" fill="url(#part)"/></g><g transform="translate(345.22,411.75) rotate(43)"><ellipse rx="5.25" ry="2.71" fill="#767676"/><ellipse rx="5.25" ry="2.71" fill="url(#part)"/></g><g transform="translate(281.94,392.5) rotate(53)"><ellipse rx="6.63" ry="3.17" fill="#6c6c6c"/><ellipse rx="6.63" ry="3.17" fill="url(#part)"/></g><g transform="translate(299.42,368.54) rotate(144)"><ellipse rx="5.74" ry="2.96" fill="#646464"/><ellipse rx="5.74" ry="2.96" fill="url(#part)"/></g><g transform="translate(296.09,419.7) rotate(122)"><ellipse rx="5.5" ry="3.07" fill="#707070"/><ellipse rx="5.5" ry="3.07" fill="url(#part)"/></g><g transform="translate(258.19,358.67) rotate(117)"><ellipse rx="3.94" ry="3.44" fill="#5b5b5b"/><ellipse rx="3.94" ry="3.44" fill="url(#part)"/></g><g transform="translate(350.58,358.44) rotate(113)"><ellipse rx="4.37" ry="3.09" fill="#5f5f5f"/><ellipse rx="4.37" ry="3.09" fill="url(#part)"/></g><g transform="translate(297.07,419.19) rotate(92)"><ellipse rx="6.73" ry="2.55" fill="#636363"/><ellipse rx="6.73" ry="2.55" fill="url(#part)"/></g><g transform="translate(266.72,350.24) rotate(86)"><ellipse rx="5.11" ry="2.71" fill="#9e9e9e"/><ellipse rx="5.11" ry="2.71" fill="url(#part)"/></g><g transform="translate(299.15,391.04) rotate(65)"><ellipse rx="6.51" ry="3.28" fill="#636363"/><ellipse rx="6.51" ry="3.28" fill="url(#part)"/></g><g transform="translate(271.04,386.73) rotate(74)"><ellipse rx="4.27" ry="3.65" fill="#767676"/><ellipse rx="4.27" ry="3.65" fill="url(#part)"/></g><g transform="translate(341.99,416.2) rotate(82)"><ellipse rx="3.7" ry="3.74" fill="#616161"/><ellipse rx="3.7" ry="3.74" fill="url(#part)"/></g><g transform="translate(349.25,370) rotate(35)"><ellipse rx="3.51" ry="3.75" fill="#515151"/><ellipse rx="3.51" ry="3.75" fill="url(#part)"/></g><g transform="translate(344.24,365.71) rotate(173)"><ellipse rx="4.83" ry="2.68" fill="#7f7f7f"/><ellipse rx="4.83" ry="2.68" fill="url(#part)"/></g><g transform="translate(350.23,393.17) rotate(134)"><ellipse rx="3.47" ry="3.07" fill="#787878"/><ellipse rx="3.47" ry="3.07" fill="url(#part)"/></g><g transform="translate(314.92,349.46) rotate(80)"><ellipse rx="4.43" ry="2.87" fill="#707070"/><ellipse rx="4.43" ry="2.87" fill="url(#part)"/></g><g transform="translate(305.67,360.41) rotate(147)"><ellipse rx="6.43" ry="2.54" fill="#818181"/><ellipse rx="6.43" ry="2.54" fill="url(#part)"/></g><g transform="translate(317.77,394.38) rotate(81)"><ellipse rx="4.51" ry="3.03" fill="#3e3e3e"/><ellipse rx="4.51" ry="3.03" fill="url(#part)"/></g><g transform="translate(249.05,373.39) rotate(158)"><ellipse rx="5.09" ry="2.78" fill="#595959"/><ellipse rx="5.09" ry="2.78" fill="url(#part)"/></g><g transform="translate(297.89,420.74) rotate(131)"><ellipse rx="6.62" ry="3.32" fill="#858585"/><ellipse rx="6.62" ry="3.32" fill="url(#part)"/></g><g transform="translate(339.06,354.95) rotate(55)"><ellipse rx="6.65" ry="3.05" fill="#7d7d7d"/><ellipse rx="6.65" ry="3.05" fill="url(#part)"/></g><g transform="translate(308.71,358.85) rotate(67)"><ellipse rx="4.35" ry="2.41" fill="#c1c1c1"/><ellipse rx="4.35" ry="2.41" fill="url(#part)"/></g><g transform="translate(253.71,358.12) rotate(81)"><ellipse rx="4.09" ry="3.23" fill="#9d9d9d"/><ellipse rx="4.09" ry="3.23" fill="url(#part)"/></g><g transform="translate(268.51,399.61) rotate(13)"><ellipse rx="6.64" ry="2.72" fill="#797979"/><ellipse rx="6.64" ry="2.72" fill="url(#part)"/></g><g transform="translate(285.91,397.8) rotate(96)"><ellipse rx="4.61" ry="3.24" fill="#7c7c7c"/><ellipse rx="4.61" ry="3.24" fill="url(#part)"/></g><g transform="translate(264.14,368.04) rotate(53)"><ellipse rx="4.66" ry="2.64" fill="#3c3c3c"/><ellipse rx="4.66" ry="2.64" fill="url(#part)"/></g><g transform="translate(271.91,372.3) rotate(89)"><ellipse rx="6.69" ry="3.21" fill="#696969"/><ellipse rx="6.69" ry="3.21" fill="url(#part)"/></g><g transform="translate(320,417.94) rotate(151)"><ellipse rx="5.66" ry="3.02" fill="#818181"/><ellipse rx="5.66" ry="3.02" fill="url(#part)"/></g><g transform="translate(267.29,365.11) rotate(46)"><ellipse rx="4.33" ry="3.63" fill="#7d7d7d"/><ellipse rx="4.33" ry="3.63" fill="url(#part)"/></g><g transform="translate(332.89,401.58) rotate(174)"><ellipse rx="4.73" ry="2.64" fill="#a1a1a1"/><ellipse rx="4.73" ry="2.64" fill="url(#part)"/></g><g transform="translate(310.14,335.83) rotate(45)"><ellipse rx="4.31" ry="2.89" fill="#767676"/><ellipse rx="4.31" ry="2.89" fill="url(#part)"/></g><g transform="translate(352.75,351.41) rotate(133)"><ellipse rx="4.48" ry="2.58" fill="#4e4e4e"/><ellipse rx="4.48" ry="2.58" fill="url(#part)"/></g><g transform="translate(330.05,371.6) rotate(41)"><ellipse rx="4.6" ry="3.54" fill="#8d8d8d"/><ellipse rx="4.6" ry="3.54" fill="url(#part)"/></g><g transform="translate(289.73,349.27) rotate(36)"><ellipse rx="5.71" ry="3.26" fill="#7b7b7b"/><ellipse rx="5.71" ry="3.26" fill="url(#part)"/></g><g transform="translate(274.74,358.8) rotate(66)"><ellipse rx="6.3" ry="3.17" fill="#535353"/><ellipse rx="6.3" ry="3.17" fill="url(#part)"/></g><g transform="translate(324.02,351.97) rotate(78)"><ellipse rx="4.49" ry="2.97" fill="#3d3d3d"/><ellipse rx="4.49" ry="2.97" fill="url(#part)"/></g><g transform="translate(326.91,340.71) rotate(172)"><ellipse rx="4.69" ry="3.65" fill="#a0a0a0"/><ellipse rx="4.69" ry="3.65" fill="url(#part)"/></g><g transform="translate(321.63,390.36) rotate(103)"><ellipse rx="3.96" ry="3.57" fill="#525252"/><ellipse rx="3.96" ry="3.57" fill="url(#part)"/></g><g transform="translate(319.59,363.87) rotate(47)"><ellipse rx="3.7" ry="2.91" fill="#8c8c8c"/><ellipse rx="3.7" ry="2.91" fill="url(#part)"/></g><g transform="translate(284.74,412.41) rotate(167)"><ellipse rx="6.3" ry="2.59" fill="#c4c4c4"/><ellipse rx="6.3" ry="2.59" fill="url(#part)"/></g><g transform="translate(258.73,417.59) rotate(146)"><ellipse rx="4.17" ry="3.73" fill="#717171"/><ellipse rx="4.17" ry="3.73" fill="url(#part)"/></g><g transform="translate(265.38,387.49) rotate(46)"><ellipse rx="4.12" ry="2.61" fill="#a3a3a3"/><ellipse rx="4.12" ry="2.61" fill="url(#part)"/></g><g transform="translate(334.9,390.24) rotate(129)"><ellipse rx="5.31" ry="2.78" fill="#9a9a9a"/><ellipse rx="5.31" ry="2.78" fill="url(#part)"/></g><g transform="translate(294.31,385.87) rotate(130)"><ellipse rx="5.86" ry="3.37" fill="#757575"/><ellipse rx="5.86" ry="3.37" fill="url(#part)"/></g><g transform="translate(342.03,342.8) rotate(18)"><ellipse rx="6.65" ry="2.59" fill="#8a8a8a"/><ellipse rx="6.65" ry="2.59" fill="url(#part)"/></g><g transform="translate(284.81,346.39) rotate(28)"><ellipse rx="6.12" ry="3.13" fill="#5a5a5a"/><ellipse rx="6.12" ry="3.13" fill="url(#part)"/></g><g transform="translate(258.41,340.77) rotate(21)"><ellipse rx="4.05" ry="3.5" fill="#797979"/><ellipse rx="4.05" ry="3.5" fill="url(#part)"/></g><g transform="translate(281.33,354.73) rotate(175)"><ellipse rx="3.79" ry="2.82" fill="#8d8d8d"/><ellipse rx="3.79" ry="2.82" fill="url(#part)"/></g><g transform="translate(244.23,345.36) rotate(48)"><ellipse rx="5.56" ry="2.99" fill="#676767"/><ellipse rx="5.56" ry="2.99" fill="url(#part)"/></g><g transform="translate(249.36,361.54) rotate(168)"><ellipse rx="3.56" ry="2.63" fill="#8e8e8e"/><ellipse rx="3.56" ry="2.63" fill="url(#part)"/></g><g transform="translate(288.67,338.81) rotate(89)"><ellipse rx="4.12" ry="2.58" fill="#808080"/><ellipse rx="4.12" ry="2.58" fill="url(#part)"/></g><g transform="translate(280.91,354.7) rotate(94)"><ellipse rx="5.3" ry="3.57" fill="#c2c2c2"/><ellipse rx="5.3" ry="3.57" fill="url(#part)"/></g><g transform="translate(278.4,390.79) rotate(146)"><ellipse rx="6.75" ry="3.17" fill="#5e5e5e"/><ellipse rx="6.75" ry="3.17" fill="url(#part)"/></g><g transform="translate(275.3,384.57) rotate(95)"><ellipse rx="4.93" ry="2.91" fill="#5e5e5e"/><ellipse rx="4.93" ry="2.91" fill="url(#part)"/></g><g transform="translate(324.75,369.41) rotate(157)"><ellipse rx="6.13" ry="2.4" fill="#5d5d5d"/><ellipse rx="6.13" ry="2.4" fill="url(#part)"/></g><g transform="translate(295.23,405.51) rotate(2)"><ellipse rx="6.51" ry="2.49" fill="#707070"/><ellipse rx="6.51" ry="2.49" fill="url(#part)"/></g><g transform="translate(260.31,376.84) rotate(23)"><ellipse rx="5.85" ry="2.56" fill="#969696"/><ellipse rx="5.85" ry="2.56" fill="url(#part)"/></g><g transform="translate(293.52,398.15) rotate(97)"><ellipse rx="5.18" ry="3.5" fill="#808080"/><ellipse rx="5.18" ry="3.5" fill="url(#part)"/></g><g transform="translate(270.37,358.76) rotate(114)"><ellipse rx="5.33" ry="2.65" fill="#4b4b4b"/><ellipse rx="5.33" ry="2.65" fill="url(#part)"/></g><g transform="translate(293.15,416.09) rotate(31)"><ellipse rx="6.59" ry="3.39" fill="#6a6a6a"/><ellipse rx="6.59" ry="3.39" fill="url(#part)"/></g><g transform="translate(354.45,385.47) rotate(144)"><ellipse rx="3.85" ry="2.78" fill="#7d7d7d"/><ellipse rx="3.85" ry="2.78" fill="url(#part)"/></g><g transform="translate(273.34,383.01) rotate(55)"><ellipse rx="4.92" ry="3.55" fill="#838383"/><ellipse rx="4.92" ry="3.55" fill="url(#part)"/></g><g transform="translate(329,404.55) rotate(124)"><ellipse rx="5.65" ry="2.56" fill="#767676"/><ellipse rx="5.65" ry="2.56" fill="url(#part)"/></g><g transform="translate(309.38,395.81) rotate(128)"><ellipse rx="4.49" ry="3.55" fill="#707070"/><ellipse rx="4.49" ry="3.55" fill="url(#part)"/></g><g transform="translate(269.31,336.32) rotate(99)"><ellipse rx="6" ry="3.02" fill="#838383"/><ellipse rx="6" ry="3.02" fill="url(#part)"/></g><g transform="translate(252.06,367.85) rotate(164)"><ellipse rx="5.65" ry="3.53" fill="#9e9e9e"/><ellipse rx="5.65" ry="3.53" fill="url(#part)"/></g><g transform="translate(353.43,415.72) rotate(51)"><ellipse rx="3.66" ry="3.52" fill="#9a9a9a"/><ellipse rx="3.66" ry="3.52" fill="url(#part)"/></g><g transform="translate(323.26,341.3) rotate(30)"><ellipse rx="4.71" ry="2.98" fill="#939393"/><ellipse rx="4.71" ry="2.98" fill="url(#part)"/></g><g transform="translate(350.24,399.49) rotate(135)"><ellipse rx="6.57" ry="3.79" fill="#8e8e8e"/><ellipse rx="6.57" ry="3.79" fill="url(#part)"/></g><g transform="translate(285,387.09) rotate(103)"><ellipse rx="6.28" ry="3.78" fill="#a0a0a0"/><ellipse rx="6.28" ry="3.78" fill="url(#part)"/></g><g transform="translate(323.16,383.46) rotate(95)"><ellipse rx="4.73" ry="3.59" fill="#919191"/><ellipse rx="4.73" ry="3.59" fill="url(#part)"/></g><g transform="translate(249.32,359.47) rotate(64)"><ellipse rx="6.4" ry="3.21" fill="#797979"/><ellipse rx="6.4" ry="3.21" fill="url(#part)"/></g><g transform="translate(273.23,352.18) rotate(162)"><ellipse rx="5.24" ry="2.67" fill="#969696"/><ellipse rx="5.24" ry="2.67" fill="url(#part)"/></g><g transform="translate(289.28,390.38) rotate(66)"><ellipse rx="3.47" ry="3.54" fill="#4c4c4c"/><ellipse rx="3.47" ry="3.54" fill="url(#part)"/></g><g transform="translate(286.5,343.54) rotate(5)"><ellipse rx="6.53" ry="3.43" fill="#909090"/><ellipse rx="6.53" ry="3.43" fill="url(#part)"/></g><g transform="translate(354.45,391.25) rotate(55)"><ellipse rx="4.07" ry="2.4" fill="#6f6f6f"/><ellipse rx="4.07" ry="2.4" fill="url(#part)"/></g><g transform="translate(329.11,404.23) rotate(144)"><ellipse rx="6.26" ry="3.01" fill="#707070"/><ellipse rx="6.26" ry="3.01" fill="url(#part)"/></g><g transform="translate(326.3,335.89) rotate(151)"><ellipse rx="4.33" ry="2.96" fill="#9e9e9e"/><ellipse rx="4.33" ry="2.96" fill="url(#part)"/></g><g transform="translate(258.17,351.64) rotate(173)"><ellipse rx="4.38" ry="2.93" fill="#8e8e8e"/><ellipse rx="4.38" ry="2.93" fill="url(#part)"/></g><g transform="translate(292.42,373.05) rotate(12)"><ellipse rx="5.24" ry="3.43" fill="#787878"/><ellipse rx="5.24" ry="3.43" fill="url(#part)"/></g><g transform="translate(275.65,358.94) rotate(99)"><ellipse rx="5.17" ry="3.63" fill="#b3b3b3"/><ellipse rx="5.17" ry="3.63" fill="url(#part)"/></g><g transform="translate(336.83,366.01) rotate(121)"><ellipse rx="3.51" ry="3.57" fill="#525252"/><ellipse rx="3.51" ry="3.57" fill="url(#part)"/></g><g transform="translate(280.13,348.11) rotate(143)"><ellipse rx="3.56" ry="2.56" fill="#acacac"/><ellipse rx="3.56" ry="2.56" fill="url(#part)"/></g><g transform="translate(349.67,403.64) rotate(152)"><ellipse rx="6.66" ry="2.69" fill="#686868"/><ellipse rx="6.66" ry="2.69" fill="url(#part)"/></g><g transform="translate(325.43,419.95) rotate(161)"><ellipse rx="5.96" ry="3.08" fill="#9d9d9d"/><ellipse rx="5.96" ry="3.08" fill="url(#part)"/></g><g transform="translate(322.18,341.75) rotate(180)"><ellipse rx="4.27" ry="2.96" fill="#848484"/><ellipse rx="4.27" ry="2.96" fill="url(#part)"/></g><g transform="translate(353.63,353.93) rotate(57)"><ellipse rx="3.7" ry="2.63" fill="#636363"/><ellipse rx="3.7" ry="2.63" fill="url(#part)"/></g><g transform="translate(279.01,346.81) rotate(159)"><ellipse rx="4.91" ry="3.72" fill="#838383"/><ellipse rx="4.91" ry="3.72" fill="url(#part)"/></g><g transform="translate(305.3,352.22) rotate(137)"><ellipse rx="6.75" ry="3.03" fill="#a8a8a8"/><ellipse rx="6.75" ry="3.03" fill="url(#part)"/></g><g transform="translate(335.01,390.8) rotate(95)"><ellipse rx="4.46" ry="3.19" fill="#696969"/><ellipse rx="4.46" ry="3.19" fill="url(#part)"/></g><g transform="translate(266.75,392.1) rotate(67)"><ellipse rx="4.88" ry="2.42" fill="#7c7c7c"/><ellipse rx="4.88" ry="2.42" fill="url(#part)"/></g><g transform="translate(328.48,384.05) rotate(39)"><ellipse rx="6.38" ry="2.84" fill="#a3a3a3"/><ellipse rx="6.38" ry="2.84" fill="url(#part)"/></g><g transform="translate(319.49,350.03) rotate(5)"><ellipse rx="4.86" ry="2.78" fill="#3c3c3c"/><ellipse rx="4.86" ry="2.78" fill="url(#part)"/></g><g transform="translate(324.1,353.93) rotate(128)"><ellipse rx="6.51" ry="3.31" fill="#858585"/><ellipse rx="6.51" ry="3.31" fill="url(#part)"/></g><g transform="translate(302.13,343.56) rotate(168)"><ellipse rx="6.06" ry="2.87" fill="#6c6c6c"/><ellipse rx="6.06" ry="2.87" fill="url(#part)"/></g><g transform="translate(291.95,368.83) rotate(177)"><ellipse rx="3.48" ry="2.77" fill="#7d7d7d"/><ellipse rx="3.48" ry="2.77" fill="url(#part)"/></g><g transform="translate(246.13,362.78) rotate(51)"><ellipse rx="3.89" ry="3.67" fill="#646464"/><ellipse rx="3.89" ry="3.67" fill="url(#part)"/></g><g transform="translate(326.02,343.06) rotate(66)"><ellipse rx="3.45" ry="2.52" fill="#666666"/><ellipse rx="3.45" ry="2.52" fill="url(#part)"/></g><g transform="translate(279.25,364.12) rotate(33)"><ellipse rx="3.58" ry="3.44" fill="#505050"/><ellipse rx="3.58" ry="3.44" fill="url(#part)"/></g><g transform="translate(325.37,388.41) rotate(97)"><ellipse rx="4.94" ry="3.45" fill="#7d7d7d"/><ellipse rx="4.94" ry="3.45" fill="url(#part)"/></g><g transform="translate(334.76,351.85) rotate(70)"><ellipse rx="4.46" ry="2.69" fill="#7b7b7b"/><ellipse rx="4.46" ry="2.69" fill="url(#part)"/></g><g transform="translate(263.67,403.19) rotate(101)"><ellipse rx="3.41" ry="2.76" fill="#7f7f7f"/><ellipse rx="3.41" ry="2.76" fill="url(#part)"/></g><g transform="translate(355.67,415.1) rotate(99)"><ellipse rx="4.46" ry="3.54" fill="#6d6d6d"/><ellipse rx="4.46" ry="3.54" fill="url(#part)"/></g><g transform="translate(301.55,343.78) rotate(102)"><ellipse rx="5.52" ry="3.45" fill="#9b9b9b"/><ellipse rx="5.52" ry="3.45" fill="url(#part)"/></g><g transform="translate(281.88,356.28) rotate(106)"><ellipse rx="4.74" ry="3.65" fill="#5e5e5e"/><ellipse rx="4.74" ry="3.65" fill="url(#part)"/></g><g transform="translate(336.29,395.61) rotate(87)"><ellipse rx="5.44" ry="2.91" fill="#616161"/><ellipse rx="5.44" ry="2.91" fill="url(#part)"/></g><g transform="translate(304.37,373.54) rotate(134)"><ellipse rx="6.09" ry="3.28" fill="#545454"/><ellipse rx="6.09" ry="3.28" fill="url(#part)"/></g><g transform="translate(250.44,394.81) rotate(169)"><ellipse rx="4.29" ry="2.67" fill="#9a9a9a"/><ellipse rx="4.29" ry="2.67" fill="url(#part)"/></g><g transform="translate(266.41,407.67) rotate(37)"><ellipse rx="5.64" ry="3.13" fill="#777777"/><ellipse rx="5.64" ry="3.13" fill="url(#part)"/></g><g transform="translate(339.15,358.62) rotate(136)"><ellipse rx="4.62" ry="2.72" fill="#757575"/><ellipse rx="4.62" ry="2.72" fill="url(#part)"/></g><g transform="translate(339.55,343.73) rotate(62)"><ellipse rx="5.15" ry="3.17" fill="#b0b0b0"/><ellipse rx="5.15" ry="3.17" fill="url(#part)"/></g><g transform="translate(307.3,357.44) rotate(95)"><ellipse rx="4.91" ry="3.19" fill="#555555"/><ellipse rx="4.91" ry="3.19" fill="url(#part)"/></g><g transform="translate(273.59,364.07) rotate(139)"><ellipse rx="4.01" ry="3.36" fill="#616161"/><ellipse rx="4.01" ry="3.36" fill="url(#part)"/></g><g transform="translate(258.28,406.7) rotate(37)"><ellipse rx="5" ry="2.65" fill="#b6b6b6"/><ellipse rx="5" ry="2.65" fill="url(#part)"/></g><g transform="translate(269.64,392.31) rotate(77)"><ellipse rx="6.56" ry="3.51" fill="#6d6d6d"/><ellipse rx="6.56" ry="3.51" fill="url(#part)"/></g><g transform="translate(253.82,339.46) rotate(52)"><ellipse rx="4.18" ry="3" fill="#7e7e7e"/><ellipse rx="4.18" ry="3" fill="url(#part)"/></g><g transform="translate(277.3,359.47) rotate(41)"><ellipse rx="4.74" ry="3.3" fill="#8e8e8e"/><ellipse rx="4.74" ry="3.3" fill="url(#part)"/></g><g transform="translate(250.81,391.73) rotate(65)"><ellipse rx="3.79" ry="2.51" fill="#8c8c8c"/><ellipse rx="3.79" ry="2.51" fill="url(#part)"/></g><g transform="translate(300.32,348.78) rotate(113)"><ellipse rx="6.42" ry="2.54" fill="#868686"/><ellipse rx="6.42" ry="2.54" fill="url(#part)"/></g><g transform="translate(325.3,420.33) rotate(88)"><ellipse rx="4.05" ry="3.41" fill="#757575"/><ellipse rx="4.05" ry="3.41" fill="url(#part)"/></g><g transform="translate(287.99,374.26) rotate(108)"><ellipse rx="6.22" ry="3.38" fill="#454545"/><ellipse rx="6.22" ry="3.38" fill="url(#part)"/></g><g transform="translate(266.67,415.05) rotate(59)"><ellipse rx="3.74" ry="2.84" fill="#a1a1a1"/><ellipse rx="3.74" ry="2.84" fill="url(#part)"/></g><g transform="translate(266.61,375.88) rotate(16)"><ellipse rx="4.23" ry="2.99" fill="#3c3c3c"/><ellipse rx="4.23" ry="2.99" fill="url(#part)"/></g><g transform="translate(342.25,415.66) rotate(77)"><ellipse rx="4.39" ry="3.6" fill="#666666"/><ellipse rx="4.39" ry="3.6" fill="url(#part)"/></g><g transform="translate(343.22,361.57) rotate(83)"><ellipse rx="4.58" ry="2.6" fill="#747474"/><ellipse rx="4.58" ry="2.6" fill="url(#part)"/></g><g transform="translate(323.98,348.39) rotate(173)"><ellipse rx="5.01" ry="3.32" fill="#a5a5a5"/><ellipse rx="5.01" ry="3.32" fill="url(#part)"/></g><g transform="translate(342.21,374.08) rotate(20)"><ellipse rx="6.5" ry="2.43" fill="#a6a6a6"/><ellipse rx="6.5" ry="2.43" fill="url(#part)"/></g><g transform="translate(269.85,391.17) rotate(103)"><ellipse rx="5.43" ry="2.8" fill="#616161"/><ellipse rx="5.43" ry="2.8" fill="url(#part)"/></g><g transform="translate(307.24,407.81) rotate(164)"><ellipse rx="4.1" ry="2.98" fill="#9a9a9a"/><ellipse rx="4.1" ry="2.98" fill="url(#part)"/></g><g transform="translate(277.61,389.39) rotate(17)"><ellipse rx="6.57" ry="3.04" fill="#5d5d5d"/><ellipse rx="6.57" ry="3.04" fill="url(#part)"/></g><g transform="translate(348.92,339.95) rotate(78)"><ellipse rx="4.63" ry="3.12" fill="#888888"/><ellipse rx="4.63" ry="3.12" fill="url(#part)"/></g><g transform="translate(274.09,362.62) rotate(45)"><ellipse rx="4.47" ry="3.12" fill="#777777"/><ellipse rx="4.47" ry="3.12" fill="url(#part)"/></g><g transform="translate(247.58,382.9) rotate(143)"><ellipse rx="5.6" ry="2.79" fill="#7f7f7f"/><ellipse rx="5.6" ry="2.79" fill="url(#part)"/></g><g transform="translate(356.17,409.54) rotate(131)"><ellipse rx="5.8" ry="3.33" fill="#676767"/><ellipse rx="5.8" ry="3.33" fill="url(#part)"/></g><g transform="translate(259.86,386.33) rotate(49)"><ellipse rx="5.31" ry="3.7" fill="#464646"/><ellipse rx="5.31" ry="3.7" fill="url(#part)"/></g><g transform="translate(331.15,338.48) rotate(125)"><ellipse rx="4.53" ry="2.42" fill="#757575"/><ellipse rx="4.53" ry="2.42" fill="url(#part)"/></g><g transform="translate(282.5,406.86) rotate(115)"><ellipse rx="4.57" ry="3.57" fill="#919191"/><ellipse rx="4.57" ry="3.57" fill="url(#part)"/></g><g transform="translate(257.01,347.3) rotate(58)"><ellipse rx="3.56" ry="3.7" fill="#6f6f6f"/><ellipse rx="3.56" ry="3.7" fill="url(#part)"/></g><g transform="translate(315.49,409.87) rotate(121)"><ellipse rx="3.49" ry="2.8" fill="#717171"/><ellipse rx="3.49" ry="2.8" fill="url(#part)"/></g><g transform="translate(316.14,395.48) rotate(61)"><ellipse rx="4.99" ry="3.06" fill="#b1b1b1"/><ellipse rx="4.99" ry="3.06" fill="url(#part)"/></g><g transform="translate(264.58,415.03) rotate(113)"><ellipse rx="4.31" ry="3.78" fill="#999999"/><ellipse rx="4.31" ry="3.78" fill="url(#part)"/></g><g transform="translate(355.66,367.15) rotate(4)"><ellipse rx="5.32" ry="2.78" fill="#787878"/><ellipse rx="5.32" ry="2.78" fill="url(#part)"/></g><g transform="translate(340.62,342.69) rotate(10)"><ellipse rx="4.82" ry="3.44" fill="#747474"/><ellipse rx="4.82" ry="3.44" fill="url(#part)"/></g><g transform="translate(324.16,342.02) rotate(77)"><ellipse rx="5.93" ry="2.66" fill="#929292"/><ellipse rx="5.93" ry="2.66" fill="url(#part)"/></g><g transform="translate(282.5,367.53) rotate(119)"><ellipse rx="5.73" ry="2.79" fill="#535353"/><ellipse rx="5.73" ry="2.79" fill="url(#part)"/></g><g transform="translate(249.71,373.66) rotate(94)"><ellipse rx="5.57" ry="2.93" fill="#959595"/><ellipse rx="5.57" ry="2.93" fill="url(#part)"/></g><g transform="translate(251.75,410.78) rotate(155)"><ellipse rx="6.19" ry="3.7" fill="#787878"/><ellipse rx="6.19" ry="3.7" fill="url(#part)"/></g><g transform="translate(254.11,340.93) rotate(5)"><ellipse rx="5.86" ry="3.41" fill="#919191"/><ellipse rx="5.86" ry="3.41" fill="url(#part)"/></g><g transform="translate(262.14,378.06) rotate(46)"><ellipse rx="5.08" ry="3.34" fill="#8b8b8b"/><ellipse rx="5.08" ry="3.34" fill="url(#part)"/></g><g transform="translate(282.54,417.33) rotate(114)"><ellipse rx="5.14" ry="2.42" fill="#6c6c6c"/><ellipse rx="5.14" ry="2.42" fill="url(#part)"/></g><g transform="translate(256.7,372.02) rotate(36)"><ellipse rx="4.85" ry="2.75" fill="#636363"/><ellipse rx="4.85" ry="2.75" fill="url(#part)"/></g><g transform="translate(278.17,408.17) rotate(41)"><ellipse rx="3.81" ry="3.49" fill="#acacac"/><ellipse rx="3.81" ry="3.49" fill="url(#part)"/></g><g transform="translate(258.81,406.05) rotate(50)"><ellipse rx="6.09" ry="3.34" fill="#aeaeae"/><ellipse rx="6.09" ry="3.34" fill="url(#part)"/></g><g transform="translate(273.46,360.95) rotate(65)"><ellipse rx="4.82" ry="2.63" fill="#868686"/><ellipse rx="4.82" ry="2.63" fill="url(#part)"/></g><g transform="translate(315.03,397.8) rotate(122)"><ellipse rx="3.54" ry="3.65" fill="#525252"/><ellipse rx="3.54" ry="3.65" fill="url(#part)"/></g><g transform="translate(310.52,389.87) rotate(145)"><ellipse rx="3.93" ry="2.51" fill="#828282"/><ellipse rx="3.93" ry="2.51" fill="url(#part)"/></g><g transform="translate(334.55,386.9) rotate(80)"><ellipse rx="3.41" ry="3.27" fill="#959595"/><ellipse rx="3.41" ry="3.27" fill="url(#part)"/></g><g transform="translate(284.19,354.08) rotate(26)"><ellipse rx="4.17" ry="3.25" fill="#595959"/><ellipse rx="4.17" ry="3.25" fill="url(#part)"/></g><g transform="translate(267.29,402.63) rotate(109)"><ellipse rx="4.85" ry="3.39" fill="#757575"/><ellipse rx="4.85" ry="3.39" fill="url(#part)"/></g><g transform="translate(284.15,396.07) rotate(116)"><ellipse rx="3.84" ry="2.61" fill="#4d4d4d"/><ellipse rx="3.84" ry="2.61" fill="url(#part)"/></g><g transform="translate(259.79,350.54) rotate(37)"><ellipse rx="4.3" ry="3.24" fill="#858585"/><ellipse rx="4.3" ry="3.24" fill="url(#part)"/></g><g transform="translate(287.06,402.7) rotate(161)"><ellipse rx="5.89" ry="2.45" fill="#595959"/><ellipse rx="5.89" ry="2.45" fill="url(#part)"/></g><g transform="translate(258.7,395.94) rotate(58)"><ellipse rx="6.1" ry="3.65" fill="#858585"/><ellipse rx="6.1" ry="3.65" fill="url(#part)"/></g><g transform="translate(298,356.62) rotate(91)"><ellipse rx="3.59" ry="3.71" fill="#898989"/><ellipse rx="3.59" ry="3.71" fill="url(#part)"/></g><g transform="translate(342.05,353.53) rotate(18)"><ellipse rx="3.56" ry="2.74" fill="#848484"/><ellipse rx="3.56" ry="2.74" fill="url(#part)"/></g><g transform="translate(310.71,358.52) rotate(81)"><ellipse rx="5" ry="3.4" fill="#797979"/><ellipse rx="5" ry="3.4" fill="url(#part)"/></g><g transform="translate(276.72,380.7) rotate(53)"><ellipse rx="4.98" ry="3.47" fill="#515151"/><ellipse rx="4.98" ry="3.47" fill="url(#part)"/></g><g transform="translate(276.05,395.35) rotate(92)"><ellipse rx="4.32" ry="2.55" fill="#898989"/><ellipse rx="4.32" ry="2.55" fill="url(#part)"/></g><circle cx="282.21" cy="388.52" r="3.22" fill="#CFCFCF"/><circle cx="281.25" cy="342.49" r="2.42" fill="#CFCFCF"/><circle cx="259.49" cy="361.16" r="2.35" fill="#CFCFCF"/><circle cx="273.35" cy="376.15" r="2.95" fill="#CFCFCF"/><circle cx="322.51" cy="352.28" r="3.2" fill="#CFCFCF"/><circle cx="287.71" cy="341.94" r="3.37" fill="#CFCFCF"/><circle cx="351.22" cy="368.74" r="3.26" fill="#CFCFCF"/><circle cx="253.47" cy="364.02" r="3.39" fill="#CFCFCF"/></g></g>
<rect x="19.3" y="422.3" width="109.5" height="63.2" fill="#050505"/>
<rect x="19.3" y="422.3" width="109.5" height="63.2" filter="url(#edsC)"/>
<text x="26.4" y="435.2" font-size="12.5" fill="#fff">C</text>
<rect x="133.6" y="422.3" width="105.9" height="63.2" fill="#050505"/>
<rect x="133.6" y="422.3" width="105.9" height="63.2" filter="url(#edsO)"/>
<text x="141.4" y="435.2" font-size="12.5" fill="#fff">O</text>
<rect x="245.1" y="422.3" width="109.1" height="63.2" fill="#050505"/>
<rect x="245.1" y="422.3" width="109.1" height="63.2" filter="url(#edsS)"/>
<text x="253.6" y="435.2" font-size="12.5" fill="#fff">Si</text>
<rect x="100.6" y="368.5" width="12.3" height="11.2" fill="#D9CDA8" fill-opacity="0.75" stroke="#F5B400" stroke-width="1.6"/>
<rect x="213.9" y="369.3" width="11.4" height="11.6" fill="#D9CDA8" fill-opacity="0.75" stroke="#F5B400" stroke-width="1.6"/>
<line x1="112.9" y1="368.5" x2="134.2" y2="337.6" stroke="#F5B400" stroke-width="1.4" stroke-dasharray="3.2 2.2"/>
<line x1="112.9" y1="379.7" x2="134.2" y2="418" stroke="#F5B400" stroke-width="1.4" stroke-dasharray="3.2 2.2"/>
<line x1="225.3" y1="369.3" x2="245.1" y2="337.6" stroke="#F5B400" stroke-width="1.4" stroke-dasharray="3.2 2.2"/>
<line x1="225.3" y1="380.9" x2="245.1" y2="418" stroke="#F5B400" stroke-width="1.4" stroke-dasharray="3.2 2.2"/>
<text x="26.6" y="406.5" font-size="10.6" fill="#fff">50 μm</text>
<rect x="27.0" y="410.5" width="22.7" height="3.1" fill="#fff"/>
<text x="142.2" y="407.3" font-size="10.6" fill="#fff">3 μm</text>
<rect x="140.0" y="410.5" width="26.1" height="3.1" fill="#fff"/>
<text x="254" y="407.3" font-size="10.6" fill="#fff">300 nm</text>
<rect x="253.3" y="410.5" width="24.7" height="3.1" fill="#fff"/>
<text x="3.6" y="341" font-size="14.3" font-weight="bold">h</text>
</svg></body></html>
